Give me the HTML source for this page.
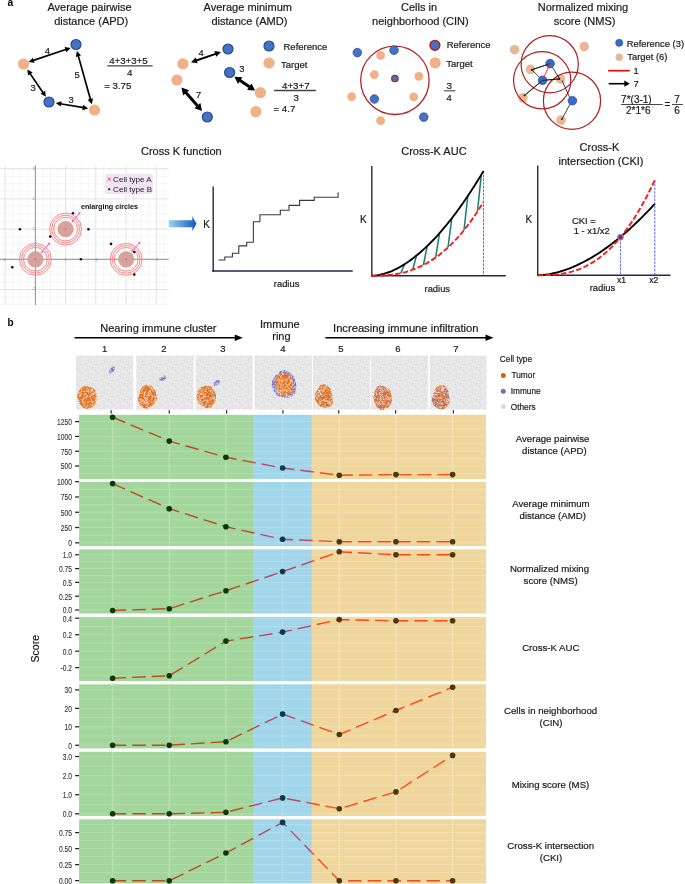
<!DOCTYPE html>
<html><head><meta charset="utf-8"><title>Spatial metrics figure</title>
<style>html,body{margin:0;padding:0;background:#fff;}body{width:685px;height:884px;overflow:hidden;font-family:"Liberation Sans",sans-serif;}svg{display:block;will-change:transform;}</style>
</head><body><svg width="685" height="884" viewBox="0 0 685 884" font-family="Liberation Sans, sans-serif"><text x="7.60" y="6.30" font-size="10.3" text-anchor="start" fill="#000" font-weight="bold" >a</text><text x="89.50" y="11.00" font-size="11" text-anchor="middle" fill="#1a1a1a" stroke="#1a1a1a" stroke-width="0.2" >Average pairwise</text><text x="91.20" y="24.70" font-size="11" text-anchor="middle" fill="#1a1a1a" stroke="#1a1a1a" stroke-width="0.2" >distance (APD)</text><line x1="32.67" y1="60.61" x2="66.53" y2="49.29" stroke="#000" stroke-width="1.7" /><path d="M70.70,47.90 L66.35,52.25 L64.61,47.03Z" fill="#000"/><path d="M28.50,62.00 L32.85,57.65 L34.59,62.87Z" fill="#000"/><line x1="29.78" y1="73.14" x2="43.42" y2="93.16" stroke="#000" stroke-width="1.7" /><path d="M45.90,96.80 L40.53,93.80 L45.08,90.71Z" fill="#000"/><path d="M27.30,69.50 L32.67,72.50 L28.12,75.59Z" fill="#000"/><line x1="78.08" y1="55.14" x2="90.62" y2="99.96" stroke="#000" stroke-width="1.7" /><path d="M91.80,104.20 L87.67,99.64 L92.97,98.16Z" fill="#000"/><path d="M76.90,50.90 L81.03,55.46 L75.73,56.94Z" fill="#000"/><line x1="60.14" y1="103.73" x2="83.76" y2="107.67" stroke="#000" stroke-width="1.7" /><path d="M88.10,108.40 L82.22,110.21 L83.13,104.78Z" fill="#000"/><path d="M55.80,103.00 L61.68,101.19 L60.77,106.62Z" fill="#000"/><circle cx="76.00" cy="44.50" r="5.00" fill="#4472c4" stroke="#27498a" stroke-width="1.2" /><circle cx="23.50" cy="64.00" r="5.60" fill="#f0b088" stroke="none" stroke-width="0" /><circle cx="49.00" cy="102.00" r="5.00" fill="#4472c4" stroke="#27498a" stroke-width="1.2" /><circle cx="94.50" cy="110.00" r="5.60" fill="#f0b088" stroke="none" stroke-width="0" /><text x="47.40" y="53.60" font-size="9.4" text-anchor="middle" fill="#1a1a1a" stroke="#1a1a1a" stroke-width="0.2" >4</text><text x="33.00" y="90.90" font-size="9.4" text-anchor="middle" fill="#1a1a1a" stroke="#1a1a1a" stroke-width="0.2" >3</text><text x="77.10" y="78.00" font-size="9.4" text-anchor="middle" fill="#1a1a1a" stroke="#1a1a1a" stroke-width="0.2" >5</text><text x="71.20" y="102.90" font-size="9.4" text-anchor="middle" fill="#1a1a1a" stroke="#1a1a1a" stroke-width="0.2" >3</text><text x="128.40" y="63.70" font-size="9.7" text-anchor="middle" fill="#1a1a1a" stroke="#1a1a1a" stroke-width="0.2" >4+3+3+5</text><line x1="107.20" y1="65.90" x2="152.60" y2="65.90" stroke="#444" stroke-width="1.3" /><text x="129.70" y="76.20" font-size="9.7" text-anchor="middle" fill="#1a1a1a" stroke="#1a1a1a" stroke-width="0.2" >4</text><text x="104.20" y="89.00" font-size="9.7" text-anchor="start" fill="#1a1a1a" stroke="#1a1a1a" stroke-width="0.2" >= 3.75</text><text x="247.80" y="11.00" font-size="11" text-anchor="middle" fill="#1a1a1a" stroke="#1a1a1a" stroke-width="0.2" >Average minimum</text><text x="249.40" y="24.70" font-size="11" text-anchor="middle" fill="#1a1a1a" stroke="#1a1a1a" stroke-width="0.2" >distance (AMD)</text><line x1="195.54" y1="60.74" x2="216.46" y2="53.56" stroke="#000" stroke-width="1.9" /><path d="M221.00,52.00 L216.30,56.79 L214.35,51.11Z" fill="#000"/><path d="M191.00,62.30 L195.70,57.51 L197.65,63.19Z" fill="#000"/><line x1="239.05" y1="79.82" x2="250.45" y2="87.48" stroke="#000" stroke-width="2.9" /><path d="M255.10,90.60 L247.06,90.02 L251.52,83.38Z" fill="#000"/><path d="M234.40,76.70 L242.44,77.28 L237.98,83.92Z" fill="#000"/><line x1="185.19" y1="91.71" x2="198.31" y2="106.69" stroke="#000" stroke-width="2.9" /><path d="M202.00,110.90 L194.38,108.27 L200.40,103.00Z" fill="#000"/><path d="M181.50,87.50 L189.12,90.13 L183.10,95.40Z" fill="#000"/><circle cx="228.00" cy="49.00" r="5.00" fill="#4472c4" stroke="#27498a" stroke-width="1.2" /><circle cx="182.90" cy="63.80" r="5.60" fill="#f0b088" stroke="none" stroke-width="0" /><circle cx="177.00" cy="80.00" r="5.60" fill="#f0b088" stroke="none" stroke-width="0" /><circle cx="229.60" cy="72.50" r="5.00" fill="#4472c4" stroke="#27498a" stroke-width="1.2" /><circle cx="260.40" cy="92.70" r="5.60" fill="#f0b088" stroke="none" stroke-width="0" /><circle cx="207.30" cy="117.00" r="5.00" fill="#4472c4" stroke="#27498a" stroke-width="1.2" /><circle cx="255.90" cy="111.70" r="5.60" fill="#f0b088" stroke="none" stroke-width="0" /><circle cx="269.00" cy="46.00" r="5.00" fill="#4472c4" stroke="#27498a" stroke-width="1.2" /><circle cx="269.00" cy="63.00" r="5.60" fill="#f0b088" stroke="none" stroke-width="0" /><text x="283.50" y="49.90" font-size="9.5" text-anchor="start" fill="#1a1a1a" stroke="#1a1a1a" stroke-width="0.2" >Reference</text><text x="281.00" y="67.70" font-size="9.5" text-anchor="start" fill="#1a1a1a" stroke="#1a1a1a" stroke-width="0.2" >Target</text><text x="201.20" y="56.10" font-size="9.4" text-anchor="middle" fill="#1a1a1a" stroke="#1a1a1a" stroke-width="0.2" >4</text><text x="241.80" y="72.40" font-size="9.4" text-anchor="middle" fill="#1a1a1a" stroke="#1a1a1a" stroke-width="0.2" >3</text><text x="198.60" y="98.20" font-size="9.4" text-anchor="middle" fill="#1a1a1a" stroke="#1a1a1a" stroke-width="0.2" >7</text><text x="295.80" y="89.30" font-size="9.7" text-anchor="middle" fill="#1a1a1a" stroke="#1a1a1a" stroke-width="0.2" >4+3+7</text><line x1="274.00" y1="90.50" x2="315.80" y2="90.50" stroke="#444" stroke-width="1.3" /><text x="296.10" y="101.10" font-size="9.7" text-anchor="middle" fill="#1a1a1a" stroke="#1a1a1a" stroke-width="0.2" >3</text><text x="273.50" y="111.70" font-size="9.7" text-anchor="start" fill="#1a1a1a" stroke="#1a1a1a" stroke-width="0.2" >= 4.7</text><text x="419.00" y="11.00" font-size="11" text-anchor="middle" fill="#1a1a1a" stroke="#1a1a1a" stroke-width="0.2" >Cells in</text><text x="420.40" y="24.70" font-size="11" text-anchor="middle" fill="#1a1a1a" stroke="#1a1a1a" stroke-width="0.2" >neighborhood (CIN)</text><circle cx="394.90" cy="80.30" r="34.20" fill="none" stroke="#b22222" stroke-width="1.3" /><circle cx="357.30" cy="52.60" r="4.30" fill="#4472c4" stroke="#27498a" stroke-width="0.7" /><circle cx="394.00" cy="50.20" r="4.30" fill="#4472c4" stroke="#27498a" stroke-width="0.7" /><circle cx="374.40" cy="99.00" r="4.30" fill="#4472c4" stroke="#27498a" stroke-width="0.7" /><circle cx="423.80" cy="117.10" r="4.30" fill="#4472c4" stroke="#27498a" stroke-width="0.7" /><circle cx="380.60" cy="55.40" r="4.40" fill="#f0b088" stroke="none" stroke-width="0" /><circle cx="374.40" cy="74.70" r="4.40" fill="#f0b088" stroke="none" stroke-width="0" /><circle cx="418.90" cy="76.30" r="4.40" fill="#f0b088" stroke="none" stroke-width="0" /><circle cx="351.70" cy="96.60" r="4.40" fill="#f0b088" stroke="none" stroke-width="0" /><circle cx="413.70" cy="96.90" r="4.40" fill="#f0b088" stroke="none" stroke-width="0" /><circle cx="380.60" cy="120.60" r="4.40" fill="#f0b088" stroke="none" stroke-width="0" /><circle cx="394.90" cy="78.50" r="3.20" fill="#4472c4" stroke="#b22222" stroke-width="1.3" /><circle cx="434.90" cy="45.30" r="4.80" fill="#4472c4" stroke="#b22222" stroke-width="1.7" /><circle cx="435.20" cy="62.80" r="5.60" fill="#f0b088" stroke="none" stroke-width="0" /><text x="446.70" y="48.00" font-size="9.5" text-anchor="start" fill="#1a1a1a" stroke="#1a1a1a" stroke-width="0.2" >Reference</text><text x="446.20" y="67.30" font-size="9.5" text-anchor="start" fill="#1a1a1a" stroke="#1a1a1a" stroke-width="0.2" >Target</text><text x="449.20" y="89.30" font-size="9.9" text-anchor="middle" fill="#1a1a1a" stroke="#1a1a1a" stroke-width="0.2" >3</text><line x1="444.00" y1="90.80" x2="455.40" y2="90.80" stroke="#444" stroke-width="1.1" /><text x="448.90" y="100.60" font-size="9.9" text-anchor="middle" fill="#1a1a1a" stroke="#1a1a1a" stroke-width="0.2" >4</text><text x="583.00" y="11.00" font-size="11" text-anchor="middle" fill="#1a1a1a" stroke="#1a1a1a" stroke-width="0.2" >Normalized mixing</text><text x="584.60" y="24.70" font-size="11" text-anchor="middle" fill="#1a1a1a" stroke="#1a1a1a" stroke-width="0.2" >score (NMS)</text><circle cx="514.60" cy="49.70" r="4.80" fill="#e8b896" stroke="none" stroke-width="0" /><circle cx="584.20" cy="46.60" r="4.80" fill="#e8b896" stroke="none" stroke-width="0" /><circle cx="530.40" cy="69.40" r="4.80" fill="#e8b896" stroke="none" stroke-width="0" /><circle cx="560.60" cy="79.00" r="4.80" fill="#e8b896" stroke="none" stroke-width="0" /><circle cx="522.90" cy="97.80" r="4.80" fill="#e8b896" stroke="none" stroke-width="0" /><circle cx="561.00" cy="120.10" r="4.80" fill="#e8b896" stroke="none" stroke-width="0" /><circle cx="549.70" cy="64.20" r="28.60" fill="none" stroke="#b01c1c" stroke-width="1.2" /><circle cx="542.20" cy="80.30" r="28.60" fill="none" stroke="#b01c1c" stroke-width="1.2" /><circle cx="572.00" cy="100.70" r="28.60" fill="none" stroke="#b01c1c" stroke-width="1.2" /><line x1="550.10" y1="63.60" x2="531.70" y2="69.80" stroke="#111" stroke-width="0.8" /><circle cx="531.70" cy="69.80" r="0.90" fill="#111" stroke="none" stroke-width="0" /><line x1="531.70" y1="69.80" x2="542.60" y2="80.30" stroke="#111" stroke-width="0.8" /><circle cx="542.60" cy="80.30" r="0.90" fill="#111" stroke="none" stroke-width="0" /><line x1="542.60" y1="80.30" x2="559.30" y2="79.00" stroke="#111" stroke-width="0.8" /><circle cx="559.30" cy="79.00" r="0.90" fill="#111" stroke="none" stroke-width="0" /><line x1="550.10" y1="63.60" x2="559.30" y2="78.40" stroke="#111" stroke-width="0.8" /><circle cx="559.30" cy="78.40" r="0.90" fill="#111" stroke="none" stroke-width="0" /><line x1="561.90" y1="80.30" x2="571.50" y2="101.40" stroke="#111" stroke-width="0.8" /><circle cx="571.50" cy="101.40" r="0.90" fill="#111" stroke="none" stroke-width="0" /><line x1="542.60" y1="80.30" x2="524.50" y2="95.40" stroke="#111" stroke-width="0.8" /><circle cx="524.50" cy="95.40" r="0.90" fill="#111" stroke="none" stroke-width="0" /><line x1="571.50" y1="101.40" x2="561.90" y2="119.10" stroke="#111" stroke-width="0.8" /><circle cx="561.90" cy="119.10" r="0.90" fill="#111" stroke="none" stroke-width="0" /><circle cx="550.10" cy="63.60" r="4.30" fill="#3a6ac4" stroke="#2a52a0" stroke-width="0.8" /><circle cx="542.60" cy="80.30" r="4.30" fill="#3a6ac4" stroke="#2a52a0" stroke-width="0.8" /><circle cx="572.40" cy="100.70" r="4.30" fill="#3a6ac4" stroke="#2a52a0" stroke-width="0.8" /><line x1="550.10" y1="63.60" x2="531.70" y2="69.80" stroke="#111" stroke-width="0.8" /><line x1="542.60" y1="80.30" x2="559.30" y2="79.00" stroke="#111" stroke-width="0.8" /><line x1="542.60" y1="80.30" x2="524.50" y2="95.40" stroke="#111" stroke-width="0.8" /><line x1="550.10" y1="63.60" x2="542.80" y2="79.70" stroke="#ff2020" stroke-width="0.9" /><circle cx="619.20" cy="42.80" r="3.60" fill="#3a6ac4" stroke="#2a52a0" stroke-width="0.6" /><text x="626.70" y="46.50" font-size="9.4" text-anchor="start" fill="#1a1a1a" stroke="#1a1a1a" stroke-width="0.2" >Reference (3)</text><circle cx="619.20" cy="57.30" r="3.70" fill="#e3b898" stroke="none" stroke-width="0" /><text x="627.30" y="60.40" font-size="9.4" text-anchor="start" fill="#1a1a1a" stroke="#1a1a1a" stroke-width="0.2" >Target (6)</text><line x1="608.10" y1="70.70" x2="629.80" y2="70.70" stroke="#ff0000" stroke-width="1.6" /><text x="633.50" y="74.00" font-size="9.4" text-anchor="start" fill="#1a1a1a" stroke="#1a1a1a" stroke-width="0.2" >1</text><line x1="608.70" y1="83.70" x2="625.00" y2="83.70" stroke="#000" stroke-width="1.6" /><path d="M629.80,83.70 L624.30,86.80 L624.30,80.60Z" fill="#000"/><text x="633.50" y="87.10" font-size="9.4" text-anchor="start" fill="#1a1a1a" stroke="#1a1a1a" stroke-width="0.2" >7</text><text x="621.10" y="102.60" font-size="10" text-anchor="start" fill="#1a1a1a" stroke="#1a1a1a" stroke-width="0.2" >7*(3-1)</text><line x1="621.10" y1="104.50" x2="662.70" y2="104.50" stroke="#333" stroke-width="0.9" /><text x="626.00" y="114.40" font-size="10" text-anchor="start" fill="#1a1a1a" stroke="#1a1a1a" stroke-width="0.2" >2*1*6</text><text x="667.30" y="108.00" font-size="10" text-anchor="middle" fill="#1a1a1a" stroke="#1a1a1a" stroke-width="0.2" >=</text><text x="677.00" y="102.60" font-size="10" text-anchor="middle" fill="#1a1a1a" stroke="#1a1a1a" stroke-width="0.2" >7</text><line x1="672.00" y1="104.50" x2="682.90" y2="104.50" stroke="#333" stroke-width="0.9" /><text x="677.00" y="114.40" font-size="10" text-anchor="middle" fill="#1a1a1a" stroke="#1a1a1a" stroke-width="0.2" >6</text><g><line x1="5.20" y1="165.50" x2="5.20" y2="305.00" stroke="#e0e0e0" stroke-width="0.9" /><line x1="12.75" y1="165.50" x2="12.75" y2="305.00" stroke="#f0f0f0" stroke-width="0.7" /><line x1="20.30" y1="165.50" x2="20.30" y2="305.00" stroke="#f0f0f0" stroke-width="0.7" /><line x1="27.85" y1="165.50" x2="27.85" y2="305.00" stroke="#f0f0f0" stroke-width="0.7" /><line x1="35.40" y1="165.50" x2="35.40" y2="305.00" stroke="#e0e0e0" stroke-width="0.9" /><line x1="42.95" y1="165.50" x2="42.95" y2="305.00" stroke="#f0f0f0" stroke-width="0.7" /><line x1="50.50" y1="165.50" x2="50.50" y2="305.00" stroke="#f0f0f0" stroke-width="0.7" /><line x1="58.05" y1="165.50" x2="58.05" y2="305.00" stroke="#f0f0f0" stroke-width="0.7" /><line x1="65.60" y1="165.50" x2="65.60" y2="305.00" stroke="#e0e0e0" stroke-width="0.9" /><line x1="73.15" y1="165.50" x2="73.15" y2="305.00" stroke="#f0f0f0" stroke-width="0.7" /><line x1="80.70" y1="165.50" x2="80.70" y2="305.00" stroke="#f0f0f0" stroke-width="0.7" /><line x1="88.25" y1="165.50" x2="88.25" y2="305.00" stroke="#f0f0f0" stroke-width="0.7" /><line x1="95.80" y1="165.50" x2="95.80" y2="305.00" stroke="#e0e0e0" stroke-width="0.9" /><line x1="103.35" y1="165.50" x2="103.35" y2="305.00" stroke="#f0f0f0" stroke-width="0.7" /><line x1="110.90" y1="165.50" x2="110.90" y2="305.00" stroke="#f0f0f0" stroke-width="0.7" /><line x1="118.45" y1="165.50" x2="118.45" y2="305.00" stroke="#f0f0f0" stroke-width="0.7" /><line x1="126.00" y1="165.50" x2="126.00" y2="305.00" stroke="#e0e0e0" stroke-width="0.9" /><line x1="133.55" y1="165.50" x2="133.55" y2="305.00" stroke="#f0f0f0" stroke-width="0.7" /><line x1="141.10" y1="165.50" x2="141.10" y2="305.00" stroke="#f0f0f0" stroke-width="0.7" /><line x1="148.65" y1="165.50" x2="148.65" y2="305.00" stroke="#f0f0f0" stroke-width="0.7" /><line x1="156.20" y1="165.50" x2="156.20" y2="305.00" stroke="#e0e0e0" stroke-width="0.9" /><line x1="163.75" y1="165.50" x2="163.75" y2="305.00" stroke="#f0f0f0" stroke-width="0.7" /><line x1="0.00" y1="168.70" x2="168.70" y2="168.70" stroke="#e0e0e0" stroke-width="0.9" /><line x1="0.00" y1="176.25" x2="168.70" y2="176.25" stroke="#f0f0f0" stroke-width="0.7" /><line x1="0.00" y1="183.80" x2="168.70" y2="183.80" stroke="#f0f0f0" stroke-width="0.7" /><line x1="0.00" y1="191.35" x2="168.70" y2="191.35" stroke="#f0f0f0" stroke-width="0.7" /><line x1="0.00" y1="198.90" x2="168.70" y2="198.90" stroke="#e0e0e0" stroke-width="0.9" /><line x1="0.00" y1="206.45" x2="168.70" y2="206.45" stroke="#f0f0f0" stroke-width="0.7" /><line x1="0.00" y1="214.00" x2="168.70" y2="214.00" stroke="#f0f0f0" stroke-width="0.7" /><line x1="0.00" y1="221.55" x2="168.70" y2="221.55" stroke="#f0f0f0" stroke-width="0.7" /><line x1="0.00" y1="229.10" x2="168.70" y2="229.10" stroke="#e0e0e0" stroke-width="0.9" /><line x1="0.00" y1="236.65" x2="168.70" y2="236.65" stroke="#f0f0f0" stroke-width="0.7" /><line x1="0.00" y1="244.20" x2="168.70" y2="244.20" stroke="#f0f0f0" stroke-width="0.7" /><line x1="0.00" y1="251.75" x2="168.70" y2="251.75" stroke="#f0f0f0" stroke-width="0.7" /><line x1="0.00" y1="259.30" x2="168.70" y2="259.30" stroke="#e0e0e0" stroke-width="0.9" /><line x1="0.00" y1="266.85" x2="168.70" y2="266.85" stroke="#f0f0f0" stroke-width="0.7" /><line x1="0.00" y1="274.40" x2="168.70" y2="274.40" stroke="#f0f0f0" stroke-width="0.7" /><line x1="0.00" y1="281.95" x2="168.70" y2="281.95" stroke="#f0f0f0" stroke-width="0.7" /><line x1="0.00" y1="289.50" x2="168.70" y2="289.50" stroke="#e0e0e0" stroke-width="0.9" /><line x1="0.00" y1="297.05" x2="168.70" y2="297.05" stroke="#f0f0f0" stroke-width="0.7" /><line x1="0.00" y1="304.60" x2="168.70" y2="304.60" stroke="#f0f0f0" stroke-width="0.7" /><line x1="35.40" y1="165.50" x2="35.40" y2="305.00" stroke="#8a8a8a" stroke-width="0.9" /><line x1="0.00" y1="259.30" x2="168.70" y2="259.30" stroke="#8a8a8a" stroke-width="0.9" /><text x="4.70" y="261.00" font-size="3" text-anchor="middle" fill="#777" >-2</text><text x="65.60" y="261.00" font-size="3" text-anchor="middle" fill="#777" >2</text><text x="96.00" y="261.00" font-size="3" text-anchor="middle" fill="#777" >4</text><text x="126.00" y="261.00" font-size="3" text-anchor="middle" fill="#777" >6</text><text x="157.00" y="261.00" font-size="3" text-anchor="middle" fill="#777" >8</text><text x="33.50" y="170.00" font-size="3" text-anchor="middle" fill="#777" >6</text><text x="33.50" y="200.00" font-size="3" text-anchor="middle" fill="#777" >4</text><text x="33.50" y="230.00" font-size="3" text-anchor="middle" fill="#777" >2</text><text x="33.50" y="290.00" font-size="3" text-anchor="middle" fill="#777" >-2</text></g><rect x="105.3" y="173.7" width="47.7" height="20.6" rx="2.5" fill="#f1e2f6"/><line x1="107.70" y1="177.70" x2="110.70" y2="180.70" stroke="#d85050" stroke-width="0.95" /><line x1="107.70" y1="180.70" x2="110.70" y2="177.70" stroke="#d85050" stroke-width="0.95" /><text x="113.10" y="181.80" font-size="8.05" text-anchor="start" fill="#222" >Cell type A</text><circle cx="109.20" cy="189.30" r="1.05" fill="#111" stroke="none" stroke-width="0" /><text x="113.10" y="191.80" font-size="8.05" text-anchor="start" fill="#222" >Cell type B</text><text x="80.90" y="208.70" font-size="7.2" text-anchor="start" fill="#111" font-weight="bold" >enlarging circles</text><circle cx="35.40" cy="259.30" r="11.90" fill="none" stroke="#ff8080" stroke-width="0.95" /><circle cx="35.40" cy="259.30" r="13.90" fill="none" stroke="#ff8080" stroke-width="0.95" /><circle cx="35.40" cy="259.30" r="15.95" fill="none" stroke="#ff8080" stroke-width="0.95" /><circle cx="35.40" cy="259.30" r="7.90" fill="#d7a19c" stroke="#c07c7a" stroke-width="0.5" stroke-dasharray="1,1"/><text x="35.40" y="260.90" font-size="4.5" text-anchor="middle" fill="#c06060" >×</text><circle cx="65.60" cy="229.10" r="11.90" fill="none" stroke="#ff8080" stroke-width="0.95" /><circle cx="65.60" cy="229.10" r="13.90" fill="none" stroke="#ff8080" stroke-width="0.95" /><circle cx="65.60" cy="229.10" r="15.95" fill="none" stroke="#ff8080" stroke-width="0.95" /><circle cx="65.60" cy="229.10" r="7.90" fill="#d7a19c" stroke="#c07c7a" stroke-width="0.5" stroke-dasharray="1,1"/><text x="65.60" y="230.70" font-size="4.5" text-anchor="middle" fill="#c06060" >×</text><circle cx="126.20" cy="259.30" r="11.90" fill="none" stroke="#ff8080" stroke-width="0.95" /><circle cx="126.20" cy="259.30" r="13.90" fill="none" stroke="#ff8080" stroke-width="0.95" /><circle cx="126.20" cy="259.30" r="15.95" fill="none" stroke="#ff8080" stroke-width="0.95" /><circle cx="126.20" cy="259.30" r="7.90" fill="#d7a19c" stroke="#c07c7a" stroke-width="0.5" stroke-dasharray="1,1"/><text x="126.20" y="260.90" font-size="4.5" text-anchor="middle" fill="#c06060" >×</text><circle cx="19.90" cy="229.20" r="1.30" fill="#111" stroke="none" stroke-width="0" /><circle cx="73.00" cy="213.30" r="1.30" fill="#111" stroke="none" stroke-width="0" /><circle cx="88.50" cy="229.20" r="1.30" fill="#111" stroke="none" stroke-width="0" /><circle cx="50.20" cy="236.60" r="1.30" fill="#111" stroke="none" stroke-width="0" /><circle cx="111.00" cy="243.90" r="1.30" fill="#111" stroke="none" stroke-width="0" /><circle cx="134.30" cy="252.00" r="1.30" fill="#111" stroke="none" stroke-width="0" /><circle cx="80.90" cy="259.30" r="1.30" fill="#111" stroke="none" stroke-width="0" /><circle cx="12.30" cy="267.30" r="1.30" fill="#111" stroke="none" stroke-width="0" /><circle cx="134.30" cy="274.60" r="1.30" fill="#111" stroke="none" stroke-width="0" /><line x1="42.26" y1="251.62" x2="48.84" y2="243.98" stroke="#ff4fc8" stroke-width="0.9" /><path d="M50.20,242.40 L49.49,245.22 L47.52,243.52Z" fill="#ff4fc8"/><path d="M40.90,253.20 L41.61,250.38 L43.58,252.08Z" fill="#ff4fc8"/><line x1="72.84" y1="221.01" x2="79.26" y2="213.39" stroke="#ff4fc8" stroke-width="0.9" /><path d="M80.60,211.80 L79.92,214.63 L77.93,212.95Z" fill="#ff4fc8"/><path d="M71.50,222.60 L72.18,219.77 L74.17,221.45Z" fill="#ff4fc8"/><line x1="132.39" y1="250.65" x2="139.11" y2="243.15" stroke="#ff4fc8" stroke-width="0.9" /><path d="M140.50,241.60 L139.73,244.40 L137.80,242.67Z" fill="#ff4fc8"/><path d="M131.00,252.20 L131.77,249.40 L133.70,251.13Z" fill="#ff4fc8"/><defs><linearGradient id="bg1" x1="0" x2="1" y1="0" y2="0"><stop offset="0" stop-color="#9fd3f5"/><stop offset="1" stop-color="#0b5bbd"/></linearGradient></defs><path d="M168.7,220.3 L192.3,220.3 L192.3,216.2 L196.5,223.7 L192.3,231.2 L192.3,227.2 L168.7,227.2Z" fill="url(#bg1)"/><text x="181.30" y="155.00" font-size="11" text-anchor="middle" fill="#1a1a1a" stroke="#1a1a1a" stroke-width="0.2" >Cross K function</text><line x1="213.20" y1="186.40" x2="213.20" y2="271.70" stroke="#1f2a4f" stroke-width="1.4" /><line x1="212.00" y1="271.00" x2="352.70" y2="271.00" stroke="#1f2a4f" stroke-width="1.4" /><text x="203.30" y="228.20" font-size="10" text-anchor="start" fill="#1a1a1a" stroke="#1a1a1a" stroke-width="0.2" >K</text><text x="286.60" y="286.60" font-size="9.4" text-anchor="middle" fill="#1a1a1a" stroke="#1a1a1a" stroke-width="0.2" >radius</text><polyline points="218.4,260 224.8,260 224.8,257 232.4,257 232.4,253.2 238.8,253.2 238.8,245.9 246.7,245.9 246.7,242.2 253.4,242.2 253.4,221.7 259.9,221.7 259.9,214.7 280.3,214.7 280.3,210.3 289,210.3 289,205.4 299.6,205.4 299.6,200.4 314.2,200.4 314.2,197.2 338.1,197.2 338.1,192.3" fill="none" stroke="#3a3a3a" stroke-width="1.1"/><text x="433.90" y="155.00" font-size="11" text-anchor="middle" fill="#1a1a1a" stroke="#1a1a1a" stroke-width="0.2" >Cross-K AUC</text><line x1="371.80" y1="166.00" x2="371.80" y2="276.40" stroke="#1f2a4f" stroke-width="1.4" /><line x1="371.00" y1="275.70" x2="505.80" y2="275.70" stroke="#1f2a4f" stroke-width="1.4" /><text x="360.00" y="223.10" font-size="10" text-anchor="start" fill="#1a1a1a" stroke="#1a1a1a" stroke-width="0.2" >K</text><text x="437.30" y="292.00" font-size="9.4" text-anchor="middle" fill="#1a1a1a" stroke="#1a1a1a" stroke-width="0.2" >radius</text><line x1="483.50" y1="171.00" x2="483.50" y2="275.00" stroke="#4455ff" stroke-width="0.9" stroke-dasharray="2.6,1.1"/><line x1="404.60" y1="264.16" x2="400.80" y2="273.17" stroke="#187a70" stroke-width="1.5" /><line x1="416.50" y1="255.56" x2="412.70" y2="269.72" stroke="#187a70" stroke-width="1.5" /><line x1="427.20" y1="246.07" x2="423.40" y2="265.01" stroke="#187a70" stroke-width="1.5" /><line x1="439.50" y1="233.19" x2="435.70" y2="257.46" stroke="#187a70" stroke-width="1.5" /><line x1="451.80" y1="218.29" x2="448.00" y2="247.37" stroke="#187a70" stroke-width="1.5" /><line x1="467.80" y1="195.99" x2="464.00" y2="230.08" stroke="#187a70" stroke-width="1.5" /><line x1="481.30" y1="174.68" x2="477.50" y2="211.50" stroke="#187a70" stroke-width="1.5" /><polyline points="371.80,275.70 373.66,275.63 375.52,275.47 377.38,275.22 379.25,274.90 381.11,274.50 382.97,274.04 384.83,273.51 386.69,272.91 388.56,272.26 390.42,271.54 392.28,270.76 394.14,269.92 396.00,269.03 397.86,268.07 399.73,267.07 401.59,266.00 403.45,264.88 405.31,263.71 407.17,262.49 409.03,261.21 410.89,259.88 412.76,258.50 414.62,257.06 416.48,255.58 418.34,254.04 420.20,252.46 422.06,250.83 423.93,249.14 425.79,247.41 427.65,245.63 429.51,243.80 431.37,241.93 433.24,240.01 435.10,238.04 436.96,236.02 438.82,233.95 440.68,231.84 442.54,229.69 444.40,227.48 446.27,225.24 448.13,222.94 449.99,220.60 451.85,218.22 453.71,215.79 455.57,213.32 457.44,210.80 459.30,208.24 461.16,205.63 463.02,202.98 464.88,200.29 466.75,197.56 468.61,194.78 470.47,191.95 472.33,189.09 474.19,186.18 476.05,183.23 477.91,180.23 479.78,177.20 481.64,174.12 483.50,171.00" fill="none" stroke="#000" stroke-width="1.9"/><polyline points="371.80,275.70 373.66,275.70 375.52,275.69 377.38,275.66 379.25,275.62 381.11,275.55 382.97,275.47 384.83,275.36 386.69,275.22 388.56,275.06 390.42,274.86 392.28,274.64 394.14,274.38 396.00,274.09 397.86,273.76 399.73,273.40 401.59,272.99 403.45,272.55 405.31,272.07 407.17,271.54 409.03,270.97 410.89,270.36 412.76,269.70 414.62,268.99 416.48,268.24 418.34,267.44 420.20,266.59 422.06,265.69 423.93,264.74 425.79,263.73 427.65,262.67 429.51,261.56 431.37,260.39 433.24,259.17 435.10,257.88 436.96,256.55 438.82,255.15 440.68,253.69 442.54,252.17 444.40,250.60 446.27,248.96 448.13,247.25 449.99,245.49 451.85,243.65 453.71,241.76 455.57,239.80 457.44,237.77 459.30,235.67 461.16,233.51 463.02,231.28 464.88,228.98 466.75,226.61 468.61,224.17 470.47,221.65 472.33,219.07 474.19,216.41 476.05,213.68 477.91,210.87 479.78,207.99 481.64,205.03 483.50,202.00" fill="none" stroke="#ff1a1a" stroke-width="1.9" stroke-dasharray="5.5,2.3"/><text x="599.40" y="150.50" font-size="11" text-anchor="middle" fill="#1a1a1a" stroke="#1a1a1a" stroke-width="0.2" >Cross-K</text><text x="601.00" y="164.60" font-size="11" text-anchor="middle" fill="#1a1a1a" stroke="#1a1a1a" stroke-width="0.2" >intersection (CKI)</text><line x1="537.70" y1="165.50" x2="537.70" y2="275.70" stroke="#1f2a4f" stroke-width="1.4" /><line x1="537.00" y1="275.20" x2="670.50" y2="275.20" stroke="#1f2a4f" stroke-width="1.4" /><text x="525.40" y="223.10" font-size="10" text-anchor="start" fill="#1a1a1a" stroke="#1a1a1a" stroke-width="0.2" >K</text><text x="602.50" y="291.00" font-size="9.4" text-anchor="middle" fill="#1a1a1a" stroke="#1a1a1a" stroke-width="0.2" >radius</text><text x="621.60" y="282.60" font-size="8.6" text-anchor="middle" fill="#1a1a1a" stroke="#1a1a1a" stroke-width="0.2" >x1</text><text x="653.70" y="282.60" font-size="8.6" text-anchor="middle" fill="#1a1a1a" stroke="#1a1a1a" stroke-width="0.2" >x2</text><line x1="620.40" y1="238.00" x2="620.40" y2="275.00" stroke="#4455ff" stroke-width="0.9" stroke-dasharray="2.6,1.1"/><line x1="654.80" y1="180.10" x2="654.80" y2="275.00" stroke="#4455ff" stroke-width="0.9" stroke-dasharray="2.6,1.1"/><polyline points="537.70,275.20 539.65,275.16 541.60,275.04 543.56,274.88 545.51,274.65 547.46,274.38 549.41,274.07 551.36,273.71 553.31,273.30 555.26,272.85 557.22,272.36 559.17,271.83 561.12,271.26 563.07,270.65 565.02,270.00 566.98,269.31 568.93,268.59 570.88,267.82 572.83,267.02 574.78,266.19 576.73,265.32 578.69,264.41 580.64,263.47 582.59,262.49 584.54,261.48 586.49,260.43 588.44,259.35 590.39,258.24 592.35,257.09 594.30,255.91 596.25,254.70 598.20,253.45 600.15,252.17 602.11,250.86 604.06,249.51 606.01,248.14 607.96,246.73 609.91,245.29 611.86,243.82 613.81,242.32 615.77,240.79 617.72,239.22 619.67,237.63 621.62,236.00 623.57,234.35 625.52,232.66 627.48,230.94 629.43,229.20 631.38,227.42 633.33,225.61 635.28,223.78 637.24,221.91 639.19,220.01 641.14,218.09 643.09,216.13 645.04,214.15 646.99,212.14 648.94,210.10 650.90,208.03 652.85,205.93 654.80,203.80" fill="none" stroke="#000" stroke-width="1.9"/><polyline points="537.70,275.20 539.65,275.20 541.60,275.19 543.56,275.17 545.51,275.13 547.46,275.07 549.41,274.99 551.36,274.88 553.31,274.74 555.26,274.58 557.22,274.38 559.17,274.14 561.12,273.86 563.07,273.55 565.02,273.19 566.98,272.79 568.93,272.34 570.88,271.84 572.83,271.29 574.78,270.68 576.73,270.03 578.69,269.31 580.64,268.54 582.59,267.71 584.54,266.81 586.49,265.85 588.44,264.83 590.39,263.74 592.35,262.58 594.30,261.35 596.25,260.05 598.20,258.67 600.15,257.22 602.11,255.70 604.06,254.09 606.01,252.40 607.96,250.64 609.91,248.79 611.86,246.85 613.81,244.83 615.77,242.73 617.72,240.53 619.67,238.24 621.62,235.87 623.57,233.39 625.52,230.83 627.48,228.17 629.43,225.41 631.38,222.55 633.33,219.60 635.28,216.54 637.24,213.38 639.19,210.11 641.14,206.74 643.09,203.27 645.04,199.68 646.99,195.99 648.94,192.19 650.90,188.27 652.85,184.24 654.80,180.10" fill="none" stroke="#ff1a1a" stroke-width="1.9" stroke-dasharray="5.5,2.3"/><circle cx="620.50" cy="237.20" r="2.70" fill="#a82424" stroke="#6a8ad0" stroke-width="1.1" /><text x="572.00" y="223.50" font-size="9.4" text-anchor="start" fill="#1a1a1a" stroke="#1a1a1a" stroke-width="0.2" >CKI =</text><text x="573.80" y="234.40" font-size="9.4" text-anchor="start" fill="#1a1a1a" stroke="#1a1a1a" stroke-width="0.2" >1 - x1/x2</text><text x="7.40" y="326.00" font-size="10" text-anchor="start" fill="#000" font-weight="bold" >b</text><text x="158.40" y="331.50" font-size="11" text-anchor="middle" fill="#1a1a1a" stroke="#1a1a1a" stroke-width="0.2" >Nearing immune cluster</text><line x1="74.60" y1="337.70" x2="236.00" y2="337.70" stroke="#000" stroke-width="1.5" /><path d="M242.80,337.70 L234.80,340.95 L234.80,334.45Z" fill="#000"/><text x="279.80" y="327.60" font-size="11" text-anchor="middle" fill="#1a1a1a" stroke="#1a1a1a" stroke-width="0.2" >Immune</text><text x="281.40" y="339.60" font-size="11" text-anchor="middle" fill="#1a1a1a" stroke="#1a1a1a" stroke-width="0.2" >ring</text><text x="405.80" y="331.50" font-size="11.2" text-anchor="middle" fill="#1a1a1a" stroke="#1a1a1a" stroke-width="0.2" >Increasing immune infiltration</text><line x1="325.40" y1="337.70" x2="487.00" y2="337.70" stroke="#000" stroke-width="1.5" /><path d="M493.50,337.70 L485.50,340.95 L485.50,334.45Z" fill="#000"/><text x="104.60" y="352.20" font-size="9.5" text-anchor="middle" fill="#1a1a1a" stroke="#1a1a1a" stroke-width="0.2" >1</text><text x="163.80" y="352.20" font-size="9.5" text-anchor="middle" fill="#1a1a1a" stroke="#1a1a1a" stroke-width="0.2" >2</text><text x="222.90" y="352.20" font-size="9.5" text-anchor="middle" fill="#1a1a1a" stroke="#1a1a1a" stroke-width="0.2" >3</text><text x="282.90" y="352.20" font-size="9.5" text-anchor="middle" fill="#1a1a1a" stroke="#1a1a1a" stroke-width="0.2" >4</text><text x="340.80" y="352.20" font-size="9.5" text-anchor="middle" fill="#1a1a1a" stroke="#1a1a1a" stroke-width="0.2" >5</text><text x="397.80" y="352.20" font-size="9.5" text-anchor="middle" fill="#1a1a1a" stroke="#1a1a1a" stroke-width="0.2" >6</text><text x="455.80" y="352.20" font-size="9.5" text-anchor="middle" fill="#1a1a1a" stroke="#1a1a1a" stroke-width="0.2" >7</text><defs><pattern id="noise" patternUnits="userSpaceOnUse" width="16" height="16"><rect width="16" height="16" fill="#f2f2f2"/><rect x="0.0" y="0.0" width="0.5" height="0.5" fill="#dadada"/><rect x="0.5" y="0.0" width="0.5" height="0.5" fill="#d2d2d2"/><rect x="1.5" y="0.0" width="0.5" height="0.5" fill="#d6d6d6"/><rect x="2.5" y="0.0" width="0.5" height="0.5" fill="#dadada"/><rect x="3.0" y="0.0" width="0.5" height="0.5" fill="#d2d2d2"/><rect x="4.5" y="0.0" width="0.5" height="0.5" fill="#dadada"/><rect x="5.0" y="0.0" width="0.5" height="0.5" fill="#dadada"/><rect x="7.5" y="0.0" width="0.5" height="0.5" fill="#d6d6d6"/><rect x="8.0" y="0.0" width="0.5" height="0.5" fill="#d6d6d6"/><rect x="9.0" y="0.0" width="0.5" height="0.5" fill="#d2d2d2"/><rect x="10.5" y="0.0" width="0.5" height="0.5" fill="#d2d2d2"/><rect x="11.5" y="0.0" width="0.5" height="0.5" fill="#dedede"/><rect x="12.0" y="0.0" width="0.5" height="0.5" fill="#dadada"/><rect x="12.5" y="0.0" width="0.5" height="0.5" fill="#dedede"/><rect x="13.5" y="0.0" width="0.5" height="0.5" fill="#dedede"/><rect x="14.0" y="0.0" width="0.5" height="0.5" fill="#d2d2d2"/><rect x="15.5" y="0.0" width="0.5" height="0.5" fill="#dadada"/><rect x="3.0" y="0.5" width="0.5" height="0.5" fill="#dedede"/><rect x="5.5" y="0.5" width="0.5" height="0.5" fill="#dedede"/><rect x="6.0" y="0.5" width="0.5" height="0.5" fill="#d6d6d6"/><rect x="6.5" y="0.5" width="0.5" height="0.5" fill="#d2d2d2"/><rect x="7.0" y="0.5" width="0.5" height="0.5" fill="#d6d6d6"/><rect x="7.5" y="0.5" width="0.5" height="0.5" fill="#dadada"/><rect x="8.0" y="0.5" width="0.5" height="0.5" fill="#d2d2d2"/><rect x="9.5" y="0.5" width="0.5" height="0.5" fill="#d6d6d6"/><rect x="10.0" y="0.5" width="0.5" height="0.5" fill="#dedede"/><rect x="11.5" y="0.5" width="0.5" height="0.5" fill="#dadada"/><rect x="12.5" y="0.5" width="0.5" height="0.5" fill="#d6d6d6"/><rect x="13.0" y="0.5" width="0.5" height="0.5" fill="#d6d6d6"/><rect x="14.5" y="0.5" width="0.5" height="0.5" fill="#dedede"/><rect x="15.0" y="0.5" width="0.5" height="0.5" fill="#d6d6d6"/><rect x="0.0" y="1.0" width="0.5" height="0.5" fill="#dedede"/><rect x="1.5" y="1.0" width="0.5" height="0.5" fill="#d2d2d2"/><rect x="2.5" y="1.0" width="0.5" height="0.5" fill="#d6d6d6"/><rect x="4.5" y="1.0" width="0.5" height="0.5" fill="#dadada"/><rect x="5.5" y="1.0" width="0.5" height="0.5" fill="#dedede"/><rect x="7.0" y="1.0" width="0.5" height="0.5" fill="#d2d2d2"/><rect x="8.0" y="1.0" width="0.5" height="0.5" fill="#d2d2d2"/><rect x="9.5" y="1.0" width="0.5" height="0.5" fill="#dedede"/><rect x="10.0" y="1.0" width="0.5" height="0.5" fill="#dedede"/><rect x="11.0" y="1.0" width="0.5" height="0.5" fill="#d2d2d2"/><rect x="11.5" y="1.0" width="0.5" height="0.5" fill="#d6d6d6"/><rect x="12.5" y="1.0" width="0.5" height="0.5" fill="#dedede"/><rect x="13.0" y="1.0" width="0.5" height="0.5" fill="#d2d2d2"/><rect x="13.5" y="1.0" width="0.5" height="0.5" fill="#dedede"/><rect x="14.0" y="1.0" width="0.5" height="0.5" fill="#dadada"/><rect x="14.5" y="1.0" width="0.5" height="0.5" fill="#dedede"/><rect x="15.5" y="1.0" width="0.5" height="0.5" fill="#d2d2d2"/><rect x="0.0" y="1.5" width="0.5" height="0.5" fill="#d6d6d6"/><rect x="1.5" y="1.5" width="0.5" height="0.5" fill="#dadada"/><rect x="2.5" y="1.5" width="0.5" height="0.5" fill="#dedede"/><rect x="3.0" y="1.5" width="0.5" height="0.5" fill="#d2d2d2"/><rect x="4.0" y="1.5" width="0.5" height="0.5" fill="#dedede"/><rect x="5.5" y="1.5" width="0.5" height="0.5" fill="#dadada"/><rect x="6.0" y="1.5" width="0.5" height="0.5" fill="#dadada"/><rect x="7.0" y="1.5" width="0.5" height="0.5" fill="#dadada"/><rect x="8.0" y="1.5" width="0.5" height="0.5" fill="#dadada"/><rect x="8.5" y="1.5" width="0.5" height="0.5" fill="#dadada"/><rect x="9.5" y="1.5" width="0.5" height="0.5" fill="#d6d6d6"/><rect x="10.5" y="1.5" width="0.5" height="0.5" fill="#dadada"/><rect x="11.0" y="1.5" width="0.5" height="0.5" fill="#dedede"/><rect x="11.5" y="1.5" width="0.5" height="0.5" fill="#d2d2d2"/><rect x="12.0" y="1.5" width="0.5" height="0.5" fill="#d2d2d2"/><rect x="12.5" y="1.5" width="0.5" height="0.5" fill="#d2d2d2"/><rect x="13.0" y="1.5" width="0.5" height="0.5" fill="#d6d6d6"/><rect x="13.5" y="1.5" width="0.5" height="0.5" fill="#d2d2d2"/><rect x="15.5" y="1.5" width="0.5" height="0.5" fill="#d2d2d2"/><rect x="1.5" y="2.0" width="0.5" height="0.5" fill="#dedede"/><rect x="4.0" y="2.0" width="0.5" height="0.5" fill="#dadada"/><rect x="4.5" y="2.0" width="0.5" height="0.5" fill="#dadada"/><rect x="6.5" y="2.0" width="0.5" height="0.5" fill="#d6d6d6"/><rect x="7.0" y="2.0" width="0.5" height="0.5" fill="#dedede"/><rect x="7.5" y="2.0" width="0.5" height="0.5" fill="#d6d6d6"/><rect x="8.5" y="2.0" width="0.5" height="0.5" fill="#d6d6d6"/><rect x="9.0" y="2.0" width="0.5" height="0.5" fill="#dedede"/><rect x="11.0" y="2.0" width="0.5" height="0.5" fill="#dadada"/><rect x="11.5" y="2.0" width="0.5" height="0.5" fill="#d6d6d6"/><rect x="12.0" y="2.0" width="0.5" height="0.5" fill="#dedede"/><rect x="14.0" y="2.0" width="0.5" height="0.5" fill="#d2d2d2"/><rect x="14.5" y="2.0" width="0.5" height="0.5" fill="#dedede"/><rect x="15.0" y="2.0" width="0.5" height="0.5" fill="#d2d2d2"/><rect x="15.5" y="2.0" width="0.5" height="0.5" fill="#dedede"/><rect x="0.5" y="2.5" width="0.5" height="0.5" fill="#d6d6d6"/><rect x="1.5" y="2.5" width="0.5" height="0.5" fill="#d6d6d6"/><rect x="2.0" y="2.5" width="0.5" height="0.5" fill="#d6d6d6"/><rect x="3.0" y="2.5" width="0.5" height="0.5" fill="#d2d2d2"/><rect x="3.5" y="2.5" width="0.5" height="0.5" fill="#dedede"/><rect x="4.0" y="2.5" width="0.5" height="0.5" fill="#d2d2d2"/><rect x="5.5" y="2.5" width="0.5" height="0.5" fill="#dadada"/><rect x="6.5" y="2.5" width="0.5" height="0.5" fill="#dadada"/><rect x="8.0" y="2.5" width="0.5" height="0.5" fill="#d6d6d6"/><rect x="9.0" y="2.5" width="0.5" height="0.5" fill="#d2d2d2"/><rect x="10.5" y="2.5" width="0.5" height="0.5" fill="#d6d6d6"/><rect x="11.5" y="2.5" width="0.5" height="0.5" fill="#dedede"/><rect x="13.0" y="2.5" width="0.5" height="0.5" fill="#d2d2d2"/><rect x="13.5" y="2.5" width="0.5" height="0.5" fill="#dadada"/><rect x="14.0" y="2.5" width="0.5" height="0.5" fill="#dedede"/><rect x="15.0" y="2.5" width="0.5" height="0.5" fill="#d2d2d2"/><rect x="15.5" y="2.5" width="0.5" height="0.5" fill="#dadada"/><rect x="1.0" y="3.0" width="0.5" height="0.5" fill="#dedede"/><rect x="1.5" y="3.0" width="0.5" height="0.5" fill="#d6d6d6"/><rect x="4.0" y="3.0" width="0.5" height="0.5" fill="#d6d6d6"/><rect x="5.5" y="3.0" width="0.5" height="0.5" fill="#d6d6d6"/><rect x="6.0" y="3.0" width="0.5" height="0.5" fill="#dadada"/><rect x="7.0" y="3.0" width="0.5" height="0.5" fill="#d6d6d6"/><rect x="8.5" y="3.0" width="0.5" height="0.5" fill="#d6d6d6"/><rect x="9.0" y="3.0" width="0.5" height="0.5" fill="#d6d6d6"/><rect x="9.5" y="3.0" width="0.5" height="0.5" fill="#d6d6d6"/><rect x="12.5" y="3.0" width="0.5" height="0.5" fill="#dadada"/><rect x="13.0" y="3.0" width="0.5" height="0.5" fill="#d6d6d6"/><rect x="14.0" y="3.0" width="0.5" height="0.5" fill="#dedede"/><rect x="15.0" y="3.0" width="0.5" height="0.5" fill="#d6d6d6"/><rect x="15.5" y="3.0" width="0.5" height="0.5" fill="#dadada"/><rect x="0.5" y="3.5" width="0.5" height="0.5" fill="#d2d2d2"/><rect x="1.0" y="3.5" width="0.5" height="0.5" fill="#d2d2d2"/><rect x="3.0" y="3.5" width="0.5" height="0.5" fill="#dadada"/><rect x="4.0" y="3.5" width="0.5" height="0.5" fill="#dadada"/><rect x="4.5" y="3.5" width="0.5" height="0.5" fill="#d2d2d2"/><rect x="5.0" y="3.5" width="0.5" height="0.5" fill="#d2d2d2"/><rect x="6.0" y="3.5" width="0.5" height="0.5" fill="#d6d6d6"/><rect x="6.5" y="3.5" width="0.5" height="0.5" fill="#d2d2d2"/><rect x="8.0" y="3.5" width="0.5" height="0.5" fill="#dadada"/><rect x="8.5" y="3.5" width="0.5" height="0.5" fill="#dadada"/><rect x="9.0" y="3.5" width="0.5" height="0.5" fill="#dedede"/><rect x="14.5" y="3.5" width="0.5" height="0.5" fill="#dedede"/><rect x="15.0" y="3.5" width="0.5" height="0.5" fill="#d2d2d2"/><rect x="15.5" y="3.5" width="0.5" height="0.5" fill="#dedede"/><rect x="0.0" y="4.0" width="0.5" height="0.5" fill="#d2d2d2"/><rect x="1.0" y="4.0" width="0.5" height="0.5" fill="#d2d2d2"/><rect x="2.0" y="4.0" width="0.5" height="0.5" fill="#d6d6d6"/><rect x="2.5" y="4.0" width="0.5" height="0.5" fill="#d6d6d6"/><rect x="3.5" y="4.0" width="0.5" height="0.5" fill="#d6d6d6"/><rect x="4.0" y="4.0" width="0.5" height="0.5" fill="#dadada"/><rect x="6.0" y="4.0" width="0.5" height="0.5" fill="#dadada"/><rect x="7.0" y="4.0" width="0.5" height="0.5" fill="#dadada"/><rect x="8.0" y="4.0" width="0.5" height="0.5" fill="#d6d6d6"/><rect x="9.0" y="4.0" width="0.5" height="0.5" fill="#d6d6d6"/><rect x="9.5" y="4.0" width="0.5" height="0.5" fill="#d2d2d2"/><rect x="10.0" y="4.0" width="0.5" height="0.5" fill="#d6d6d6"/><rect x="10.5" y="4.0" width="0.5" height="0.5" fill="#dedede"/><rect x="11.5" y="4.0" width="0.5" height="0.5" fill="#dedede"/><rect x="12.0" y="4.0" width="0.5" height="0.5" fill="#dedede"/><rect x="12.5" y="4.0" width="0.5" height="0.5" fill="#dedede"/><rect x="13.0" y="4.0" width="0.5" height="0.5" fill="#d2d2d2"/><rect x="13.5" y="4.0" width="0.5" height="0.5" fill="#dadada"/><rect x="15.0" y="4.0" width="0.5" height="0.5" fill="#dadada"/><rect x="0.0" y="4.5" width="0.5" height="0.5" fill="#dedede"/><rect x="0.5" y="4.5" width="0.5" height="0.5" fill="#d2d2d2"/><rect x="1.0" y="4.5" width="0.5" height="0.5" fill="#dedede"/><rect x="1.5" y="4.5" width="0.5" height="0.5" fill="#dedede"/><rect x="2.5" y="4.5" width="0.5" height="0.5" fill="#d2d2d2"/><rect x="3.0" y="4.5" width="0.5" height="0.5" fill="#dedede"/><rect x="3.5" y="4.5" width="0.5" height="0.5" fill="#dedede"/><rect x="5.0" y="4.5" width="0.5" height="0.5" fill="#d2d2d2"/><rect x="6.0" y="4.5" width="0.5" height="0.5" fill="#dedede"/><rect x="7.5" y="4.5" width="0.5" height="0.5" fill="#dadada"/><rect x="8.0" y="4.5" width="0.5" height="0.5" fill="#d2d2d2"/><rect x="8.5" y="4.5" width="0.5" height="0.5" fill="#dadada"/><rect x="10.5" y="4.5" width="0.5" height="0.5" fill="#dedede"/><rect x="11.5" y="4.5" width="0.5" height="0.5" fill="#dedede"/><rect x="13.0" y="4.5" width="0.5" height="0.5" fill="#dadada"/><rect x="15.0" y="4.5" width="0.5" height="0.5" fill="#dedede"/><rect x="15.5" y="4.5" width="0.5" height="0.5" fill="#d6d6d6"/><rect x="0.5" y="5.0" width="0.5" height="0.5" fill="#dedede"/><rect x="1.0" y="5.0" width="0.5" height="0.5" fill="#dedede"/><rect x="2.5" y="5.0" width="0.5" height="0.5" fill="#d6d6d6"/><rect x="3.0" y="5.0" width="0.5" height="0.5" fill="#d6d6d6"/><rect x="3.5" y="5.0" width="0.5" height="0.5" fill="#d6d6d6"/><rect x="5.5" y="5.0" width="0.5" height="0.5" fill="#dadada"/><rect x="7.0" y="5.0" width="0.5" height="0.5" fill="#dadada"/><rect x="8.0" y="5.0" width="0.5" height="0.5" fill="#d2d2d2"/><rect x="9.5" y="5.0" width="0.5" height="0.5" fill="#dadada"/><rect x="10.0" y="5.0" width="0.5" height="0.5" fill="#dedede"/><rect x="10.5" y="5.0" width="0.5" height="0.5" fill="#dedede"/><rect x="11.0" y="5.0" width="0.5" height="0.5" fill="#d2d2d2"/><rect x="12.5" y="5.0" width="0.5" height="0.5" fill="#dedede"/><rect x="14.5" y="5.0" width="0.5" height="0.5" fill="#d2d2d2"/><rect x="15.0" y="5.0" width="0.5" height="0.5" fill="#dadada"/><rect x="0.0" y="5.5" width="0.5" height="0.5" fill="#dadada"/><rect x="0.5" y="5.5" width="0.5" height="0.5" fill="#d2d2d2"/><rect x="1.0" y="5.5" width="0.5" height="0.5" fill="#dadada"/><rect x="1.5" y="5.5" width="0.5" height="0.5" fill="#d2d2d2"/><rect x="2.0" y="5.5" width="0.5" height="0.5" fill="#dedede"/><rect x="3.5" y="5.5" width="0.5" height="0.5" fill="#d6d6d6"/><rect x="4.5" y="5.5" width="0.5" height="0.5" fill="#dedede"/><rect x="6.0" y="5.5" width="0.5" height="0.5" fill="#d6d6d6"/><rect x="7.0" y="5.5" width="0.5" height="0.5" fill="#dedede"/><rect x="8.0" y="5.5" width="0.5" height="0.5" fill="#d6d6d6"/><rect x="9.5" y="5.5" width="0.5" height="0.5" fill="#dadada"/><rect x="11.0" y="5.5" width="0.5" height="0.5" fill="#dadada"/><rect x="11.5" y="5.5" width="0.5" height="0.5" fill="#d6d6d6"/><rect x="12.5" y="5.5" width="0.5" height="0.5" fill="#dadada"/><rect x="13.5" y="5.5" width="0.5" height="0.5" fill="#d2d2d2"/><rect x="15.0" y="5.5" width="0.5" height="0.5" fill="#d2d2d2"/><rect x="15.5" y="5.5" width="0.5" height="0.5" fill="#d2d2d2"/><rect x="0.0" y="6.0" width="0.5" height="0.5" fill="#d2d2d2"/><rect x="0.5" y="6.0" width="0.5" height="0.5" fill="#d2d2d2"/><rect x="2.0" y="6.0" width="0.5" height="0.5" fill="#dedede"/><rect x="2.5" y="6.0" width="0.5" height="0.5" fill="#dedede"/><rect x="3.5" y="6.0" width="0.5" height="0.5" fill="#d6d6d6"/><rect x="4.5" y="6.0" width="0.5" height="0.5" fill="#dedede"/><rect x="5.0" y="6.0" width="0.5" height="0.5" fill="#d2d2d2"/><rect x="6.0" y="6.0" width="0.5" height="0.5" fill="#d6d6d6"/><rect x="6.5" y="6.0" width="0.5" height="0.5" fill="#d2d2d2"/><rect x="8.0" y="6.0" width="0.5" height="0.5" fill="#dadada"/><rect x="8.5" y="6.0" width="0.5" height="0.5" fill="#dadada"/><rect x="9.0" y="6.0" width="0.5" height="0.5" fill="#d6d6d6"/><rect x="9.5" y="6.0" width="0.5" height="0.5" fill="#dedede"/><rect x="10.0" y="6.0" width="0.5" height="0.5" fill="#d6d6d6"/><rect x="10.5" y="6.0" width="0.5" height="0.5" fill="#d6d6d6"/><rect x="11.0" y="6.0" width="0.5" height="0.5" fill="#d6d6d6"/><rect x="12.5" y="6.0" width="0.5" height="0.5" fill="#d2d2d2"/><rect x="13.0" y="6.0" width="0.5" height="0.5" fill="#dadada"/><rect x="13.5" y="6.0" width="0.5" height="0.5" fill="#d6d6d6"/><rect x="14.0" y="6.0" width="0.5" height="0.5" fill="#d6d6d6"/><rect x="15.5" y="6.0" width="0.5" height="0.5" fill="#d2d2d2"/><rect x="1.0" y="6.5" width="0.5" height="0.5" fill="#dedede"/><rect x="1.5" y="6.5" width="0.5" height="0.5" fill="#dedede"/><rect x="2.5" y="6.5" width="0.5" height="0.5" fill="#d6d6d6"/><rect x="3.0" y="6.5" width="0.5" height="0.5" fill="#d2d2d2"/><rect x="4.5" y="6.5" width="0.5" height="0.5" fill="#d6d6d6"/><rect x="5.5" y="6.5" width="0.5" height="0.5" fill="#d6d6d6"/><rect x="6.0" y="6.5" width="0.5" height="0.5" fill="#dadada"/><rect x="7.5" y="6.5" width="0.5" height="0.5" fill="#d2d2d2"/><rect x="8.0" y="6.5" width="0.5" height="0.5" fill="#d2d2d2"/><rect x="9.5" y="6.5" width="0.5" height="0.5" fill="#dedede"/><rect x="11.0" y="6.5" width="0.5" height="0.5" fill="#dedede"/><rect x="11.5" y="6.5" width="0.5" height="0.5" fill="#d2d2d2"/><rect x="12.0" y="6.5" width="0.5" height="0.5" fill="#d2d2d2"/><rect x="14.0" y="6.5" width="0.5" height="0.5" fill="#d2d2d2"/><rect x="0.0" y="7.0" width="0.5" height="0.5" fill="#d2d2d2"/><rect x="0.5" y="7.0" width="0.5" height="0.5" fill="#d2d2d2"/><rect x="1.5" y="7.0" width="0.5" height="0.5" fill="#dedede"/><rect x="5.0" y="7.0" width="0.5" height="0.5" fill="#dadada"/><rect x="6.0" y="7.0" width="0.5" height="0.5" fill="#d2d2d2"/><rect x="6.5" y="7.0" width="0.5" height="0.5" fill="#d6d6d6"/><rect x="7.0" y="7.0" width="0.5" height="0.5" fill="#d6d6d6"/><rect x="8.5" y="7.0" width="0.5" height="0.5" fill="#dedede"/><rect x="9.5" y="7.0" width="0.5" height="0.5" fill="#dadada"/><rect x="10.0" y="7.0" width="0.5" height="0.5" fill="#d6d6d6"/><rect x="10.5" y="7.0" width="0.5" height="0.5" fill="#dedede"/><rect x="11.0" y="7.0" width="0.5" height="0.5" fill="#d6d6d6"/><rect x="12.0" y="7.0" width="0.5" height="0.5" fill="#d6d6d6"/><rect x="13.5" y="7.0" width="0.5" height="0.5" fill="#d6d6d6"/><rect x="14.0" y="7.0" width="0.5" height="0.5" fill="#dedede"/><rect x="15.0" y="7.0" width="0.5" height="0.5" fill="#d2d2d2"/><rect x="0.5" y="7.5" width="0.5" height="0.5" fill="#dadada"/><rect x="1.0" y="7.5" width="0.5" height="0.5" fill="#d6d6d6"/><rect x="1.5" y="7.5" width="0.5" height="0.5" fill="#d6d6d6"/><rect x="3.0" y="7.5" width="0.5" height="0.5" fill="#dedede"/><rect x="3.5" y="7.5" width="0.5" height="0.5" fill="#d2d2d2"/><rect x="4.0" y="7.5" width="0.5" height="0.5" fill="#d6d6d6"/><rect x="6.0" y="7.5" width="0.5" height="0.5" fill="#d2d2d2"/><rect x="7.0" y="7.5" width="0.5" height="0.5" fill="#d2d2d2"/><rect x="8.0" y="7.5" width="0.5" height="0.5" fill="#d6d6d6"/><rect x="8.5" y="7.5" width="0.5" height="0.5" fill="#d6d6d6"/><rect x="9.0" y="7.5" width="0.5" height="0.5" fill="#dadada"/><rect x="9.5" y="7.5" width="0.5" height="0.5" fill="#d6d6d6"/><rect x="11.0" y="7.5" width="0.5" height="0.5" fill="#d6d6d6"/><rect x="12.0" y="7.5" width="0.5" height="0.5" fill="#dedede"/><rect x="13.0" y="7.5" width="0.5" height="0.5" fill="#dadada"/><rect x="13.5" y="7.5" width="0.5" height="0.5" fill="#d6d6d6"/><rect x="14.0" y="7.5" width="0.5" height="0.5" fill="#dedede"/><rect x="14.5" y="7.5" width="0.5" height="0.5" fill="#dadada"/><rect x="2.0" y="8.0" width="0.5" height="0.5" fill="#dadada"/><rect x="3.5" y="8.0" width="0.5" height="0.5" fill="#d2d2d2"/><rect x="4.0" y="8.0" width="0.5" height="0.5" fill="#d6d6d6"/><rect x="4.5" y="8.0" width="0.5" height="0.5" fill="#d6d6d6"/><rect x="5.0" y="8.0" width="0.5" height="0.5" fill="#d6d6d6"/><rect x="5.5" y="8.0" width="0.5" height="0.5" fill="#dadada"/><rect x="6.0" y="8.0" width="0.5" height="0.5" fill="#d6d6d6"/><rect x="7.0" y="8.0" width="0.5" height="0.5" fill="#dadada"/><rect x="7.5" y="8.0" width="0.5" height="0.5" fill="#d2d2d2"/><rect x="8.0" y="8.0" width="0.5" height="0.5" fill="#d2d2d2"/><rect x="9.5" y="8.0" width="0.5" height="0.5" fill="#d6d6d6"/><rect x="10.0" y="8.0" width="0.5" height="0.5" fill="#d2d2d2"/><rect x="10.5" y="8.0" width="0.5" height="0.5" fill="#dadada"/><rect x="11.0" y="8.0" width="0.5" height="0.5" fill="#dedede"/><rect x="13.0" y="8.0" width="0.5" height="0.5" fill="#dadada"/><rect x="13.5" y="8.0" width="0.5" height="0.5" fill="#d2d2d2"/><rect x="14.0" y="8.0" width="0.5" height="0.5" fill="#dadada"/><rect x="14.5" y="8.0" width="0.5" height="0.5" fill="#dedede"/><rect x="15.0" y="8.0" width="0.5" height="0.5" fill="#d2d2d2"/><rect x="15.5" y="8.0" width="0.5" height="0.5" fill="#dedede"/><rect x="0.5" y="8.5" width="0.5" height="0.5" fill="#dadada"/><rect x="2.0" y="8.5" width="0.5" height="0.5" fill="#dadada"/><rect x="3.0" y="8.5" width="0.5" height="0.5" fill="#d6d6d6"/><rect x="3.5" y="8.5" width="0.5" height="0.5" fill="#d2d2d2"/><rect x="4.0" y="8.5" width="0.5" height="0.5" fill="#dedede"/><rect x="5.0" y="8.5" width="0.5" height="0.5" fill="#dadada"/><rect x="5.5" y="8.5" width="0.5" height="0.5" fill="#dedede"/><rect x="6.0" y="8.5" width="0.5" height="0.5" fill="#dedede"/><rect x="8.0" y="8.5" width="0.5" height="0.5" fill="#dedede"/><rect x="8.5" y="8.5" width="0.5" height="0.5" fill="#d2d2d2"/><rect x="9.0" y="8.5" width="0.5" height="0.5" fill="#dedede"/><rect x="9.5" y="8.5" width="0.5" height="0.5" fill="#d6d6d6"/><rect x="10.0" y="8.5" width="0.5" height="0.5" fill="#dadada"/><rect x="11.5" y="8.5" width="0.5" height="0.5" fill="#dadada"/><rect x="13.0" y="8.5" width="0.5" height="0.5" fill="#dedede"/><rect x="14.0" y="8.5" width="0.5" height="0.5" fill="#dadada"/><rect x="14.5" y="8.5" width="0.5" height="0.5" fill="#d2d2d2"/><rect x="0.5" y="9.0" width="0.5" height="0.5" fill="#d2d2d2"/><rect x="1.0" y="9.0" width="0.5" height="0.5" fill="#dadada"/><rect x="1.5" y="9.0" width="0.5" height="0.5" fill="#d6d6d6"/><rect x="3.5" y="9.0" width="0.5" height="0.5" fill="#dedede"/><rect x="4.0" y="9.0" width="0.5" height="0.5" fill="#dedede"/><rect x="5.0" y="9.0" width="0.5" height="0.5" fill="#dadada"/><rect x="6.0" y="9.0" width="0.5" height="0.5" fill="#d6d6d6"/><rect x="6.5" y="9.0" width="0.5" height="0.5" fill="#dadada"/><rect x="8.5" y="9.0" width="0.5" height="0.5" fill="#d6d6d6"/><rect x="9.0" y="9.0" width="0.5" height="0.5" fill="#dedede"/><rect x="10.5" y="9.0" width="0.5" height="0.5" fill="#d2d2d2"/><rect x="11.5" y="9.0" width="0.5" height="0.5" fill="#d2d2d2"/><rect x="13.5" y="9.0" width="0.5" height="0.5" fill="#dedede"/><rect x="14.0" y="9.0" width="0.5" height="0.5" fill="#d2d2d2"/><rect x="15.0" y="9.0" width="0.5" height="0.5" fill="#d6d6d6"/><rect x="15.5" y="9.0" width="0.5" height="0.5" fill="#d6d6d6"/><rect x="0.5" y="9.5" width="0.5" height="0.5" fill="#d2d2d2"/><rect x="1.5" y="9.5" width="0.5" height="0.5" fill="#d2d2d2"/><rect x="2.0" y="9.5" width="0.5" height="0.5" fill="#d6d6d6"/><rect x="2.5" y="9.5" width="0.5" height="0.5" fill="#dadada"/><rect x="4.0" y="9.5" width="0.5" height="0.5" fill="#d6d6d6"/><rect x="5.5" y="9.5" width="0.5" height="0.5" fill="#dedede"/><rect x="7.0" y="9.5" width="0.5" height="0.5" fill="#d2d2d2"/><rect x="7.5" y="9.5" width="0.5" height="0.5" fill="#dedede"/><rect x="8.5" y="9.5" width="0.5" height="0.5" fill="#dadada"/><rect x="9.0" y="9.5" width="0.5" height="0.5" fill="#dadada"/><rect x="9.5" y="9.5" width="0.5" height="0.5" fill="#dadada"/><rect x="10.5" y="9.5" width="0.5" height="0.5" fill="#d2d2d2"/><rect x="11.5" y="9.5" width="0.5" height="0.5" fill="#d6d6d6"/><rect x="12.0" y="9.5" width="0.5" height="0.5" fill="#dadada"/><rect x="12.5" y="9.5" width="0.5" height="0.5" fill="#dadada"/><rect x="13.5" y="9.5" width="0.5" height="0.5" fill="#dadada"/><rect x="14.5" y="9.5" width="0.5" height="0.5" fill="#d6d6d6"/><rect x="15.0" y="9.5" width="0.5" height="0.5" fill="#dadada"/><rect x="0.0" y="10.0" width="0.5" height="0.5" fill="#dadada"/><rect x="0.5" y="10.0" width="0.5" height="0.5" fill="#dedede"/><rect x="1.0" y="10.0" width="0.5" height="0.5" fill="#dedede"/><rect x="3.0" y="10.0" width="0.5" height="0.5" fill="#dedede"/><rect x="4.5" y="10.0" width="0.5" height="0.5" fill="#dedede"/><rect x="6.0" y="10.0" width="0.5" height="0.5" fill="#dedede"/><rect x="6.5" y="10.0" width="0.5" height="0.5" fill="#dedede"/><rect x="8.0" y="10.0" width="0.5" height="0.5" fill="#d2d2d2"/><rect x="8.5" y="10.0" width="0.5" height="0.5" fill="#dedede"/><rect x="9.0" y="10.0" width="0.5" height="0.5" fill="#d2d2d2"/><rect x="10.0" y="10.0" width="0.5" height="0.5" fill="#dedede"/><rect x="11.5" y="10.0" width="0.5" height="0.5" fill="#dadada"/><rect x="12.0" y="10.0" width="0.5" height="0.5" fill="#dadada"/><rect x="12.5" y="10.0" width="0.5" height="0.5" fill="#d6d6d6"/><rect x="13.0" y="10.0" width="0.5" height="0.5" fill="#dadada"/><rect x="13.5" y="10.0" width="0.5" height="0.5" fill="#d6d6d6"/><rect x="14.0" y="10.0" width="0.5" height="0.5" fill="#d6d6d6"/><rect x="1.0" y="10.5" width="0.5" height="0.5" fill="#d2d2d2"/><rect x="1.5" y="10.5" width="0.5" height="0.5" fill="#dadada"/><rect x="2.0" y="10.5" width="0.5" height="0.5" fill="#dedede"/><rect x="5.0" y="10.5" width="0.5" height="0.5" fill="#dedede"/><rect x="5.5" y="10.5" width="0.5" height="0.5" fill="#dedede"/><rect x="6.0" y="10.5" width="0.5" height="0.5" fill="#d6d6d6"/><rect x="7.0" y="10.5" width="0.5" height="0.5" fill="#dedede"/><rect x="8.0" y="10.5" width="0.5" height="0.5" fill="#d2d2d2"/><rect x="9.0" y="10.5" width="0.5" height="0.5" fill="#d2d2d2"/><rect x="9.5" y="10.5" width="0.5" height="0.5" fill="#dadada"/><rect x="11.0" y="10.5" width="0.5" height="0.5" fill="#d6d6d6"/><rect x="11.5" y="10.5" width="0.5" height="0.5" fill="#d2d2d2"/><rect x="13.0" y="10.5" width="0.5" height="0.5" fill="#dadada"/><rect x="14.0" y="10.5" width="0.5" height="0.5" fill="#d6d6d6"/><rect x="14.5" y="10.5" width="0.5" height="0.5" fill="#dadada"/><rect x="15.0" y="10.5" width="0.5" height="0.5" fill="#d2d2d2"/><rect x="0.0" y="11.0" width="0.5" height="0.5" fill="#d2d2d2"/><rect x="1.0" y="11.0" width="0.5" height="0.5" fill="#dedede"/><rect x="1.5" y="11.0" width="0.5" height="0.5" fill="#dedede"/><rect x="2.0" y="11.0" width="0.5" height="0.5" fill="#dedede"/><rect x="3.5" y="11.0" width="0.5" height="0.5" fill="#d2d2d2"/><rect x="4.0" y="11.0" width="0.5" height="0.5" fill="#dadada"/><rect x="4.5" y="11.0" width="0.5" height="0.5" fill="#d6d6d6"/><rect x="5.5" y="11.0" width="0.5" height="0.5" fill="#d6d6d6"/><rect x="6.0" y="11.0" width="0.5" height="0.5" fill="#d2d2d2"/><rect x="6.5" y="11.0" width="0.5" height="0.5" fill="#d6d6d6"/><rect x="7.0" y="11.0" width="0.5" height="0.5" fill="#dedede"/><rect x="10.0" y="11.0" width="0.5" height="0.5" fill="#d6d6d6"/><rect x="11.5" y="11.0" width="0.5" height="0.5" fill="#dadada"/><rect x="12.5" y="11.0" width="0.5" height="0.5" fill="#dadada"/><rect x="13.0" y="11.0" width="0.5" height="0.5" fill="#dadada"/><rect x="14.0" y="11.0" width="0.5" height="0.5" fill="#d6d6d6"/><rect x="15.0" y="11.0" width="0.5" height="0.5" fill="#d2d2d2"/><rect x="0.0" y="11.5" width="0.5" height="0.5" fill="#dedede"/><rect x="0.5" y="11.5" width="0.5" height="0.5" fill="#dadada"/><rect x="1.5" y="11.5" width="0.5" height="0.5" fill="#dedede"/><rect x="2.0" y="11.5" width="0.5" height="0.5" fill="#d6d6d6"/><rect x="4.0" y="11.5" width="0.5" height="0.5" fill="#dedede"/><rect x="4.5" y="11.5" width="0.5" height="0.5" fill="#d6d6d6"/><rect x="5.0" y="11.5" width="0.5" height="0.5" fill="#d2d2d2"/><rect x="6.0" y="11.5" width="0.5" height="0.5" fill="#dedede"/><rect x="7.5" y="11.5" width="0.5" height="0.5" fill="#dedede"/><rect x="8.0" y="11.5" width="0.5" height="0.5" fill="#d2d2d2"/><rect x="9.0" y="11.5" width="0.5" height="0.5" fill="#d6d6d6"/><rect x="10.5" y="11.5" width="0.5" height="0.5" fill="#d6d6d6"/><rect x="11.0" y="11.5" width="0.5" height="0.5" fill="#d2d2d2"/><rect x="12.5" y="11.5" width="0.5" height="0.5" fill="#dedede"/><rect x="14.5" y="11.5" width="0.5" height="0.5" fill="#dedede"/><rect x="15.0" y="11.5" width="0.5" height="0.5" fill="#dadada"/><rect x="0.0" y="12.0" width="0.5" height="0.5" fill="#dedede"/><rect x="0.5" y="12.0" width="0.5" height="0.5" fill="#dadada"/><rect x="1.0" y="12.0" width="0.5" height="0.5" fill="#d2d2d2"/><rect x="2.5" y="12.0" width="0.5" height="0.5" fill="#dadada"/><rect x="3.0" y="12.0" width="0.5" height="0.5" fill="#d6d6d6"/><rect x="4.0" y="12.0" width="0.5" height="0.5" fill="#d2d2d2"/><rect x="5.0" y="12.0" width="0.5" height="0.5" fill="#d6d6d6"/><rect x="5.5" y="12.0" width="0.5" height="0.5" fill="#dadada"/><rect x="6.0" y="12.0" width="0.5" height="0.5" fill="#d6d6d6"/><rect x="6.5" y="12.0" width="0.5" height="0.5" fill="#dedede"/><rect x="7.0" y="12.0" width="0.5" height="0.5" fill="#dadada"/><rect x="7.5" y="12.0" width="0.5" height="0.5" fill="#dedede"/><rect x="8.0" y="12.0" width="0.5" height="0.5" fill="#dedede"/><rect x="9.0" y="12.0" width="0.5" height="0.5" fill="#dedede"/><rect x="9.5" y="12.0" width="0.5" height="0.5" fill="#dadada"/><rect x="10.0" y="12.0" width="0.5" height="0.5" fill="#dadada"/><rect x="10.5" y="12.0" width="0.5" height="0.5" fill="#dedede"/><rect x="11.5" y="12.0" width="0.5" height="0.5" fill="#d2d2d2"/><rect x="12.5" y="12.0" width="0.5" height="0.5" fill="#dadada"/><rect x="13.5" y="12.0" width="0.5" height="0.5" fill="#d6d6d6"/><rect x="14.0" y="12.0" width="0.5" height="0.5" fill="#d2d2d2"/><rect x="14.5" y="12.0" width="0.5" height="0.5" fill="#dadada"/><rect x="15.0" y="12.0" width="0.5" height="0.5" fill="#d2d2d2"/><rect x="0.0" y="12.5" width="0.5" height="0.5" fill="#d2d2d2"/><rect x="0.5" y="12.5" width="0.5" height="0.5" fill="#d2d2d2"/><rect x="1.5" y="12.5" width="0.5" height="0.5" fill="#d2d2d2"/><rect x="2.0" y="12.5" width="0.5" height="0.5" fill="#dadada"/><rect x="3.0" y="12.5" width="0.5" height="0.5" fill="#dadada"/><rect x="4.0" y="12.5" width="0.5" height="0.5" fill="#dadada"/><rect x="5.0" y="12.5" width="0.5" height="0.5" fill="#d2d2d2"/><rect x="5.5" y="12.5" width="0.5" height="0.5" fill="#dedede"/><rect x="6.5" y="12.5" width="0.5" height="0.5" fill="#d6d6d6"/><rect x="9.5" y="12.5" width="0.5" height="0.5" fill="#dedede"/><rect x="11.5" y="12.5" width="0.5" height="0.5" fill="#d6d6d6"/><rect x="12.0" y="12.5" width="0.5" height="0.5" fill="#dedede"/><rect x="12.5" y="12.5" width="0.5" height="0.5" fill="#dedede"/><rect x="13.5" y="12.5" width="0.5" height="0.5" fill="#dadada"/><rect x="14.5" y="12.5" width="0.5" height="0.5" fill="#d6d6d6"/><rect x="15.0" y="12.5" width="0.5" height="0.5" fill="#dadada"/><rect x="15.5" y="12.5" width="0.5" height="0.5" fill="#d2d2d2"/><rect x="0.0" y="13.0" width="0.5" height="0.5" fill="#d2d2d2"/><rect x="0.5" y="13.0" width="0.5" height="0.5" fill="#d2d2d2"/><rect x="1.5" y="13.0" width="0.5" height="0.5" fill="#d6d6d6"/><rect x="3.0" y="13.0" width="0.5" height="0.5" fill="#dadada"/><rect x="3.5" y="13.0" width="0.5" height="0.5" fill="#d6d6d6"/><rect x="5.5" y="13.0" width="0.5" height="0.5" fill="#d6d6d6"/><rect x="6.0" y="13.0" width="0.5" height="0.5" fill="#dedede"/><rect x="6.5" y="13.0" width="0.5" height="0.5" fill="#dedede"/><rect x="7.0" y="13.0" width="0.5" height="0.5" fill="#d6d6d6"/><rect x="7.5" y="13.0" width="0.5" height="0.5" fill="#d2d2d2"/><rect x="8.0" y="13.0" width="0.5" height="0.5" fill="#dedede"/><rect x="9.0" y="13.0" width="0.5" height="0.5" fill="#dadada"/><rect x="10.0" y="13.0" width="0.5" height="0.5" fill="#dedede"/><rect x="12.0" y="13.0" width="0.5" height="0.5" fill="#dadada"/><rect x="13.0" y="13.0" width="0.5" height="0.5" fill="#d2d2d2"/><rect x="13.5" y="13.0" width="0.5" height="0.5" fill="#d6d6d6"/><rect x="14.0" y="13.0" width="0.5" height="0.5" fill="#dadada"/><rect x="14.5" y="13.0" width="0.5" height="0.5" fill="#d2d2d2"/><rect x="15.0" y="13.0" width="0.5" height="0.5" fill="#dadada"/><rect x="15.5" y="13.0" width="0.5" height="0.5" fill="#d2d2d2"/><rect x="1.5" y="13.5" width="0.5" height="0.5" fill="#d2d2d2"/><rect x="2.0" y="13.5" width="0.5" height="0.5" fill="#dedede"/><rect x="3.0" y="13.5" width="0.5" height="0.5" fill="#d6d6d6"/><rect x="3.5" y="13.5" width="0.5" height="0.5" fill="#d2d2d2"/><rect x="4.5" y="13.5" width="0.5" height="0.5" fill="#dadada"/><rect x="7.0" y="13.5" width="0.5" height="0.5" fill="#d6d6d6"/><rect x="9.0" y="13.5" width="0.5" height="0.5" fill="#d6d6d6"/><rect x="9.5" y="13.5" width="0.5" height="0.5" fill="#d6d6d6"/><rect x="10.0" y="13.5" width="0.5" height="0.5" fill="#dedede"/><rect x="10.5" y="13.5" width="0.5" height="0.5" fill="#dedede"/><rect x="12.0" y="13.5" width="0.5" height="0.5" fill="#dadada"/><rect x="12.5" y="13.5" width="0.5" height="0.5" fill="#d6d6d6"/><rect x="13.5" y="13.5" width="0.5" height="0.5" fill="#d6d6d6"/><rect x="1.0" y="14.0" width="0.5" height="0.5" fill="#dadada"/><rect x="2.0" y="14.0" width="0.5" height="0.5" fill="#dedede"/><rect x="3.0" y="14.0" width="0.5" height="0.5" fill="#d6d6d6"/><rect x="3.5" y="14.0" width="0.5" height="0.5" fill="#dedede"/><rect x="4.5" y="14.0" width="0.5" height="0.5" fill="#d6d6d6"/><rect x="5.5" y="14.0" width="0.5" height="0.5" fill="#d2d2d2"/><rect x="7.5" y="14.0" width="0.5" height="0.5" fill="#dadada"/><rect x="8.5" y="14.0" width="0.5" height="0.5" fill="#dadada"/><rect x="9.0" y="14.0" width="0.5" height="0.5" fill="#d2d2d2"/><rect x="9.5" y="14.0" width="0.5" height="0.5" fill="#dedede"/><rect x="10.5" y="14.0" width="0.5" height="0.5" fill="#dadada"/><rect x="11.0" y="14.0" width="0.5" height="0.5" fill="#d6d6d6"/><rect x="11.5" y="14.0" width="0.5" height="0.5" fill="#dedede"/><rect x="12.0" y="14.0" width="0.5" height="0.5" fill="#d2d2d2"/><rect x="13.0" y="14.0" width="0.5" height="0.5" fill="#d2d2d2"/><rect x="15.0" y="14.0" width="0.5" height="0.5" fill="#dedede"/><rect x="0.0" y="14.5" width="0.5" height="0.5" fill="#d2d2d2"/><rect x="1.0" y="14.5" width="0.5" height="0.5" fill="#dadada"/><rect x="1.5" y="14.5" width="0.5" height="0.5" fill="#dadada"/><rect x="2.0" y="14.5" width="0.5" height="0.5" fill="#dadada"/><rect x="2.5" y="14.5" width="0.5" height="0.5" fill="#dedede"/><rect x="3.0" y="14.5" width="0.5" height="0.5" fill="#d2d2d2"/><rect x="3.5" y="14.5" width="0.5" height="0.5" fill="#dadada"/><rect x="5.0" y="14.5" width="0.5" height="0.5" fill="#d6d6d6"/><rect x="5.5" y="14.5" width="0.5" height="0.5" fill="#d6d6d6"/><rect x="6.0" y="14.5" width="0.5" height="0.5" fill="#d2d2d2"/><rect x="7.0" y="14.5" width="0.5" height="0.5" fill="#dedede"/><rect x="7.5" y="14.5" width="0.5" height="0.5" fill="#d2d2d2"/><rect x="8.0" y="14.5" width="0.5" height="0.5" fill="#dedede"/><rect x="9.0" y="14.5" width="0.5" height="0.5" fill="#d6d6d6"/><rect x="9.5" y="14.5" width="0.5" height="0.5" fill="#d6d6d6"/><rect x="10.0" y="14.5" width="0.5" height="0.5" fill="#dadada"/><rect x="10.5" y="14.5" width="0.5" height="0.5" fill="#dadada"/><rect x="13.5" y="14.5" width="0.5" height="0.5" fill="#dedede"/><rect x="15.0" y="14.5" width="0.5" height="0.5" fill="#d6d6d6"/><rect x="15.5" y="14.5" width="0.5" height="0.5" fill="#d2d2d2"/><rect x="0.5" y="15.0" width="0.5" height="0.5" fill="#dedede"/><rect x="1.5" y="15.0" width="0.5" height="0.5" fill="#d2d2d2"/><rect x="2.0" y="15.0" width="0.5" height="0.5" fill="#d6d6d6"/><rect x="2.5" y="15.0" width="0.5" height="0.5" fill="#d2d2d2"/><rect x="3.5" y="15.0" width="0.5" height="0.5" fill="#d2d2d2"/><rect x="4.5" y="15.0" width="0.5" height="0.5" fill="#d6d6d6"/><rect x="6.5" y="15.0" width="0.5" height="0.5" fill="#dadada"/><rect x="9.0" y="15.0" width="0.5" height="0.5" fill="#d2d2d2"/><rect x="9.5" y="15.0" width="0.5" height="0.5" fill="#dadada"/><rect x="10.0" y="15.0" width="0.5" height="0.5" fill="#dadada"/><rect x="11.0" y="15.0" width="0.5" height="0.5" fill="#d2d2d2"/><rect x="12.5" y="15.0" width="0.5" height="0.5" fill="#d2d2d2"/><rect x="13.5" y="15.0" width="0.5" height="0.5" fill="#d2d2d2"/><rect x="14.0" y="15.0" width="0.5" height="0.5" fill="#d2d2d2"/><rect x="14.5" y="15.0" width="0.5" height="0.5" fill="#dadada"/><rect x="15.0" y="15.0" width="0.5" height="0.5" fill="#dadada"/><rect x="0.0" y="15.5" width="0.5" height="0.5" fill="#d2d2d2"/><rect x="1.0" y="15.5" width="0.5" height="0.5" fill="#d2d2d2"/><rect x="1.5" y="15.5" width="0.5" height="0.5" fill="#d2d2d2"/><rect x="3.5" y="15.5" width="0.5" height="0.5" fill="#d6d6d6"/><rect x="5.5" y="15.5" width="0.5" height="0.5" fill="#d6d6d6"/><rect x="6.5" y="15.5" width="0.5" height="0.5" fill="#d6d6d6"/><rect x="7.0" y="15.5" width="0.5" height="0.5" fill="#dadada"/><rect x="8.0" y="15.5" width="0.5" height="0.5" fill="#dadada"/><rect x="9.0" y="15.5" width="0.5" height="0.5" fill="#dadada"/><rect x="9.5" y="15.5" width="0.5" height="0.5" fill="#d2d2d2"/><rect x="10.0" y="15.5" width="0.5" height="0.5" fill="#d2d2d2"/><rect x="11.0" y="15.5" width="0.5" height="0.5" fill="#d6d6d6"/><rect x="12.0" y="15.5" width="0.5" height="0.5" fill="#d2d2d2"/><rect x="12.5" y="15.5" width="0.5" height="0.5" fill="#d6d6d6"/><rect x="13.0" y="15.5" width="0.5" height="0.5" fill="#d6d6d6"/><rect x="13.5" y="15.5" width="0.5" height="0.5" fill="#d2d2d2"/><rect x="14.0" y="15.5" width="0.5" height="0.5" fill="#dadada"/><rect x="15.0" y="15.5" width="0.5" height="0.5" fill="#d6d6d6"/><rect x="15.5" y="15.5" width="0.5" height="0.5" fill="#dedede"/></pattern></defs><rect x="76" y="355.5" width="57.2" height="54.1" fill="url(#noise)"/><rect x="136.4" y="355.5" width="57.2" height="54.1" fill="url(#noise)"/><rect x="195.5" y="355.5" width="57.2" height="54.1" fill="url(#noise)"/><rect x="254.7" y="355.5" width="57.2" height="54.1" fill="url(#noise)"/><rect x="312.9" y="355.5" width="57.2" height="54.1" fill="url(#noise)"/><rect x="371" y="355.5" width="57.2" height="54.1" fill="url(#noise)"/><rect x="429.8" y="355.5" width="56.9" height="54.1" fill="url(#noise)"/><path d="M96.55,397.00 L96.59,398.54 L96.62,400.11 L96.41,401.66 L95.83,403.04 L95.01,404.20 L94.11,405.25 L93.17,406.24 L92.12,407.07 L90.94,407.63 L89.70,407.98 L88.47,408.32 L87.20,408.69 L85.86,408.88 L84.55,408.59 L83.39,407.81 L82.42,406.80 L81.53,405.80 L80.67,404.82 L79.92,403.74 L79.32,402.53 L78.78,401.27 L78.21,399.97 L77.64,398.57 L77.33,397.00 L77.45,395.37 L77.92,393.81 L78.51,392.33 L79.11,390.88 L79.79,389.48 L80.66,388.28 L81.70,387.38 L82.79,386.70 L83.87,386.13 L84.97,385.74 L86.10,385.71 L87.20,386.07 L88.22,386.58 L89.21,386.93 L90.25,387.09 L91.37,387.32 L92.45,387.85 L93.45,388.70 L94.39,389.72 L95.28,390.89 L96.01,392.26 L96.44,393.82 L96.55,395.44Z" fill="#e4782a"/><rect x="79.73" y="402.99" width="0.9" height="0.9" fill="#cc5a0c"/><rect x="88.80" y="404.73" width="0.9" height="0.9" fill="#cc5a0c"/><rect x="83.00" y="390.67" width="0.9" height="0.9" fill="#cc5a0c"/><rect x="83.02" y="388.58" width="0.9" height="0.9" fill="#cc5a0c"/><rect x="79.55" y="400.07" width="0.9" height="0.9" fill="#cc5a0c"/><rect x="93.50" y="395.27" width="0.9" height="0.9" fill="#cc5a0c"/><rect x="80.78" y="397.49" width="0.9" height="0.9" fill="#cc5a0c"/><rect x="84.23" y="398.75" width="0.9" height="0.9" fill="#cc5a0c"/><rect x="94.63" y="397.28" width="0.9" height="0.9" fill="#cc5a0c"/><rect x="85.58" y="388.24" width="0.9" height="0.9" fill="#cc5a0c"/><rect x="84.87" y="404.22" width="0.9" height="0.9" fill="#cc5a0c"/><rect x="91.92" y="404.83" width="0.9" height="0.9" fill="#cc5a0c"/><rect x="93.44" y="389.19" width="0.9" height="0.9" fill="#cc5a0c"/><rect x="92.68" y="399.58" width="0.9" height="0.9" fill="#cc5a0c"/><rect x="82.43" y="399.37" width="0.9" height="0.9" fill="#cc5a0c"/><rect x="93.45" y="399.57" width="0.9" height="0.9" fill="#cc5a0c"/><rect x="85.37" y="402.37" width="0.9" height="0.9" fill="#cc5a0c"/><rect x="83.62" y="406.49" width="0.9" height="0.9" fill="#cc5a0c"/><rect x="79.50" y="395.45" width="0.9" height="0.9" fill="#cc5a0c"/><rect x="86.11" y="402.08" width="0.9" height="0.9" fill="#cc5a0c"/><rect x="82.67" y="398.36" width="0.9" height="0.9" fill="#cc5a0c"/><rect x="80.36" y="397.43" width="0.9" height="0.9" fill="#cc5a0c"/><rect x="90.58" y="387.38" width="0.9" height="0.9" fill="#cc5a0c"/><rect x="82.28" y="392.69" width="0.9" height="0.9" fill="#cc5a0c"/><rect x="78.71" y="400.50" width="0.9" height="0.9" fill="#cc5a0c"/><rect x="86.80" y="392.30" width="0.9" height="0.9" fill="#cc5a0c"/><rect x="85.79" y="394.70" width="0.9" height="0.9" fill="#cc5a0c"/><rect x="90.40" y="403.32" width="0.9" height="0.9" fill="#cc5a0c"/><rect x="90.73" y="388.17" width="0.9" height="0.9" fill="#cc5a0c"/><rect x="82.74" y="404.96" width="0.9" height="0.9" fill="#cc5a0c"/><rect x="92.11" y="391.67" width="0.9" height="0.9" fill="#cc5a0c"/><rect x="82.04" y="391.54" width="0.9" height="0.9" fill="#cc5a0c"/><rect x="91.60" y="400.65" width="0.9" height="0.9" fill="#cc5a0c"/><rect x="85.19" y="402.20" width="0.9" height="0.9" fill="#cc5a0c"/><rect x="83.12" y="397.10" width="0.9" height="0.9" fill="#cc5a0c"/><rect x="84.60" y="395.76" width="0.9" height="0.9" fill="#cc5a0c"/><rect x="82.02" y="400.18" width="0.9" height="0.9" fill="#cc5a0c"/><rect x="87.83" y="391.88" width="0.9" height="0.9" fill="#cc5a0c"/><rect x="81.75" y="392.19" width="0.9" height="0.9" fill="#cc5a0c"/><rect x="83.70" y="387.68" width="0.9" height="0.9" fill="#cc5a0c"/><rect x="84.05" y="391.05" width="0.85" height="0.85" fill="#ffffff" fill-opacity="0.8"/><rect x="87.02" y="405.58" width="0.85" height="0.85" fill="#ffffff" fill-opacity="0.8"/><rect x="90.15" y="397.41" width="0.85" height="0.85" fill="#ffffff" fill-opacity="0.8"/><rect x="96.12" y="397.56" width="0.85" height="0.85" fill="#ffffff" fill-opacity="0.8"/><rect x="92.64" y="404.36" width="0.85" height="0.85" fill="#ffffff" fill-opacity="0.8"/><rect x="91.36" y="405.36" width="0.85" height="0.85" fill="#ffffff" fill-opacity="0.8"/><rect x="93.56" y="393.65" width="0.85" height="0.85" fill="#ffffff" fill-opacity="0.8"/><rect x="89.78" y="389.21" width="0.85" height="0.85" fill="#ffffff" fill-opacity="0.8"/><rect x="83.60" y="387.93" width="0.85" height="0.85" fill="#ffffff" fill-opacity="0.8"/><rect x="82.58" y="391.00" width="0.85" height="0.85" fill="#ffffff" fill-opacity="0.8"/><rect x="90.05" y="404.52" width="0.85" height="0.85" fill="#ffffff" fill-opacity="0.8"/><rect x="79.06" y="395.44" width="0.85" height="0.85" fill="#ffffff" fill-opacity="0.8"/><rect x="88.33" y="391.26" width="0.85" height="0.85" fill="#ffffff" fill-opacity="0.8"/><rect x="80.55" y="388.20" width="0.85" height="0.85" fill="#ffffff" fill-opacity="0.8"/><rect x="79.07" y="395.84" width="0.85" height="0.85" fill="#ffffff" fill-opacity="0.8"/><rect x="82.62" y="387.33" width="0.85" height="0.85" fill="#ffffff" fill-opacity="0.8"/><rect x="83.53" y="405.68" width="0.85" height="0.85" fill="#ffffff" fill-opacity="0.8"/><rect x="86.21" y="396.82" width="0.85" height="0.85" fill="#ffffff" fill-opacity="0.8"/><rect x="87.86" y="401.60" width="0.85" height="0.85" fill="#ffffff" fill-opacity="0.8"/><rect x="82.43" y="398.56" width="0.85" height="0.85" fill="#ffffff" fill-opacity="0.8"/><rect x="88.21" y="392.35" width="0.85" height="0.85" fill="#ffffff" fill-opacity="0.8"/><rect x="93.61" y="392.34" width="0.85" height="0.85" fill="#ffffff" fill-opacity="0.8"/><rect x="83.81" y="395.29" width="0.85" height="0.85" fill="#ffffff" fill-opacity="0.8"/><rect x="90.86" y="393.91" width="0.85" height="0.85" fill="#ffffff" fill-opacity="0.8"/><rect x="85.90" y="393.85" width="0.85" height="0.85" fill="#ffffff" fill-opacity="0.8"/><rect x="91.32" y="394.42" width="0.85" height="0.85" fill="#ffffff" fill-opacity="0.8"/><rect x="80.39" y="399.34" width="0.85" height="0.85" fill="#ffffff" fill-opacity="0.8"/><rect x="91.43" y="390.62" width="0.85" height="0.85" fill="#ffffff" fill-opacity="0.8"/><rect x="78.59" y="392.74" width="0.85" height="0.85" fill="#ffffff" fill-opacity="0.8"/><rect x="92.45" y="389.41" width="0.85" height="0.85" fill="#ffffff" fill-opacity="0.8"/><rect x="87.47" y="405.64" width="0.85" height="0.85" fill="#ffffff" fill-opacity="0.8"/><rect x="85.40" y="407.43" width="0.85" height="0.85" fill="#ffffff" fill-opacity="0.8"/><rect x="92.80" y="393.90" width="0.85" height="0.85" fill="#ffffff" fill-opacity="0.8"/><rect x="80.91" y="393.25" width="0.85" height="0.85" fill="#ffffff" fill-opacity="0.8"/><rect x="95.72" y="401.12" width="0.85" height="0.85" fill="#ffffff" fill-opacity="0.8"/><rect x="83.46" y="404.78" width="0.85" height="0.85" fill="#ffffff" fill-opacity="0.8"/><rect x="91.55" y="400.70" width="0.85" height="0.85" fill="#ffffff" fill-opacity="0.8"/><rect x="90.26" y="404.26" width="0.85" height="0.85" fill="#ffffff" fill-opacity="0.8"/><rect x="78.47" y="392.20" width="0.85" height="0.85" fill="#ffffff" fill-opacity="0.8"/><rect x="82.51" y="399.43" width="0.85" height="0.85" fill="#ffffff" fill-opacity="0.8"/><rect x="93.92" y="402.96" width="0.85" height="0.85" fill="#ffffff" fill-opacity="0.8"/><rect x="79.41" y="402.03" width="0.85" height="0.85" fill="#ffffff" fill-opacity="0.8"/><rect x="84.33" y="405.56" width="0.85" height="0.85" fill="#ffffff" fill-opacity="0.8"/><rect x="90.42" y="388.60" width="0.85" height="0.85" fill="#ffffff" fill-opacity="0.8"/><rect x="81.10" y="389.46" width="0.85" height="0.85" fill="#ffffff" fill-opacity="0.8"/><rect x="92.66" y="396.95" width="0.85" height="0.85" fill="#ffffff" fill-opacity="0.8"/><rect x="95.83" y="394.13" width="0.85" height="0.85" fill="#ffffff" fill-opacity="0.8"/><rect x="94.64" y="397.89" width="0.85" height="0.85" fill="#ffffff" fill-opacity="0.8"/><rect x="83.34" y="403.40" width="0.85" height="0.85" fill="#ffffff" fill-opacity="0.8"/><rect x="93.23" y="401.42" width="0.85" height="0.85" fill="#ffffff" fill-opacity="0.8"/><rect x="81.04" y="389.28" width="0.85" height="0.85" fill="#ffffff" fill-opacity="0.8"/><rect x="91.01" y="399.02" width="0.85" height="0.85" fill="#ffffff" fill-opacity="0.8"/><rect x="93.58" y="396.02" width="0.85" height="0.85" fill="#ffffff" fill-opacity="0.8"/><rect x="79.43" y="392.50" width="0.85" height="0.85" fill="#ffffff" fill-opacity="0.8"/><rect x="95.68" y="398.22" width="0.85" height="0.85" fill="#ffffff" fill-opacity="0.8"/><rect x="85.16" y="385.79" width="0.85" height="0.85" fill="#ffffff" fill-opacity="0.8"/><rect x="84.17" y="394.07" width="0.85" height="0.85" fill="#ffffff" fill-opacity="0.8"/><rect x="82.00" y="400.40" width="0.85" height="0.85" fill="#ffffff" fill-opacity="0.8"/><rect x="88.83" y="406.56" width="0.85" height="0.85" fill="#ffffff" fill-opacity="0.8"/><rect x="85.92" y="388.00" width="0.85" height="0.85" fill="#ffffff" fill-opacity="0.8"/><rect x="91.14" y="394.83" width="0.85" height="0.85" fill="#ffffff" fill-opacity="0.8"/><rect x="92.32" y="389.98" width="0.85" height="0.85" fill="#ffffff" fill-opacity="0.8"/><rect x="87.74" y="390.34" width="0.85" height="0.85" fill="#ffffff" fill-opacity="0.8"/><rect x="90.12" y="389.49" width="0.85" height="0.85" fill="#ffffff" fill-opacity="0.8"/><rect x="78.32" y="400.08" width="0.85" height="0.85" fill="#ffffff" fill-opacity="0.8"/><rect x="83.29" y="397.51" width="0.85" height="0.85" fill="#ffffff" fill-opacity="0.8"/><rect x="83.94" y="407.84" width="0.85" height="0.85" fill="#ffffff" fill-opacity="0.8"/><rect x="92.09" y="401.44" width="0.85" height="0.85" fill="#ffffff" fill-opacity="0.8"/><rect x="79.19" y="401.89" width="0.85" height="0.85" fill="#ffffff" fill-opacity="0.8"/><rect x="80.19" y="396.15" width="0.85" height="0.85" fill="#ffffff" fill-opacity="0.8"/><rect x="84.48" y="401.41" width="0.85" height="0.85" fill="#ffffff" fill-opacity="0.8"/><rect x="81.99" y="401.46" width="0.85" height="0.85" fill="#ffffff" fill-opacity="0.8"/><rect x="95.89" y="400.52" width="0.85" height="0.85" fill="#ffffff" fill-opacity="0.8"/><rect x="78.60" y="399.96" width="0.85" height="0.85" fill="#ffffff" fill-opacity="0.8"/><rect x="85.54" y="404.15" width="0.85" height="0.85" fill="#ffffff" fill-opacity="0.8"/><rect x="85.28" y="396.64" width="0.85" height="0.85" fill="#ffffff" fill-opacity="0.8"/><rect x="80.45" y="393.93" width="0.85" height="0.85" fill="#ffffff" fill-opacity="0.8"/><rect x="95.25" y="400.10" width="0.85" height="0.85" fill="#ffffff" fill-opacity="0.8"/><rect x="89.30" y="387.04" width="0.85" height="0.85" fill="#ffffff" fill-opacity="0.8"/><rect x="86.02" y="406.81" width="0.85" height="0.85" fill="#ffffff" fill-opacity="0.8"/><rect x="94.75" y="397.81" width="0.85" height="0.85" fill="#ffffff" fill-opacity="0.8"/><rect x="82.54" y="399.58" width="0.85" height="0.85" fill="#ffffff" fill-opacity="0.8"/><rect x="93.99" y="392.62" width="0.85" height="0.85" fill="#ffffff" fill-opacity="0.8"/><rect x="95.46" y="401.82" width="0.85" height="0.85" fill="#ffffff" fill-opacity="0.8"/><rect x="89.68" y="395.73" width="0.85" height="0.85" fill="#ffffff" fill-opacity="0.8"/><rect x="84.89" y="407.71" width="0.85" height="0.85" fill="#ffffff" fill-opacity="0.8"/><rect x="95.03" y="392.42" width="0.85" height="0.85" fill="#ffffff" fill-opacity="0.8"/><rect x="93.55" y="390.94" width="0.85" height="0.85" fill="#ffffff" fill-opacity="0.8"/><rect x="92.70" y="393.18" width="0.85" height="0.85" fill="#ffffff" fill-opacity="0.8"/><rect x="88.81" y="396.28" width="0.85" height="0.85" fill="#ffffff" fill-opacity="0.8"/><rect x="87.91" y="391.38" width="0.85" height="0.85" fill="#ffffff" fill-opacity="0.8"/><rect x="80.70" y="388.74" width="0.85" height="0.85" fill="#ffffff" fill-opacity="0.8"/><rect x="92.14" y="393.58" width="0.85" height="0.85" fill="#ffffff" fill-opacity="0.8"/><rect x="81.75" y="402.03" width="0.85" height="0.85" fill="#ffffff" fill-opacity="0.8"/><rect x="91.21" y="401.11" width="0.85" height="0.85" fill="#ffffff" fill-opacity="0.8"/><rect x="88.31" y="389.31" width="0.85" height="0.85" fill="#ffffff" fill-opacity="0.8"/><rect x="86.92" y="395.26" width="0.85" height="0.85" fill="#ffffff" fill-opacity="0.8"/><rect x="92.48" y="394.17" width="0.85" height="0.85" fill="#ffffff" fill-opacity="0.8"/><rect x="94.14" y="403.39" width="0.85" height="0.85" fill="#ffffff" fill-opacity="0.8"/><rect x="87.09" y="391.01" width="0.85" height="0.85" fill="#ffffff" fill-opacity="0.8"/><rect x="84.50" y="393.22" width="0.85" height="0.85" fill="#ffffff" fill-opacity="0.8"/><rect x="94.53" y="399.86" width="0.85" height="0.85" fill="#ffffff" fill-opacity="0.8"/><rect x="84.92" y="402.40" width="0.85" height="0.85" fill="#ffffff" fill-opacity="0.8"/><rect x="85.67" y="398.54" width="0.85" height="0.85" fill="#ffffff" fill-opacity="0.8"/><rect x="89.42" y="396.11" width="0.85" height="0.85" fill="#ffffff" fill-opacity="0.8"/><rect x="95.59" y="398.94" width="0.85" height="0.85" fill="#ffffff" fill-opacity="0.8"/><rect x="91.95" y="388.47" width="0.85" height="0.85" fill="#ffffff" fill-opacity="0.8"/><rect x="91.06" y="390.73" width="0.85" height="0.85" fill="#ffffff" fill-opacity="0.8"/><rect x="84.64" y="393.45" width="0.85" height="0.85" fill="#ffffff" fill-opacity="0.8"/><rect x="92.89" y="393.12" width="0.85" height="0.85" fill="#ffffff" fill-opacity="0.8"/><rect x="95.62" y="395.18" width="0.85" height="0.85" fill="#ffffff" fill-opacity="0.8"/><rect x="91.17" y="400.63" width="0.85" height="0.85" fill="#ffffff" fill-opacity="0.8"/><rect x="77.48" y="398.54" width="0.85" height="0.85" fill="#ffffff" fill-opacity="0.8"/><rect x="83.86" y="402.62" width="0.85" height="0.85" fill="#ffffff" fill-opacity="0.8"/><rect x="80.75" y="391.57" width="0.85" height="0.85" fill="#ffffff" fill-opacity="0.8"/><rect x="86.18" y="395.97" width="0.85" height="0.85" fill="#ffffff" fill-opacity="0.8"/><rect x="84.33" y="393.11" width="0.85" height="0.85" fill="#ffffff" fill-opacity="0.8"/><rect x="90.77" y="389.49" width="0.85" height="0.85" fill="#ffffff" fill-opacity="0.8"/><rect x="85.22" y="396.58" width="0.85" height="0.85" fill="#ffffff" fill-opacity="0.8"/><rect x="91.36" y="391.32" width="0.85" height="0.85" fill="#ffffff" fill-opacity="0.8"/><rect x="91.64" y="393.25" width="0.85" height="0.85" fill="#ffffff" fill-opacity="0.8"/><rect x="83.38" y="398.18" width="0.85" height="0.85" fill="#ffffff" fill-opacity="0.8"/><rect x="94.87" y="392.39" width="0.85" height="0.85" fill="#ffffff" fill-opacity="0.8"/><rect x="86.05" y="391.09" width="0.85" height="0.85" fill="#ffffff" fill-opacity="0.8"/><rect x="85.91" y="390.69" width="0.85" height="0.85" fill="#ffffff" fill-opacity="0.8"/><rect x="82.37" y="400.58" width="0.85" height="0.85" fill="#ffffff" fill-opacity="0.8"/><rect x="92.37" y="404.64" width="0.85" height="0.85" fill="#ffffff" fill-opacity="0.8"/><rect x="87.38" y="402.28" width="0.85" height="0.85" fill="#ffffff" fill-opacity="0.8"/><rect x="90.02" y="391.59" width="0.85" height="0.85" fill="#ffffff" fill-opacity="0.8"/><rect x="90.79" y="387.40" width="0.85" height="0.85" fill="#ffffff" fill-opacity="0.8"/><rect x="92.02" y="389.44" width="0.85" height="0.85" fill="#ffffff" fill-opacity="0.8"/><rect x="81.52" y="391.21" width="0.85" height="0.85" fill="#ffffff" fill-opacity="0.8"/><rect x="83.67" y="397.62" width="0.85" height="0.85" fill="#ffffff" fill-opacity="0.8"/><rect x="82.85" y="398.68" width="0.85" height="0.85" fill="#ffffff" fill-opacity="0.8"/><rect x="91.99" y="402.14" width="0.85" height="0.85" fill="#ffffff" fill-opacity="0.8"/><rect x="80.20" y="395.08" width="0.85" height="0.85" fill="#ffffff" fill-opacity="0.8"/><rect x="91.84" y="401.98" width="0.85" height="0.85" fill="#ffffff" fill-opacity="0.8"/><rect x="86.21" y="385.81" width="0.85" height="0.85" fill="#ffffff" fill-opacity="0.8"/><rect x="86.72" y="387.66" width="0.85" height="0.85" fill="#ffffff" fill-opacity="0.8"/><rect x="83.65" y="389.85" width="0.85" height="0.85" fill="#ffffff" fill-opacity="0.8"/><rect x="89.23" y="401.55" width="0.85" height="0.85" fill="#ffffff" fill-opacity="0.8"/><rect x="87.15" y="402.17" width="0.85" height="0.85" fill="#ffffff" fill-opacity="0.8"/><rect x="95.80" y="394.46" width="0.85" height="0.85" fill="#ffffff" fill-opacity="0.8"/><rect x="91.82" y="404.74" width="0.85" height="0.85" fill="#ffffff" fill-opacity="0.8"/><rect x="77.76" y="398.51" width="0.85" height="0.85" fill="#ffffff" fill-opacity="0.8"/><rect x="87.14" y="396.24" width="0.85" height="0.85" fill="#ffffff" fill-opacity="0.8"/><rect x="80.99" y="391.55" width="0.85" height="0.85" fill="#ffffff" fill-opacity="0.8"/><rect x="79.79" y="393.75" width="0.85" height="0.85" fill="#ffffff" fill-opacity="0.8"/><rect x="77.62" y="394.51" width="0.85" height="0.85" fill="#ffffff" fill-opacity="0.8"/><rect x="86.92" y="389.29" width="0.85" height="0.85" fill="#ffffff" fill-opacity="0.8"/><path d="M156.61,396.50 L156.85,398.04 L156.75,399.57 L156.23,400.94 L155.45,402.10 L154.63,403.14 L153.82,404.14 L152.93,405.03 L151.93,405.75 L150.89,406.39 L149.83,407.11 L148.69,407.91 L147.40,408.52 L146.02,408.63 L144.68,408.25 L143.44,407.64 L142.23,406.96 L141.08,406.17 L140.10,405.13 L139.39,403.83 L138.88,402.41 L138.48,400.99 L138.20,399.52 L138.21,398.00 L138.57,396.50 L139.11,395.12 L139.56,393.83 L139.86,392.49 L140.16,391.08 L140.63,389.71 L141.31,388.47 L142.11,387.33 L142.98,386.26 L143.98,385.38 L145.10,384.91 L146.27,384.88 L147.40,385.05 L148.51,385.16 L149.64,385.24 L150.78,385.53 L151.84,386.21 L152.77,387.18 L153.64,388.27 L154.46,389.40 L155.18,390.67 L155.69,392.08 L156.01,393.56 L156.28,395.02Z" fill="#e4782a"/><rect x="142.89" y="394.07" width="0.9" height="0.9" fill="#cc5a0c"/><rect x="148.26" y="390.06" width="0.9" height="0.9" fill="#cc5a0c"/><rect x="153.80" y="399.02" width="0.9" height="0.9" fill="#cc5a0c"/><rect x="144.79" y="401.26" width="0.9" height="0.9" fill="#cc5a0c"/><rect x="147.46" y="395.30" width="0.9" height="0.9" fill="#cc5a0c"/><rect x="150.23" y="396.46" width="0.9" height="0.9" fill="#cc5a0c"/><rect x="148.38" y="404.69" width="0.9" height="0.9" fill="#cc5a0c"/><rect x="149.17" y="398.85" width="0.9" height="0.9" fill="#cc5a0c"/><rect x="150.43" y="399.87" width="0.9" height="0.9" fill="#cc5a0c"/><rect x="153.11" y="402.82" width="0.9" height="0.9" fill="#cc5a0c"/><rect x="146.90" y="401.13" width="0.9" height="0.9" fill="#cc5a0c"/><rect x="141.04" y="396.94" width="0.9" height="0.9" fill="#cc5a0c"/><rect x="142.50" y="398.64" width="0.9" height="0.9" fill="#cc5a0c"/><rect x="142.05" y="395.74" width="0.9" height="0.9" fill="#cc5a0c"/><rect x="147.28" y="390.43" width="0.9" height="0.9" fill="#cc5a0c"/><rect x="143.57" y="389.90" width="0.9" height="0.9" fill="#cc5a0c"/><rect x="143.21" y="406.46" width="0.9" height="0.9" fill="#cc5a0c"/><rect x="146.39" y="397.63" width="0.9" height="0.9" fill="#cc5a0c"/><rect x="148.26" y="398.75" width="0.9" height="0.9" fill="#cc5a0c"/><rect x="141.77" y="398.32" width="0.9" height="0.9" fill="#cc5a0c"/><rect x="152.17" y="401.53" width="0.9" height="0.9" fill="#cc5a0c"/><rect x="144.02" y="392.41" width="0.9" height="0.9" fill="#cc5a0c"/><rect x="151.96" y="398.52" width="0.9" height="0.9" fill="#cc5a0c"/><rect x="154.94" y="393.95" width="0.9" height="0.9" fill="#cc5a0c"/><rect x="147.00" y="403.38" width="0.9" height="0.9" fill="#cc5a0c"/><rect x="142.59" y="400.17" width="0.9" height="0.9" fill="#cc5a0c"/><rect x="154.79" y="394.19" width="0.9" height="0.9" fill="#cc5a0c"/><rect x="149.67" y="402.32" width="0.9" height="0.9" fill="#cc5a0c"/><rect x="148.94" y="387.53" width="0.9" height="0.9" fill="#cc5a0c"/><rect x="139.55" y="394.94" width="0.9" height="0.9" fill="#cc5a0c"/><rect x="146.66" y="407.23" width="0.9" height="0.9" fill="#cc5a0c"/><rect x="150.96" y="391.01" width="0.9" height="0.9" fill="#cc5a0c"/><rect x="142.35" y="399.81" width="0.9" height="0.9" fill="#cc5a0c"/><rect x="153.70" y="392.02" width="0.9" height="0.9" fill="#cc5a0c"/><rect x="148.75" y="399.94" width="0.9" height="0.9" fill="#cc5a0c"/><rect x="152.89" y="392.58" width="0.9" height="0.9" fill="#cc5a0c"/><rect x="143.68" y="390.17" width="0.9" height="0.9" fill="#cc5a0c"/><rect x="152.49" y="393.81" width="0.9" height="0.9" fill="#cc5a0c"/><rect x="143.64" y="406.55" width="0.9" height="0.9" fill="#cc5a0c"/><rect x="145.97" y="384.50" width="0.9" height="0.9" fill="#cc5a0c"/><rect x="145.84" y="405.75" width="0.85" height="0.85" fill="#ffffff" fill-opacity="0.8"/><rect x="147.57" y="392.12" width="0.85" height="0.85" fill="#ffffff" fill-opacity="0.8"/><rect x="145.81" y="395.04" width="0.85" height="0.85" fill="#ffffff" fill-opacity="0.8"/><rect x="148.88" y="394.80" width="0.85" height="0.85" fill="#ffffff" fill-opacity="0.8"/><rect x="140.61" y="404.43" width="0.85" height="0.85" fill="#ffffff" fill-opacity="0.8"/><rect x="144.56" y="392.17" width="0.85" height="0.85" fill="#ffffff" fill-opacity="0.8"/><rect x="154.30" y="399.90" width="0.85" height="0.85" fill="#ffffff" fill-opacity="0.8"/><rect x="146.87" y="401.05" width="0.85" height="0.85" fill="#ffffff" fill-opacity="0.8"/><rect x="155.35" y="396.16" width="0.85" height="0.85" fill="#ffffff" fill-opacity="0.8"/><rect x="152.12" y="402.51" width="0.85" height="0.85" fill="#ffffff" fill-opacity="0.8"/><rect x="145.95" y="400.42" width="0.85" height="0.85" fill="#ffffff" fill-opacity="0.8"/><rect x="144.08" y="395.18" width="0.85" height="0.85" fill="#ffffff" fill-opacity="0.8"/><rect x="140.72" y="395.69" width="0.85" height="0.85" fill="#ffffff" fill-opacity="0.8"/><rect x="140.78" y="392.63" width="0.85" height="0.85" fill="#ffffff" fill-opacity="0.8"/><rect x="151.04" y="401.82" width="0.85" height="0.85" fill="#ffffff" fill-opacity="0.8"/><rect x="146.93" y="395.32" width="0.85" height="0.85" fill="#ffffff" fill-opacity="0.8"/><rect x="150.06" y="391.45" width="0.85" height="0.85" fill="#ffffff" fill-opacity="0.8"/><rect x="149.30" y="385.61" width="0.85" height="0.85" fill="#ffffff" fill-opacity="0.8"/><rect x="149.51" y="399.62" width="0.85" height="0.85" fill="#ffffff" fill-opacity="0.8"/><rect x="151.26" y="397.73" width="0.85" height="0.85" fill="#ffffff" fill-opacity="0.8"/><rect x="146.39" y="397.56" width="0.85" height="0.85" fill="#ffffff" fill-opacity="0.8"/><rect x="144.03" y="397.08" width="0.85" height="0.85" fill="#ffffff" fill-opacity="0.8"/><rect x="145.63" y="384.75" width="0.85" height="0.85" fill="#ffffff" fill-opacity="0.8"/><rect x="142.75" y="406.19" width="0.85" height="0.85" fill="#ffffff" fill-opacity="0.8"/><rect x="142.56" y="398.77" width="0.85" height="0.85" fill="#ffffff" fill-opacity="0.8"/><rect x="149.58" y="405.49" width="0.85" height="0.85" fill="#ffffff" fill-opacity="0.8"/><rect x="147.65" y="385.37" width="0.85" height="0.85" fill="#ffffff" fill-opacity="0.8"/><rect x="147.22" y="404.74" width="0.85" height="0.85" fill="#ffffff" fill-opacity="0.8"/><rect x="140.96" y="405.02" width="0.85" height="0.85" fill="#ffffff" fill-opacity="0.8"/><rect x="143.63" y="387.98" width="0.85" height="0.85" fill="#ffffff" fill-opacity="0.8"/><rect x="152.59" y="403.58" width="0.85" height="0.85" fill="#ffffff" fill-opacity="0.8"/><rect x="147.61" y="402.49" width="0.85" height="0.85" fill="#ffffff" fill-opacity="0.8"/><rect x="148.45" y="393.09" width="0.85" height="0.85" fill="#ffffff" fill-opacity="0.8"/><rect x="148.30" y="395.87" width="0.85" height="0.85" fill="#ffffff" fill-opacity="0.8"/><rect x="144.98" y="398.83" width="0.85" height="0.85" fill="#ffffff" fill-opacity="0.8"/><rect x="143.75" y="402.51" width="0.85" height="0.85" fill="#ffffff" fill-opacity="0.8"/><rect x="146.36" y="403.21" width="0.85" height="0.85" fill="#ffffff" fill-opacity="0.8"/><rect x="143.93" y="392.50" width="0.85" height="0.85" fill="#ffffff" fill-opacity="0.8"/><rect x="143.22" y="385.27" width="0.85" height="0.85" fill="#ffffff" fill-opacity="0.8"/><rect x="147.55" y="395.11" width="0.85" height="0.85" fill="#ffffff" fill-opacity="0.8"/><rect x="141.47" y="391.17" width="0.85" height="0.85" fill="#ffffff" fill-opacity="0.8"/><rect x="143.68" y="393.98" width="0.85" height="0.85" fill="#ffffff" fill-opacity="0.8"/><rect x="141.22" y="402.84" width="0.85" height="0.85" fill="#ffffff" fill-opacity="0.8"/><rect x="144.48" y="401.57" width="0.85" height="0.85" fill="#ffffff" fill-opacity="0.8"/><rect x="145.57" y="397.35" width="0.85" height="0.85" fill="#ffffff" fill-opacity="0.8"/><rect x="155.10" y="395.80" width="0.85" height="0.85" fill="#ffffff" fill-opacity="0.8"/><rect x="141.20" y="398.62" width="0.85" height="0.85" fill="#ffffff" fill-opacity="0.8"/><rect x="154.36" y="397.84" width="0.85" height="0.85" fill="#ffffff" fill-opacity="0.8"/><rect x="154.09" y="395.58" width="0.85" height="0.85" fill="#ffffff" fill-opacity="0.8"/><rect x="147.04" y="399.17" width="0.85" height="0.85" fill="#ffffff" fill-opacity="0.8"/><rect x="152.11" y="395.87" width="0.85" height="0.85" fill="#ffffff" fill-opacity="0.8"/><rect x="149.97" y="394.58" width="0.85" height="0.85" fill="#ffffff" fill-opacity="0.8"/><rect x="148.83" y="390.96" width="0.85" height="0.85" fill="#ffffff" fill-opacity="0.8"/><rect x="141.94" y="392.58" width="0.85" height="0.85" fill="#ffffff" fill-opacity="0.8"/><rect x="149.52" y="393.01" width="0.85" height="0.85" fill="#ffffff" fill-opacity="0.8"/><rect x="154.08" y="393.18" width="0.85" height="0.85" fill="#ffffff" fill-opacity="0.8"/><rect x="151.63" y="388.97" width="0.85" height="0.85" fill="#ffffff" fill-opacity="0.8"/><rect x="151.54" y="399.15" width="0.85" height="0.85" fill="#ffffff" fill-opacity="0.8"/><rect x="148.77" y="407.11" width="0.85" height="0.85" fill="#ffffff" fill-opacity="0.8"/><rect x="152.77" y="388.15" width="0.85" height="0.85" fill="#ffffff" fill-opacity="0.8"/><rect x="141.50" y="403.11" width="0.85" height="0.85" fill="#ffffff" fill-opacity="0.8"/><rect x="140.23" y="398.88" width="0.85" height="0.85" fill="#ffffff" fill-opacity="0.8"/><rect x="145.50" y="389.83" width="0.85" height="0.85" fill="#ffffff" fill-opacity="0.8"/><rect x="140.43" y="399.88" width="0.85" height="0.85" fill="#ffffff" fill-opacity="0.8"/><rect x="155.03" y="400.85" width="0.85" height="0.85" fill="#ffffff" fill-opacity="0.8"/><rect x="145.93" y="402.47" width="0.85" height="0.85" fill="#ffffff" fill-opacity="0.8"/><rect x="143.82" y="393.49" width="0.85" height="0.85" fill="#ffffff" fill-opacity="0.8"/><rect x="144.41" y="393.32" width="0.85" height="0.85" fill="#ffffff" fill-opacity="0.8"/><rect x="148.63" y="384.95" width="0.85" height="0.85" fill="#ffffff" fill-opacity="0.8"/><rect x="138.41" y="395.61" width="0.85" height="0.85" fill="#ffffff" fill-opacity="0.8"/><rect x="149.72" y="385.71" width="0.85" height="0.85" fill="#ffffff" fill-opacity="0.8"/><rect x="150.51" y="386.91" width="0.85" height="0.85" fill="#ffffff" fill-opacity="0.8"/><rect x="154.48" y="399.25" width="0.85" height="0.85" fill="#ffffff" fill-opacity="0.8"/><rect x="142.10" y="406.62" width="0.85" height="0.85" fill="#ffffff" fill-opacity="0.8"/><rect x="148.08" y="393.13" width="0.85" height="0.85" fill="#ffffff" fill-opacity="0.8"/><rect x="143.20" y="395.85" width="0.85" height="0.85" fill="#ffffff" fill-opacity="0.8"/><rect x="147.65" y="402.35" width="0.85" height="0.85" fill="#ffffff" fill-opacity="0.8"/><rect x="152.42" y="396.43" width="0.85" height="0.85" fill="#ffffff" fill-opacity="0.8"/><rect x="149.84" y="387.23" width="0.85" height="0.85" fill="#ffffff" fill-opacity="0.8"/><rect x="139.58" y="402.19" width="0.85" height="0.85" fill="#ffffff" fill-opacity="0.8"/><rect x="148.58" y="391.55" width="0.85" height="0.85" fill="#ffffff" fill-opacity="0.8"/><rect x="155.34" y="399.40" width="0.85" height="0.85" fill="#ffffff" fill-opacity="0.8"/><rect x="150.98" y="393.28" width="0.85" height="0.85" fill="#ffffff" fill-opacity="0.8"/><rect x="151.96" y="390.53" width="0.85" height="0.85" fill="#ffffff" fill-opacity="0.8"/><rect x="140.91" y="400.69" width="0.85" height="0.85" fill="#ffffff" fill-opacity="0.8"/><rect x="152.05" y="394.93" width="0.85" height="0.85" fill="#ffffff" fill-opacity="0.8"/><rect x="139.65" y="393.33" width="0.85" height="0.85" fill="#ffffff" fill-opacity="0.8"/><rect x="145.25" y="402.05" width="0.85" height="0.85" fill="#ffffff" fill-opacity="0.8"/><rect x="147.08" y="396.82" width="0.85" height="0.85" fill="#ffffff" fill-opacity="0.8"/><rect x="142.37" y="386.66" width="0.85" height="0.85" fill="#ffffff" fill-opacity="0.8"/><rect x="152.97" y="388.35" width="0.85" height="0.85" fill="#ffffff" fill-opacity="0.8"/><rect x="149.00" y="387.38" width="0.85" height="0.85" fill="#ffffff" fill-opacity="0.8"/><rect x="144.70" y="391.37" width="0.85" height="0.85" fill="#ffffff" fill-opacity="0.8"/><rect x="139.80" y="401.45" width="0.85" height="0.85" fill="#ffffff" fill-opacity="0.8"/><rect x="154.46" y="396.47" width="0.85" height="0.85" fill="#ffffff" fill-opacity="0.8"/><rect x="147.74" y="406.94" width="0.85" height="0.85" fill="#ffffff" fill-opacity="0.8"/><rect x="145.13" y="397.35" width="0.85" height="0.85" fill="#ffffff" fill-opacity="0.8"/><rect x="142.64" y="388.59" width="0.85" height="0.85" fill="#ffffff" fill-opacity="0.8"/><rect x="145.78" y="400.07" width="0.85" height="0.85" fill="#ffffff" fill-opacity="0.8"/><rect x="143.63" y="401.65" width="0.85" height="0.85" fill="#ffffff" fill-opacity="0.8"/><rect x="142.16" y="389.36" width="0.85" height="0.85" fill="#ffffff" fill-opacity="0.8"/><rect x="150.00" y="391.60" width="0.85" height="0.85" fill="#ffffff" fill-opacity="0.8"/><rect x="150.30" y="390.76" width="0.85" height="0.85" fill="#ffffff" fill-opacity="0.8"/><rect x="143.23" y="402.90" width="0.85" height="0.85" fill="#ffffff" fill-opacity="0.8"/><rect x="151.34" y="388.37" width="0.85" height="0.85" fill="#ffffff" fill-opacity="0.8"/><rect x="148.52" y="400.58" width="0.85" height="0.85" fill="#ffffff" fill-opacity="0.8"/><rect x="143.87" y="400.72" width="0.85" height="0.85" fill="#ffffff" fill-opacity="0.8"/><rect x="145.48" y="400.17" width="0.85" height="0.85" fill="#ffffff" fill-opacity="0.8"/><rect x="144.13" y="392.37" width="0.85" height="0.85" fill="#ffffff" fill-opacity="0.8"/><rect x="146.29" y="406.06" width="0.85" height="0.85" fill="#ffffff" fill-opacity="0.8"/><rect x="151.29" y="386.95" width="0.85" height="0.85" fill="#ffffff" fill-opacity="0.8"/><rect x="151.82" y="397.43" width="0.85" height="0.85" fill="#ffffff" fill-opacity="0.8"/><rect x="153.16" y="390.74" width="0.85" height="0.85" fill="#ffffff" fill-opacity="0.8"/><rect x="139.52" y="398.83" width="0.85" height="0.85" fill="#ffffff" fill-opacity="0.8"/><rect x="141.82" y="399.64" width="0.85" height="0.85" fill="#ffffff" fill-opacity="0.8"/><rect x="149.11" y="390.45" width="0.85" height="0.85" fill="#ffffff" fill-opacity="0.8"/><rect x="146.67" y="406.10" width="0.85" height="0.85" fill="#ffffff" fill-opacity="0.8"/><rect x="144.73" y="403.09" width="0.85" height="0.85" fill="#ffffff" fill-opacity="0.8"/><rect x="143.13" y="400.06" width="0.85" height="0.85" fill="#ffffff" fill-opacity="0.8"/><rect x="149.33" y="390.31" width="0.85" height="0.85" fill="#ffffff" fill-opacity="0.8"/><rect x="146.93" y="385.27" width="0.85" height="0.85" fill="#ffffff" fill-opacity="0.8"/><rect x="148.13" y="404.12" width="0.85" height="0.85" fill="#ffffff" fill-opacity="0.8"/><rect x="155.43" y="397.15" width="0.85" height="0.85" fill="#ffffff" fill-opacity="0.8"/><rect x="154.86" y="401.46" width="0.85" height="0.85" fill="#ffffff" fill-opacity="0.8"/><rect x="141.99" y="400.28" width="0.85" height="0.85" fill="#ffffff" fill-opacity="0.8"/><rect x="146.86" y="394.32" width="0.85" height="0.85" fill="#ffffff" fill-opacity="0.8"/><rect x="148.05" y="407.14" width="0.85" height="0.85" fill="#ffffff" fill-opacity="0.8"/><rect x="151.46" y="394.99" width="0.85" height="0.85" fill="#ffffff" fill-opacity="0.8"/><rect x="152.81" y="401.32" width="0.85" height="0.85" fill="#ffffff" fill-opacity="0.8"/><rect x="141.02" y="389.76" width="0.85" height="0.85" fill="#ffffff" fill-opacity="0.8"/><rect x="151.51" y="388.14" width="0.85" height="0.85" fill="#ffffff" fill-opacity="0.8"/><rect x="144.01" y="397.87" width="0.85" height="0.85" fill="#ffffff" fill-opacity="0.8"/><rect x="139.91" y="398.44" width="0.85" height="0.85" fill="#ffffff" fill-opacity="0.8"/><rect x="139.74" y="401.61" width="0.85" height="0.85" fill="#ffffff" fill-opacity="0.8"/><rect x="144.90" y="402.05" width="0.85" height="0.85" fill="#ffffff" fill-opacity="0.8"/><rect x="145.80" y="403.35" width="0.85" height="0.85" fill="#ffffff" fill-opacity="0.8"/><rect x="150.98" y="388.98" width="0.85" height="0.85" fill="#ffffff" fill-opacity="0.8"/><rect x="146.84" y="403.80" width="0.85" height="0.85" fill="#ffffff" fill-opacity="0.8"/><rect x="151.30" y="400.78" width="0.85" height="0.85" fill="#ffffff" fill-opacity="0.8"/><rect x="153.81" y="401.33" width="0.85" height="0.85" fill="#ffffff" fill-opacity="0.8"/><rect x="152.65" y="389.63" width="0.85" height="0.85" fill="#ffffff" fill-opacity="0.8"/><rect x="146.33" y="398.54" width="0.85" height="0.85" fill="#ffffff" fill-opacity="0.8"/><rect x="154.11" y="401.21" width="0.85" height="0.85" fill="#ffffff" fill-opacity="0.8"/><rect x="148.54" y="402.98" width="0.85" height="0.85" fill="#ffffff" fill-opacity="0.8"/><rect x="146.32" y="398.45" width="0.85" height="0.85" fill="#ffffff" fill-opacity="0.8"/><rect x="147.14" y="399.33" width="0.85" height="0.85" fill="#ffffff" fill-opacity="0.8"/><rect x="142.28" y="400.92" width="0.85" height="0.85" fill="#ffffff" fill-opacity="0.8"/><rect x="143.86" y="385.92" width="0.85" height="0.85" fill="#ffffff" fill-opacity="0.8"/><rect x="148.50" y="394.38" width="0.85" height="0.85" fill="#ffffff" fill-opacity="0.8"/><rect x="143.77" y="394.11" width="0.85" height="0.85" fill="#ffffff" fill-opacity="0.8"/><path d="M215.97,396.50 L216.03,398.04 L215.95,399.57 L215.57,401.01 L214.88,402.27 L214.08,403.39 L213.34,404.53 L212.59,405.76 L211.68,406.88 L210.51,407.64 L209.18,407.99 L207.83,408.08 L206.50,408.01 L205.22,407.72 L204.04,407.10 L203.01,406.28 L202.05,405.50 L201.02,404.88 L199.91,404.26 L198.90,403.40 L198.17,402.23 L197.67,400.89 L197.26,399.50 L196.91,398.05 L196.74,396.50 L196.88,394.92 L197.24,393.37 L197.69,391.84 L198.20,390.32 L198.91,388.92 L199.91,387.86 L201.09,387.23 L202.28,386.86 L203.38,386.52 L204.41,386.15 L205.45,385.87 L206.50,385.79 L207.56,385.80 L208.65,385.81 L209.80,385.91 L210.92,386.35 L211.90,387.23 L212.70,388.40 L213.43,389.61 L214.20,390.79 L214.95,392.04 L215.52,393.45 L215.83,394.97Z" fill="#e4782a"/><rect x="207.32" y="398.95" width="0.9" height="0.9" fill="#cc5a0c"/><rect x="197.65" y="397.07" width="0.9" height="0.9" fill="#cc5a0c"/><rect x="197.93" y="399.91" width="0.9" height="0.9" fill="#cc5a0c"/><rect x="214.31" y="398.44" width="0.9" height="0.9" fill="#cc5a0c"/><rect x="210.30" y="406.55" width="0.9" height="0.9" fill="#cc5a0c"/><rect x="206.15" y="398.69" width="0.9" height="0.9" fill="#cc5a0c"/><rect x="197.95" y="400.01" width="0.9" height="0.9" fill="#cc5a0c"/><rect x="206.28" y="404.65" width="0.9" height="0.9" fill="#cc5a0c"/><rect x="204.12" y="396.21" width="0.9" height="0.9" fill="#cc5a0c"/><rect x="201.17" y="389.38" width="0.9" height="0.9" fill="#cc5a0c"/><rect x="206.36" y="395.13" width="0.9" height="0.9" fill="#cc5a0c"/><rect x="199.31" y="393.90" width="0.9" height="0.9" fill="#cc5a0c"/><rect x="205.60" y="400.99" width="0.9" height="0.9" fill="#cc5a0c"/><rect x="203.97" y="392.13" width="0.9" height="0.9" fill="#cc5a0c"/><rect x="208.58" y="391.94" width="0.9" height="0.9" fill="#cc5a0c"/><rect x="206.83" y="391.32" width="0.9" height="0.9" fill="#cc5a0c"/><rect x="206.05" y="394.05" width="0.9" height="0.9" fill="#cc5a0c"/><rect x="213.81" y="402.04" width="0.9" height="0.9" fill="#cc5a0c"/><rect x="204.73" y="400.33" width="0.9" height="0.9" fill="#cc5a0c"/><rect x="197.52" y="392.10" width="0.9" height="0.9" fill="#cc5a0c"/><rect x="207.43" y="405.63" width="0.9" height="0.9" fill="#cc5a0c"/><rect x="214.83" y="394.94" width="0.9" height="0.9" fill="#cc5a0c"/><rect x="201.25" y="397.06" width="0.9" height="0.9" fill="#cc5a0c"/><rect x="200.96" y="394.17" width="0.9" height="0.9" fill="#cc5a0c"/><rect x="202.32" y="396.05" width="0.9" height="0.9" fill="#cc5a0c"/><rect x="201.69" y="394.81" width="0.9" height="0.9" fill="#cc5a0c"/><rect x="213.38" y="399.92" width="0.9" height="0.9" fill="#cc5a0c"/><rect x="207.68" y="388.35" width="0.9" height="0.9" fill="#cc5a0c"/><rect x="210.39" y="392.45" width="0.9" height="0.9" fill="#cc5a0c"/><rect x="200.86" y="401.08" width="0.9" height="0.9" fill="#cc5a0c"/><rect x="208.29" y="401.27" width="0.9" height="0.9" fill="#cc5a0c"/><rect x="201.99" y="399.87" width="0.9" height="0.9" fill="#cc5a0c"/><rect x="201.75" y="401.79" width="0.9" height="0.9" fill="#cc5a0c"/><rect x="209.85" y="395.53" width="0.9" height="0.9" fill="#cc5a0c"/><rect x="209.73" y="395.22" width="0.9" height="0.9" fill="#cc5a0c"/><rect x="198.52" y="390.65" width="0.9" height="0.9" fill="#cc5a0c"/><rect x="198.96" y="393.19" width="0.9" height="0.9" fill="#cc5a0c"/><rect x="205.13" y="385.99" width="0.9" height="0.9" fill="#cc5a0c"/><rect x="207.41" y="394.94" width="0.9" height="0.9" fill="#cc5a0c"/><rect x="202.71" y="398.75" width="0.9" height="0.9" fill="#cc5a0c"/><rect x="199.66" y="387.85" width="0.85" height="0.85" fill="#ffffff" fill-opacity="0.8"/><rect x="199.11" y="395.41" width="0.85" height="0.85" fill="#ffffff" fill-opacity="0.8"/><rect x="206.28" y="387.37" width="0.85" height="0.85" fill="#ffffff" fill-opacity="0.8"/><rect x="202.49" y="403.95" width="0.85" height="0.85" fill="#ffffff" fill-opacity="0.8"/><rect x="210.89" y="398.83" width="0.85" height="0.85" fill="#ffffff" fill-opacity="0.8"/><rect x="201.27" y="394.26" width="0.85" height="0.85" fill="#ffffff" fill-opacity="0.8"/><rect x="211.92" y="405.40" width="0.85" height="0.85" fill="#ffffff" fill-opacity="0.8"/><rect x="208.34" y="405.27" width="0.85" height="0.85" fill="#ffffff" fill-opacity="0.8"/><rect x="204.41" y="399.46" width="0.85" height="0.85" fill="#ffffff" fill-opacity="0.8"/><rect x="205.33" y="390.85" width="0.85" height="0.85" fill="#ffffff" fill-opacity="0.8"/><rect x="207.43" y="401.66" width="0.85" height="0.85" fill="#ffffff" fill-opacity="0.8"/><rect x="198.17" y="394.87" width="0.85" height="0.85" fill="#ffffff" fill-opacity="0.8"/><rect x="205.60" y="395.78" width="0.85" height="0.85" fill="#ffffff" fill-opacity="0.8"/><rect x="209.99" y="387.52" width="0.85" height="0.85" fill="#ffffff" fill-opacity="0.8"/><rect x="207.36" y="385.57" width="0.85" height="0.85" fill="#ffffff" fill-opacity="0.8"/><rect x="212.55" y="403.95" width="0.85" height="0.85" fill="#ffffff" fill-opacity="0.8"/><rect x="208.33" y="387.72" width="0.85" height="0.85" fill="#ffffff" fill-opacity="0.8"/><rect x="199.79" y="393.56" width="0.85" height="0.85" fill="#ffffff" fill-opacity="0.8"/><rect x="211.54" y="393.27" width="0.85" height="0.85" fill="#ffffff" fill-opacity="0.8"/><rect x="212.22" y="396.40" width="0.85" height="0.85" fill="#ffffff" fill-opacity="0.8"/><rect x="214.00" y="397.56" width="0.85" height="0.85" fill="#ffffff" fill-opacity="0.8"/><rect x="199.51" y="402.19" width="0.85" height="0.85" fill="#ffffff" fill-opacity="0.8"/><rect x="206.53" y="387.73" width="0.85" height="0.85" fill="#ffffff" fill-opacity="0.8"/><rect x="206.06" y="400.02" width="0.85" height="0.85" fill="#ffffff" fill-opacity="0.8"/><rect x="204.03" y="395.95" width="0.85" height="0.85" fill="#ffffff" fill-opacity="0.8"/><rect x="202.65" y="397.66" width="0.85" height="0.85" fill="#ffffff" fill-opacity="0.8"/><rect x="214.00" y="400.86" width="0.85" height="0.85" fill="#ffffff" fill-opacity="0.8"/><rect x="201.31" y="401.39" width="0.85" height="0.85" fill="#ffffff" fill-opacity="0.8"/><rect x="201.97" y="391.55" width="0.85" height="0.85" fill="#ffffff" fill-opacity="0.8"/><rect x="206.22" y="404.08" width="0.85" height="0.85" fill="#ffffff" fill-opacity="0.8"/><rect x="197.81" y="401.50" width="0.85" height="0.85" fill="#ffffff" fill-opacity="0.8"/><rect x="202.95" y="400.13" width="0.85" height="0.85" fill="#ffffff" fill-opacity="0.8"/><rect x="199.10" y="388.95" width="0.85" height="0.85" fill="#ffffff" fill-opacity="0.8"/><rect x="209.87" y="405.08" width="0.85" height="0.85" fill="#ffffff" fill-opacity="0.8"/><rect x="210.31" y="400.97" width="0.85" height="0.85" fill="#ffffff" fill-opacity="0.8"/><rect x="206.29" y="401.71" width="0.85" height="0.85" fill="#ffffff" fill-opacity="0.8"/><rect x="207.71" y="396.05" width="0.85" height="0.85" fill="#ffffff" fill-opacity="0.8"/><rect x="204.82" y="390.62" width="0.85" height="0.85" fill="#ffffff" fill-opacity="0.8"/><rect x="200.89" y="393.82" width="0.85" height="0.85" fill="#ffffff" fill-opacity="0.8"/><rect x="212.44" y="390.38" width="0.85" height="0.85" fill="#ffffff" fill-opacity="0.8"/><rect x="207.21" y="392.04" width="0.85" height="0.85" fill="#ffffff" fill-opacity="0.8"/><rect x="197.01" y="395.75" width="0.85" height="0.85" fill="#ffffff" fill-opacity="0.8"/><rect x="197.48" y="400.66" width="0.85" height="0.85" fill="#ffffff" fill-opacity="0.8"/><rect x="204.20" y="394.79" width="0.85" height="0.85" fill="#ffffff" fill-opacity="0.8"/><rect x="206.13" y="385.74" width="0.85" height="0.85" fill="#ffffff" fill-opacity="0.8"/><rect x="203.10" y="393.89" width="0.85" height="0.85" fill="#ffffff" fill-opacity="0.8"/><rect x="211.39" y="390.16" width="0.85" height="0.85" fill="#ffffff" fill-opacity="0.8"/><rect x="210.21" y="390.35" width="0.85" height="0.85" fill="#ffffff" fill-opacity="0.8"/><rect x="200.25" y="393.15" width="0.85" height="0.85" fill="#ffffff" fill-opacity="0.8"/><rect x="201.87" y="404.73" width="0.85" height="0.85" fill="#ffffff" fill-opacity="0.8"/><rect x="214.44" y="392.70" width="0.85" height="0.85" fill="#ffffff" fill-opacity="0.8"/><rect x="201.53" y="391.17" width="0.85" height="0.85" fill="#ffffff" fill-opacity="0.8"/><rect x="201.45" y="397.59" width="0.85" height="0.85" fill="#ffffff" fill-opacity="0.8"/><rect x="200.69" y="393.91" width="0.85" height="0.85" fill="#ffffff" fill-opacity="0.8"/><rect x="205.67" y="400.15" width="0.85" height="0.85" fill="#ffffff" fill-opacity="0.8"/><rect x="212.81" y="403.21" width="0.85" height="0.85" fill="#ffffff" fill-opacity="0.8"/><rect x="213.18" y="397.88" width="0.85" height="0.85" fill="#ffffff" fill-opacity="0.8"/><rect x="210.28" y="397.23" width="0.85" height="0.85" fill="#ffffff" fill-opacity="0.8"/><rect x="209.53" y="392.64" width="0.85" height="0.85" fill="#ffffff" fill-opacity="0.8"/><rect x="206.67" y="398.91" width="0.85" height="0.85" fill="#ffffff" fill-opacity="0.8"/><rect x="212.59" y="392.64" width="0.85" height="0.85" fill="#ffffff" fill-opacity="0.8"/><rect x="210.71" y="393.49" width="0.85" height="0.85" fill="#ffffff" fill-opacity="0.8"/><rect x="208.70" y="405.39" width="0.85" height="0.85" fill="#ffffff" fill-opacity="0.8"/><rect x="204.91" y="393.54" width="0.85" height="0.85" fill="#ffffff" fill-opacity="0.8"/><rect x="203.34" y="396.91" width="0.85" height="0.85" fill="#ffffff" fill-opacity="0.8"/><rect x="204.58" y="396.56" width="0.85" height="0.85" fill="#ffffff" fill-opacity="0.8"/><rect x="213.47" y="396.97" width="0.85" height="0.85" fill="#ffffff" fill-opacity="0.8"/><rect x="199.26" y="395.93" width="0.85" height="0.85" fill="#ffffff" fill-opacity="0.8"/><rect x="214.04" y="395.86" width="0.85" height="0.85" fill="#ffffff" fill-opacity="0.8"/><rect x="212.12" y="398.14" width="0.85" height="0.85" fill="#ffffff" fill-opacity="0.8"/><rect x="206.17" y="400.33" width="0.85" height="0.85" fill="#ffffff" fill-opacity="0.8"/><rect x="199.55" y="400.75" width="0.85" height="0.85" fill="#ffffff" fill-opacity="0.8"/><rect x="199.74" y="387.47" width="0.85" height="0.85" fill="#ffffff" fill-opacity="0.8"/><rect x="197.42" y="398.30" width="0.85" height="0.85" fill="#ffffff" fill-opacity="0.8"/><rect x="205.56" y="405.25" width="0.85" height="0.85" fill="#ffffff" fill-opacity="0.8"/><rect x="203.45" y="395.42" width="0.85" height="0.85" fill="#ffffff" fill-opacity="0.8"/><rect x="209.00" y="386.33" width="0.85" height="0.85" fill="#ffffff" fill-opacity="0.8"/><rect x="198.88" y="397.35" width="0.85" height="0.85" fill="#ffffff" fill-opacity="0.8"/><rect x="199.38" y="392.55" width="0.85" height="0.85" fill="#ffffff" fill-opacity="0.8"/><rect x="214.73" y="400.64" width="0.85" height="0.85" fill="#ffffff" fill-opacity="0.8"/><rect x="201.54" y="402.95" width="0.85" height="0.85" fill="#ffffff" fill-opacity="0.8"/><rect x="202.28" y="404.02" width="0.85" height="0.85" fill="#ffffff" fill-opacity="0.8"/><rect x="209.27" y="391.05" width="0.85" height="0.85" fill="#ffffff" fill-opacity="0.8"/><rect x="204.30" y="406.26" width="0.85" height="0.85" fill="#ffffff" fill-opacity="0.8"/><rect x="197.17" y="392.33" width="0.85" height="0.85" fill="#ffffff" fill-opacity="0.8"/><rect x="204.64" y="390.47" width="0.85" height="0.85" fill="#ffffff" fill-opacity="0.8"/><rect x="202.87" y="397.41" width="0.85" height="0.85" fill="#ffffff" fill-opacity="0.8"/><rect x="199.37" y="402.26" width="0.85" height="0.85" fill="#ffffff" fill-opacity="0.8"/><rect x="203.84" y="400.41" width="0.85" height="0.85" fill="#ffffff" fill-opacity="0.8"/><rect x="199.83" y="403.29" width="0.85" height="0.85" fill="#ffffff" fill-opacity="0.8"/><rect x="199.63" y="399.56" width="0.85" height="0.85" fill="#ffffff" fill-opacity="0.8"/><rect x="207.81" y="401.88" width="0.85" height="0.85" fill="#ffffff" fill-opacity="0.8"/><rect x="209.07" y="390.76" width="0.85" height="0.85" fill="#ffffff" fill-opacity="0.8"/><rect x="211.91" y="388.24" width="0.85" height="0.85" fill="#ffffff" fill-opacity="0.8"/><rect x="214.51" y="399.35" width="0.85" height="0.85" fill="#ffffff" fill-opacity="0.8"/><rect x="202.41" y="389.12" width="0.85" height="0.85" fill="#ffffff" fill-opacity="0.8"/><rect x="199.64" y="390.20" width="0.85" height="0.85" fill="#ffffff" fill-opacity="0.8"/><rect x="207.80" y="394.97" width="0.85" height="0.85" fill="#ffffff" fill-opacity="0.8"/><rect x="201.41" y="392.95" width="0.85" height="0.85" fill="#ffffff" fill-opacity="0.8"/><rect x="210.39" y="397.32" width="0.85" height="0.85" fill="#ffffff" fill-opacity="0.8"/><rect x="202.21" y="388.90" width="0.85" height="0.85" fill="#ffffff" fill-opacity="0.8"/><rect x="213.41" y="398.69" width="0.85" height="0.85" fill="#ffffff" fill-opacity="0.8"/><rect x="200.32" y="388.20" width="0.85" height="0.85" fill="#ffffff" fill-opacity="0.8"/><rect x="211.52" y="405.47" width="0.85" height="0.85" fill="#ffffff" fill-opacity="0.8"/><rect x="212.69" y="390.87" width="0.85" height="0.85" fill="#ffffff" fill-opacity="0.8"/><rect x="203.25" y="392.06" width="0.85" height="0.85" fill="#ffffff" fill-opacity="0.8"/><rect x="201.59" y="402.47" width="0.85" height="0.85" fill="#ffffff" fill-opacity="0.8"/><rect x="211.93" y="387.95" width="0.85" height="0.85" fill="#ffffff" fill-opacity="0.8"/><rect x="198.62" y="397.47" width="0.85" height="0.85" fill="#ffffff" fill-opacity="0.8"/><rect x="213.53" y="402.18" width="0.85" height="0.85" fill="#ffffff" fill-opacity="0.8"/><rect x="203.70" y="406.65" width="0.85" height="0.85" fill="#ffffff" fill-opacity="0.8"/><rect x="197.70" y="392.08" width="0.85" height="0.85" fill="#ffffff" fill-opacity="0.8"/><rect x="202.09" y="400.85" width="0.85" height="0.85" fill="#ffffff" fill-opacity="0.8"/><rect x="199.52" y="402.37" width="0.85" height="0.85" fill="#ffffff" fill-opacity="0.8"/><rect x="200.28" y="398.19" width="0.85" height="0.85" fill="#ffffff" fill-opacity="0.8"/><rect x="215.19" y="399.25" width="0.85" height="0.85" fill="#ffffff" fill-opacity="0.8"/><rect x="205.20" y="396.36" width="0.85" height="0.85" fill="#ffffff" fill-opacity="0.8"/><rect x="207.69" y="399.89" width="0.85" height="0.85" fill="#ffffff" fill-opacity="0.8"/><rect x="205.28" y="389.67" width="0.85" height="0.85" fill="#ffffff" fill-opacity="0.8"/><rect x="201.21" y="389.72" width="0.85" height="0.85" fill="#ffffff" fill-opacity="0.8"/><rect x="198.62" y="389.78" width="0.85" height="0.85" fill="#ffffff" fill-opacity="0.8"/><rect x="205.63" y="390.93" width="0.85" height="0.85" fill="#ffffff" fill-opacity="0.8"/><rect x="207.15" y="400.89" width="0.85" height="0.85" fill="#ffffff" fill-opacity="0.8"/><rect x="197.76" y="393.04" width="0.85" height="0.85" fill="#ffffff" fill-opacity="0.8"/><rect x="197.69" y="392.53" width="0.85" height="0.85" fill="#ffffff" fill-opacity="0.8"/><rect x="200.24" y="400.47" width="0.85" height="0.85" fill="#ffffff" fill-opacity="0.8"/><rect x="208.75" y="407.43" width="0.85" height="0.85" fill="#ffffff" fill-opacity="0.8"/><rect x="201.24" y="397.45" width="0.85" height="0.85" fill="#ffffff" fill-opacity="0.8"/><rect x="203.94" y="395.62" width="0.85" height="0.85" fill="#ffffff" fill-opacity="0.8"/><rect x="209.03" y="399.48" width="0.85" height="0.85" fill="#ffffff" fill-opacity="0.8"/><rect x="200.37" y="388.42" width="0.85" height="0.85" fill="#ffffff" fill-opacity="0.8"/><rect x="208.72" y="407.13" width="0.85" height="0.85" fill="#ffffff" fill-opacity="0.8"/><rect x="211.88" y="391.88" width="0.85" height="0.85" fill="#ffffff" fill-opacity="0.8"/><rect x="205.30" y="405.47" width="0.85" height="0.85" fill="#ffffff" fill-opacity="0.8"/><rect x="209.80" y="406.33" width="0.85" height="0.85" fill="#ffffff" fill-opacity="0.8"/><rect x="201.75" y="393.66" width="0.85" height="0.85" fill="#ffffff" fill-opacity="0.8"/><rect x="204.10" y="389.03" width="0.85" height="0.85" fill="#ffffff" fill-opacity="0.8"/><rect x="205.42" y="403.35" width="0.85" height="0.85" fill="#ffffff" fill-opacity="0.8"/><rect x="197.73" y="399.78" width="0.85" height="0.85" fill="#ffffff" fill-opacity="0.8"/><rect x="204.70" y="393.45" width="0.85" height="0.85" fill="#ffffff" fill-opacity="0.8"/><rect x="208.02" y="389.15" width="0.85" height="0.85" fill="#ffffff" fill-opacity="0.8"/><rect x="213.07" y="394.87" width="0.85" height="0.85" fill="#ffffff" fill-opacity="0.8"/><rect x="198.74" y="391.51" width="0.85" height="0.85" fill="#ffffff" fill-opacity="0.8"/><rect x="199.55" y="400.09" width="0.85" height="0.85" fill="#ffffff" fill-opacity="0.8"/><rect x="214.54" y="398.15" width="0.85" height="0.85" fill="#ffffff" fill-opacity="0.8"/><rect x="210.40" y="390.40" width="0.85" height="0.85" fill="#ffffff" fill-opacity="0.8"/><rect x="199.36" y="399.08" width="0.85" height="0.85" fill="#ffffff" fill-opacity="0.8"/><rect x="202.66" y="395.99" width="0.85" height="0.85" fill="#ffffff" fill-opacity="0.8"/><rect x="202.94" y="386.43" width="0.85" height="0.85" fill="#ffffff" fill-opacity="0.8"/><rect x="210.50" y="398.27" width="0.85" height="0.85" fill="#ffffff" fill-opacity="0.8"/><path d="M295.94,384.30 L295.99,386.12 L295.84,387.92 L295.64,389.75 L295.40,391.66 L294.87,393.53 L293.86,395.10 L292.42,396.19 L290.80,396.89 L289.16,397.40 L287.53,397.75 L285.90,397.83 L284.30,397.60 L282.77,397.25 L281.27,396.96 L279.73,396.65 L278.25,396.08 L276.97,395.08 L275.94,393.81 L274.99,392.48 L274.01,391.14 L273.09,389.69 L272.43,388.03 L272.12,386.20 L272.05,384.30 L272.15,382.37 L272.51,380.44 L273.25,378.66 L274.34,377.16 L275.55,375.90 L276.68,374.70 L277.73,373.44 L278.85,372.24 L280.12,371.33 L281.48,370.75 L282.88,370.37 L284.30,370.14 L285.73,370.23 L287.11,370.78 L288.37,371.70 L289.56,372.70 L290.76,373.63 L291.99,374.61 L293.10,375.84 L293.96,377.38 L294.59,379.06 L295.13,380.77 L295.62,382.50Z" fill="#b3aee4"/><rect x="290.40" y="393.62" width="0.9" height="0.9" fill="#6a62c0"/><rect x="277.83" y="393.14" width="0.9" height="0.9" fill="#6a62c0"/><rect x="274.69" y="391.23" width="0.9" height="0.9" fill="#6a62c0"/><rect x="294.19" y="391.32" width="0.9" height="0.9" fill="#6a62c0"/><rect x="293.29" y="378.36" width="0.9" height="0.9" fill="#6a62c0"/><rect x="285.09" y="371.72" width="0.9" height="0.9" fill="#6a62c0"/><rect x="272.83" y="383.24" width="0.9" height="0.9" fill="#6a62c0"/><rect x="280.46" y="372.21" width="0.9" height="0.9" fill="#6a62c0"/><rect x="281.63" y="396.03" width="0.9" height="0.9" fill="#6a62c0"/><rect x="274.15" y="382.51" width="0.9" height="0.9" fill="#6a62c0"/><rect x="287.63" y="396.62" width="0.9" height="0.9" fill="#6a62c0"/><rect x="294.63" y="384.91" width="0.9" height="0.9" fill="#6a62c0"/><rect x="280.30" y="395.79" width="0.9" height="0.9" fill="#6a62c0"/><rect x="292.25" y="377.89" width="0.9" height="0.9" fill="#6a62c0"/><rect x="285.81" y="371.32" width="0.9" height="0.9" fill="#6a62c0"/><rect x="284.40" y="397.16" width="0.9" height="0.9" fill="#6a62c0"/><rect x="287.78" y="373.60" width="0.9" height="0.9" fill="#6a62c0"/><rect x="271.95" y="386.00" width="0.9" height="0.9" fill="#6a62c0"/><rect x="273.59" y="382.50" width="0.9" height="0.9" fill="#6a62c0"/><rect x="275.04" y="375.77" width="0.9" height="0.9" fill="#6a62c0"/><rect x="283.98" y="370.47" width="0.9" height="0.9" fill="#6a62c0"/><rect x="289.23" y="372.82" width="0.9" height="0.9" fill="#6a62c0"/><rect x="294.99" y="385.70" width="0.9" height="0.9" fill="#6a62c0"/><rect x="271.76" y="384.31" width="0.9" height="0.9" fill="#6a62c0"/><rect x="273.56" y="381.56" width="0.9" height="0.9" fill="#6a62c0"/><rect x="275.71" y="389.58" width="0.9" height="0.9" fill="#6a62c0"/><rect x="292.89" y="378.46" width="0.9" height="0.9" fill="#6a62c0"/><rect x="295.00" y="382.77" width="0.9" height="0.9" fill="#6a62c0"/><rect x="272.35" y="380.33" width="0.9" height="0.9" fill="#6a62c0"/><rect x="290.75" y="374.78" width="0.9" height="0.9" fill="#6a62c0"/><rect x="292.27" y="391.03" width="0.9" height="0.9" fill="#6a62c0"/><rect x="272.52" y="385.76" width="0.9" height="0.9" fill="#6a62c0"/><rect x="292.48" y="393.04" width="0.9" height="0.9" fill="#6a62c0"/><rect x="276.28" y="393.60" width="0.9" height="0.9" fill="#6a62c0"/><rect x="292.76" y="380.22" width="0.9" height="0.9" fill="#6a62c0"/><rect x="279.68" y="394.78" width="0.9" height="0.9" fill="#6a62c0"/><rect x="288.73" y="372.41" width="0.9" height="0.9" fill="#6a62c0"/><rect x="292.38" y="378.14" width="0.9" height="0.9" fill="#6a62c0"/><rect x="295.08" y="383.91" width="0.9" height="0.9" fill="#6a62c0"/><rect x="294.05" y="392.94" width="0.9" height="0.9" fill="#6a62c0"/><rect x="292.14" y="375.73" width="0.9" height="0.9" fill="#6a62c0"/><rect x="286.50" y="372.82" width="0.9" height="0.9" fill="#6a62c0"/><rect x="293.23" y="380.88" width="0.9" height="0.9" fill="#6a62c0"/><rect x="293.39" y="385.33" width="0.9" height="0.9" fill="#6a62c0"/><rect x="272.57" y="384.78" width="0.9" height="0.9" fill="#6a62c0"/><rect x="291.58" y="392.19" width="0.9" height="0.9" fill="#6a62c0"/><rect x="285.02" y="372.85" width="0.9" height="0.9" fill="#6a62c0"/><rect x="287.14" y="397.18" width="0.9" height="0.9" fill="#6a62c0"/><rect x="285.01" y="370.60" width="0.9" height="0.9" fill="#6a62c0"/><rect x="272.01" y="381.94" width="0.9" height="0.9" fill="#6a62c0"/><rect x="287.55" y="373.41" width="0.9" height="0.9" fill="#6a62c0"/><rect x="294.12" y="378.84" width="0.9" height="0.9" fill="#6a62c0"/><rect x="272.37" y="384.21" width="0.9" height="0.9" fill="#6a62c0"/><rect x="276.06" y="391.39" width="0.9" height="0.9" fill="#6a62c0"/><rect x="273.64" y="384.74" width="0.9" height="0.9" fill="#6a62c0"/><rect x="291.82" y="376.48" width="0.9" height="0.9" fill="#6a62c0"/><rect x="293.15" y="382.81" width="0.9" height="0.9" fill="#6a62c0"/><rect x="284.15" y="395.98" width="0.9" height="0.9" fill="#6a62c0"/><rect x="295.04" y="383.17" width="0.9" height="0.9" fill="#6a62c0"/><rect x="294.69" y="389.36" width="0.9" height="0.9" fill="#6a62c0"/><rect x="274.00" y="386.85" width="0.9" height="0.9" fill="#6a62c0"/><rect x="291.96" y="391.85" width="0.9" height="0.9" fill="#6a62c0"/><rect x="272.95" y="387.03" width="0.9" height="0.9" fill="#6a62c0"/><rect x="293.61" y="391.12" width="0.9" height="0.9" fill="#6a62c0"/><rect x="280.73" y="371.28" width="0.9" height="0.9" fill="#6a62c0"/><rect x="291.82" y="391.18" width="0.9" height="0.9" fill="#6a62c0"/><rect x="294.60" y="383.64" width="0.9" height="0.9" fill="#6a62c0"/><rect x="293.26" y="376.53" width="0.9" height="0.9" fill="#6a62c0"/><rect x="284.11" y="371.74" width="0.9" height="0.9" fill="#6a62c0"/><rect x="276.03" y="391.22" width="0.9" height="0.9" fill="#6a62c0"/><rect x="284.33" y="370.07" width="0.9" height="0.9" fill="#6a62c0"/><rect x="294.13" y="380.36" width="0.9" height="0.9" fill="#6a62c0"/><rect x="276.34" y="392.98" width="0.9" height="0.9" fill="#6a62c0"/><rect x="293.29" y="376.64" width="0.9" height="0.9" fill="#6a62c0"/><rect x="275.61" y="375.14" width="0.9" height="0.9" fill="#6a62c0"/><rect x="275.78" y="375.41" width="0.9" height="0.9" fill="#6a62c0"/><rect x="294.12" y="388.95" width="0.9" height="0.9" fill="#6a62c0"/><rect x="293.24" y="385.48" width="0.9" height="0.9" fill="#6a62c0"/><rect x="291.24" y="392.72" width="0.9" height="0.9" fill="#6a62c0"/><rect x="285.93" y="373.04" width="0.9" height="0.9" fill="#6a62c0"/><rect x="274.06" y="390.23" width="0.9" height="0.9" fill="#6a62c0"/><rect x="295.32" y="384.65" width="0.9" height="0.9" fill="#6a62c0"/><rect x="290.02" y="394.43" width="0.9" height="0.9" fill="#6a62c0"/><rect x="293.52" y="385.99" width="0.9" height="0.9" fill="#6a62c0"/><rect x="278.39" y="394.35" width="0.9" height="0.9" fill="#6a62c0"/><rect x="283.31" y="371.96" width="0.9" height="0.9" fill="#6a62c0"/><rect x="294.21" y="388.03" width="0.9" height="0.9" fill="#6a62c0"/><rect x="279.41" y="373.25" width="0.9" height="0.9" fill="#6a62c0"/><rect x="292.88" y="391.24" width="0.9" height="0.9" fill="#6a62c0"/><rect x="273.41" y="384.74" width="0.9" height="0.9" fill="#6a62c0"/><rect x="275.49" y="391.08" width="0.9" height="0.9" fill="#6a62c0"/><rect x="274.24" y="386.80" width="0.9" height="0.9" fill="#6a62c0"/><rect x="291.55" y="392.95" width="0.9" height="0.9" fill="#6a62c0"/><rect x="275.46" y="389.61" width="0.9" height="0.9" fill="#6a62c0"/><rect x="274.52" y="391.35" width="0.9" height="0.9" fill="#6a62c0"/><rect x="273.38" y="384.65" width="0.9" height="0.9" fill="#6a62c0"/><rect x="274.23" y="383.09" width="0.9" height="0.9" fill="#6a62c0"/><rect x="291.29" y="393.62" width="0.9" height="0.9" fill="#6a62c0"/><rect x="283.30" y="371.21" width="0.9" height="0.9" fill="#6a62c0"/><rect x="279.46" y="372.10" width="0.9" height="0.9" fill="#6a62c0"/><rect x="292.40" y="391.05" width="0.9" height="0.9" fill="#6a62c0"/><rect x="277.44" y="394.35" width="0.9" height="0.9" fill="#6a62c0"/><rect x="275.50" y="375.86" width="0.9" height="0.9" fill="#6a62c0"/><rect x="274.27" y="388.71" width="0.9" height="0.9" fill="#6a62c0"/><rect x="273.03" y="385.72" width="0.9" height="0.9" fill="#6a62c0"/><rect x="293.21" y="389.18" width="0.9" height="0.9" fill="#6a62c0"/><rect x="285.71" y="371.45" width="0.9" height="0.9" fill="#6a62c0"/><rect x="293.25" y="389.25" width="0.9" height="0.9" fill="#6a62c0"/><rect x="295.31" y="386.15" width="0.9" height="0.9" fill="#6a62c0"/><rect x="288.37" y="394.71" width="0.9" height="0.9" fill="#6a62c0"/><rect x="271.93" y="382.50" width="0.9" height="0.9" fill="#6a62c0"/><rect x="285.37" y="372.24" width="0.9" height="0.9" fill="#6a62c0"/><rect x="288.96" y="374.40" width="0.9" height="0.9" fill="#6a62c0"/><rect x="287.29" y="395.92" width="0.9" height="0.9" fill="#6a62c0"/><rect x="272.31" y="380.90" width="0.9" height="0.9" fill="#6a62c0"/><rect x="293.16" y="389.01" width="0.9" height="0.9" fill="#6a62c0"/><rect x="274.24" y="383.93" width="0.9" height="0.9" fill="#6a62c0"/><rect x="280.48" y="372.24" width="0.9" height="0.9" fill="#6a62c0"/><rect x="291.58" y="394.66" width="0.9" height="0.9" fill="#6a62c0"/><rect x="273.49" y="377.41" width="0.9" height="0.9" fill="#6a62c0"/><rect x="290.52" y="394.29" width="0.9" height="0.9" fill="#6a62c0"/><rect x="292.97" y="380.83" width="0.9" height="0.9" fill="#6a62c0"/><rect x="294.41" y="384.00" width="0.9" height="0.9" fill="#6a62c0"/><rect x="280.22" y="371.30" width="0.9" height="0.9" fill="#6a62c0"/><rect x="276.65" y="391.29" width="0.9" height="0.9" fill="#6a62c0"/><rect x="286.89" y="395.77" width="0.9" height="0.9" fill="#6a62c0"/><rect x="292.13" y="378.71" width="0.9" height="0.9" fill="#6a62c0"/><rect x="276.69" y="391.45" width="0.9" height="0.9" fill="#6a62c0"/><rect x="274.10" y="389.77" width="0.9" height="0.9" fill="#6a62c0"/><rect x="280.75" y="371.87" width="0.9" height="0.9" fill="#6a62c0"/><rect x="293.23" y="391.89" width="0.9" height="0.9" fill="#6a62c0"/><rect x="274.03" y="382.20" width="0.9" height="0.9" fill="#6a62c0"/><rect x="279.34" y="395.45" width="0.9" height="0.9" fill="#6a62c0"/><rect x="274.19" y="390.45" width="0.9" height="0.9" fill="#6a62c0"/><rect x="277.61" y="394.38" width="0.9" height="0.9" fill="#6a62c0"/><rect x="290.30" y="393.84" width="0.9" height="0.9" fill="#6a62c0"/><rect x="294.03" y="390.91" width="0.9" height="0.9" fill="#6a62c0"/><rect x="281.43" y="370.79" width="0.9" height="0.9" fill="#6a62c0"/><rect x="273.77" y="379.48" width="0.9" height="0.9" fill="#6a62c0"/><rect x="277.65" y="395.17" width="0.9" height="0.9" fill="#6a62c0"/><rect x="278.02" y="373.54" width="0.8" height="0.8" fill="#ffffff" fill-opacity="0.8"/><rect x="274.56" y="379.97" width="0.8" height="0.8" fill="#ffffff" fill-opacity="0.8"/><rect x="293.17" y="377.52" width="0.8" height="0.8" fill="#ffffff" fill-opacity="0.8"/><rect x="288.93" y="396.77" width="0.8" height="0.8" fill="#ffffff" fill-opacity="0.8"/><rect x="293.61" y="377.33" width="0.8" height="0.8" fill="#ffffff" fill-opacity="0.8"/><rect x="279.90" y="372.84" width="0.8" height="0.8" fill="#ffffff" fill-opacity="0.8"/><rect x="292.41" y="393.15" width="0.8" height="0.8" fill="#ffffff" fill-opacity="0.8"/><rect x="281.97" y="370.92" width="0.8" height="0.8" fill="#ffffff" fill-opacity="0.8"/><rect x="275.44" y="389.73" width="0.8" height="0.8" fill="#ffffff" fill-opacity="0.8"/><rect x="294.50" y="386.49" width="0.8" height="0.8" fill="#ffffff" fill-opacity="0.8"/><rect x="292.73" y="394.42" width="0.8" height="0.8" fill="#ffffff" fill-opacity="0.8"/><rect x="292.01" y="392.41" width="0.8" height="0.8" fill="#ffffff" fill-opacity="0.8"/><rect x="292.27" y="390.15" width="0.8" height="0.8" fill="#ffffff" fill-opacity="0.8"/><rect x="278.00" y="392.47" width="0.8" height="0.8" fill="#ffffff" fill-opacity="0.8"/><rect x="272.88" y="388.84" width="0.8" height="0.8" fill="#ffffff" fill-opacity="0.8"/><rect x="293.38" y="388.24" width="0.8" height="0.8" fill="#ffffff" fill-opacity="0.8"/><rect x="276.77" y="392.25" width="0.8" height="0.8" fill="#ffffff" fill-opacity="0.8"/><rect x="290.17" y="396.27" width="0.8" height="0.8" fill="#ffffff" fill-opacity="0.8"/><rect x="281.64" y="370.31" width="0.8" height="0.8" fill="#ffffff" fill-opacity="0.8"/><rect x="294.15" y="383.17" width="0.8" height="0.8" fill="#ffffff" fill-opacity="0.8"/><rect x="275.01" y="391.49" width="0.8" height="0.8" fill="#ffffff" fill-opacity="0.8"/><rect x="285.75" y="372.57" width="0.8" height="0.8" fill="#ffffff" fill-opacity="0.8"/><rect x="283.79" y="396.50" width="0.8" height="0.8" fill="#ffffff" fill-opacity="0.8"/><rect x="287.62" y="395.59" width="0.8" height="0.8" fill="#ffffff" fill-opacity="0.8"/><rect x="273.90" y="388.54" width="0.8" height="0.8" fill="#ffffff" fill-opacity="0.8"/><rect x="272.85" y="385.02" width="0.8" height="0.8" fill="#ffffff" fill-opacity="0.8"/><rect x="278.07" y="374.35" width="0.8" height="0.8" fill="#ffffff" fill-opacity="0.8"/><rect x="278.73" y="393.99" width="0.8" height="0.8" fill="#ffffff" fill-opacity="0.8"/><rect x="290.92" y="393.50" width="0.8" height="0.8" fill="#ffffff" fill-opacity="0.8"/><rect x="291.13" y="375.82" width="0.8" height="0.8" fill="#ffffff" fill-opacity="0.8"/><rect x="277.58" y="374.70" width="0.8" height="0.8" fill="#ffffff" fill-opacity="0.8"/><rect x="280.38" y="396.20" width="0.8" height="0.8" fill="#ffffff" fill-opacity="0.8"/><rect x="285.54" y="370.75" width="0.8" height="0.8" fill="#ffffff" fill-opacity="0.8"/><rect x="273.51" y="385.72" width="0.8" height="0.8" fill="#ffffff" fill-opacity="0.8"/><rect x="272.60" y="386.43" width="0.8" height="0.8" fill="#ffffff" fill-opacity="0.8"/><rect x="284.71" y="370.14" width="0.8" height="0.8" fill="#ffffff" fill-opacity="0.8"/><rect x="276.59" y="390.91" width="0.8" height="0.8" fill="#ffffff" fill-opacity="0.8"/><rect x="293.43" y="393.50" width="0.8" height="0.8" fill="#ffffff" fill-opacity="0.8"/><rect x="288.90" y="373.72" width="0.8" height="0.8" fill="#ffffff" fill-opacity="0.8"/><rect x="285.57" y="396.70" width="0.8" height="0.8" fill="#ffffff" fill-opacity="0.8"/><rect x="294.67" y="386.12" width="0.8" height="0.8" fill="#ffffff" fill-opacity="0.8"/><rect x="276.45" y="391.30" width="0.8" height="0.8" fill="#ffffff" fill-opacity="0.8"/><rect x="289.23" y="396.35" width="0.8" height="0.8" fill="#ffffff" fill-opacity="0.8"/><rect x="274.97" y="389.85" width="0.8" height="0.8" fill="#ffffff" fill-opacity="0.8"/><rect x="278.08" y="392.71" width="0.8" height="0.8" fill="#ffffff" fill-opacity="0.8"/><rect x="290.12" y="395.18" width="0.8" height="0.8" fill="#ffffff" fill-opacity="0.8"/><rect x="277.94" y="393.95" width="0.8" height="0.8" fill="#ffffff" fill-opacity="0.8"/><rect x="292.97" y="377.11" width="0.8" height="0.8" fill="#ffffff" fill-opacity="0.8"/><rect x="281.99" y="396.74" width="0.8" height="0.8" fill="#ffffff" fill-opacity="0.8"/><rect x="292.72" y="391.15" width="0.8" height="0.8" fill="#ffffff" fill-opacity="0.8"/><rect x="288.36" y="396.01" width="0.8" height="0.8" fill="#ffffff" fill-opacity="0.8"/><rect x="279.61" y="373.07" width="0.8" height="0.8" fill="#ffffff" fill-opacity="0.8"/><rect x="292.89" y="377.31" width="0.8" height="0.8" fill="#ffffff" fill-opacity="0.8"/><rect x="285.33" y="370.77" width="0.8" height="0.8" fill="#ffffff" fill-opacity="0.8"/><rect x="287.08" y="396.56" width="0.8" height="0.8" fill="#ffffff" fill-opacity="0.8"/><rect x="285.54" y="371.12" width="0.8" height="0.8" fill="#ffffff" fill-opacity="0.8"/><rect x="291.22" y="376.86" width="0.8" height="0.8" fill="#ffffff" fill-opacity="0.8"/><rect x="283.37" y="371.33" width="0.8" height="0.8" fill="#ffffff" fill-opacity="0.8"/><rect x="273.57" y="385.60" width="0.8" height="0.8" fill="#ffffff" fill-opacity="0.8"/><rect x="280.95" y="372.29" width="0.8" height="0.8" fill="#ffffff" fill-opacity="0.8"/><path d="M293.28,384.30 L293.35,385.77 L293.43,387.29 L293.29,388.81 L292.82,390.21 L292.15,391.48 L291.38,392.67 L290.50,393.80 L289.44,394.70 L288.20,395.27 L286.91,395.61 L285.62,395.94 L284.30,396.28 L282.92,396.41 L281.59,396.04 L280.43,395.19 L279.46,394.13 L278.60,393.06 L277.83,391.98 L277.22,390.80 L276.76,389.55 L276.31,388.32 L275.75,387.11 L275.16,385.79 L274.79,384.30 L274.83,382.73 L275.19,381.19 L275.67,379.71 L276.20,378.23 L276.85,376.80 L277.71,375.58 L278.72,374.62 L279.78,373.83 L280.86,373.12 L281.98,372.62 L283.16,372.56 L284.30,372.95 L285.36,373.53 L286.37,373.98 L287.40,374.30 L288.46,374.71 L289.47,375.37 L290.41,376.26 L291.31,377.27 L292.17,378.40 L292.87,379.74 L293.23,381.26 L293.30,382.81Z" fill="#e4782a"/><rect x="278.43" y="375.96" width="0.9" height="0.9" fill="#cc5a0c"/><rect x="286.27" y="393.42" width="0.9" height="0.9" fill="#cc5a0c"/><rect x="274.82" y="383.09" width="0.9" height="0.9" fill="#cc5a0c"/><rect x="289.68" y="389.34" width="0.9" height="0.9" fill="#cc5a0c"/><rect x="287.13" y="382.86" width="0.9" height="0.9" fill="#cc5a0c"/><rect x="282.36" y="382.52" width="0.9" height="0.9" fill="#cc5a0c"/><rect x="280.57" y="384.51" width="0.9" height="0.9" fill="#cc5a0c"/><rect x="289.98" y="376.75" width="0.9" height="0.9" fill="#cc5a0c"/><rect x="284.78" y="375.19" width="0.9" height="0.9" fill="#cc5a0c"/><rect x="285.44" y="395.16" width="0.9" height="0.9" fill="#cc5a0c"/><rect x="288.38" y="390.00" width="0.9" height="0.9" fill="#cc5a0c"/><rect x="281.89" y="384.37" width="0.9" height="0.9" fill="#cc5a0c"/><rect x="286.24" y="374.62" width="0.9" height="0.9" fill="#cc5a0c"/><rect x="285.51" y="393.00" width="0.9" height="0.9" fill="#cc5a0c"/><rect x="287.27" y="374.09" width="0.9" height="0.9" fill="#cc5a0c"/><rect x="290.41" y="384.51" width="0.9" height="0.9" fill="#cc5a0c"/><rect x="282.39" y="387.86" width="0.9" height="0.9" fill="#cc5a0c"/><rect x="288.00" y="379.58" width="0.9" height="0.9" fill="#cc5a0c"/><rect x="279.63" y="382.09" width="0.9" height="0.9" fill="#cc5a0c"/><rect x="285.99" y="380.99" width="0.9" height="0.9" fill="#cc5a0c"/><rect x="281.38" y="380.52" width="0.9" height="0.9" fill="#cc5a0c"/><rect x="282.42" y="378.39" width="0.9" height="0.9" fill="#cc5a0c"/><rect x="280.29" y="378.68" width="0.9" height="0.9" fill="#cc5a0c"/><rect x="282.15" y="388.13" width="0.9" height="0.9" fill="#cc5a0c"/><rect x="289.39" y="388.74" width="0.9" height="0.9" fill="#cc5a0c"/><rect x="280.84" y="390.01" width="0.9" height="0.9" fill="#cc5a0c"/><rect x="279.05" y="386.81" width="0.9" height="0.9" fill="#cc5a0c"/><rect x="278.88" y="385.92" width="0.9" height="0.9" fill="#cc5a0c"/><rect x="290.47" y="381.99" width="0.9" height="0.9" fill="#cc5a0c"/><rect x="277.33" y="388.60" width="0.9" height="0.9" fill="#cc5a0c"/><rect x="287.97" y="379.51" width="0.9" height="0.9" fill="#cc5a0c"/><rect x="278.45" y="384.90" width="0.9" height="0.9" fill="#cc5a0c"/><rect x="290.19" y="392.37" width="0.9" height="0.9" fill="#cc5a0c"/><rect x="279.48" y="393.98" width="0.9" height="0.9" fill="#cc5a0c"/><rect x="275.51" y="381.83" width="0.9" height="0.9" fill="#cc5a0c"/><rect x="281.89" y="395.68" width="0.9" height="0.9" fill="#cc5a0c"/><rect x="279.32" y="393.08" width="0.9" height="0.9" fill="#cc5a0c"/><rect x="282.38" y="395.88" width="0.9" height="0.9" fill="#cc5a0c"/><rect x="284.03" y="375.38" width="0.9" height="0.9" fill="#cc5a0c"/><rect x="286.51" y="375.16" width="0.9" height="0.9" fill="#cc5a0c"/><rect x="283.56" y="390.34" width="0.85" height="0.85" fill="#ffffff" fill-opacity="0.8"/><rect x="285.58" y="383.60" width="0.85" height="0.85" fill="#ffffff" fill-opacity="0.8"/><rect x="278.62" y="382.49" width="0.85" height="0.85" fill="#ffffff" fill-opacity="0.8"/><rect x="290.39" y="386.14" width="0.85" height="0.85" fill="#ffffff" fill-opacity="0.8"/><rect x="282.67" y="384.23" width="0.85" height="0.85" fill="#ffffff" fill-opacity="0.8"/><rect x="279.91" y="393.81" width="0.85" height="0.85" fill="#ffffff" fill-opacity="0.8"/><rect x="277.03" y="385.89" width="0.85" height="0.85" fill="#ffffff" fill-opacity="0.8"/><rect x="286.11" y="395.23" width="0.85" height="0.85" fill="#ffffff" fill-opacity="0.8"/><rect x="281.70" y="373.32" width="0.85" height="0.85" fill="#ffffff" fill-opacity="0.8"/><rect x="288.95" y="375.97" width="0.85" height="0.85" fill="#ffffff" fill-opacity="0.8"/><rect x="286.45" y="385.26" width="0.85" height="0.85" fill="#ffffff" fill-opacity="0.8"/><rect x="280.05" y="393.78" width="0.85" height="0.85" fill="#ffffff" fill-opacity="0.8"/><rect x="284.79" y="394.15" width="0.85" height="0.85" fill="#ffffff" fill-opacity="0.8"/><rect x="274.73" y="382.75" width="0.85" height="0.85" fill="#ffffff" fill-opacity="0.8"/><rect x="291.40" y="388.00" width="0.85" height="0.85" fill="#ffffff" fill-opacity="0.8"/><rect x="284.85" y="393.10" width="0.85" height="0.85" fill="#ffffff" fill-opacity="0.8"/><rect x="281.26" y="389.57" width="0.85" height="0.85" fill="#ffffff" fill-opacity="0.8"/><rect x="286.59" y="394.79" width="0.85" height="0.85" fill="#ffffff" fill-opacity="0.8"/><rect x="280.07" y="376.76" width="0.85" height="0.85" fill="#ffffff" fill-opacity="0.8"/><rect x="277.71" y="386.29" width="0.85" height="0.85" fill="#ffffff" fill-opacity="0.8"/><rect x="276.54" y="385.79" width="0.85" height="0.85" fill="#ffffff" fill-opacity="0.8"/><rect x="279.90" y="389.85" width="0.85" height="0.85" fill="#ffffff" fill-opacity="0.8"/><rect x="288.71" y="376.52" width="0.85" height="0.85" fill="#ffffff" fill-opacity="0.8"/><rect x="288.05" y="387.63" width="0.85" height="0.85" fill="#ffffff" fill-opacity="0.8"/><rect x="288.89" y="384.60" width="0.85" height="0.85" fill="#ffffff" fill-opacity="0.8"/><rect x="288.82" y="383.52" width="0.85" height="0.85" fill="#ffffff" fill-opacity="0.8"/><rect x="284.65" y="379.78" width="0.85" height="0.85" fill="#ffffff" fill-opacity="0.8"/><rect x="287.11" y="388.72" width="0.85" height="0.85" fill="#ffffff" fill-opacity="0.8"/><rect x="286.75" y="385.76" width="0.85" height="0.85" fill="#ffffff" fill-opacity="0.8"/><rect x="278.25" y="391.79" width="0.85" height="0.85" fill="#ffffff" fill-opacity="0.8"/><rect x="280.76" y="383.77" width="0.85" height="0.85" fill="#ffffff" fill-opacity="0.8"/><rect x="281.18" y="385.96" width="0.85" height="0.85" fill="#ffffff" fill-opacity="0.8"/><rect x="282.49" y="392.23" width="0.85" height="0.85" fill="#ffffff" fill-opacity="0.8"/><rect x="286.40" y="374.00" width="0.85" height="0.85" fill="#ffffff" fill-opacity="0.8"/><rect x="292.54" y="384.40" width="0.85" height="0.85" fill="#ffffff" fill-opacity="0.8"/><rect x="282.14" y="391.05" width="0.85" height="0.85" fill="#ffffff" fill-opacity="0.8"/><rect x="280.79" y="375.44" width="0.85" height="0.85" fill="#ffffff" fill-opacity="0.8"/><rect x="290.56" y="391.80" width="0.85" height="0.85" fill="#ffffff" fill-opacity="0.8"/><rect x="279.96" y="387.41" width="0.85" height="0.85" fill="#ffffff" fill-opacity="0.8"/><rect x="282.05" y="389.15" width="0.85" height="0.85" fill="#ffffff" fill-opacity="0.8"/><rect x="284.87" y="383.26" width="0.85" height="0.85" fill="#ffffff" fill-opacity="0.8"/><rect x="285.84" y="390.53" width="0.85" height="0.85" fill="#ffffff" fill-opacity="0.8"/><rect x="282.91" y="390.49" width="0.85" height="0.85" fill="#ffffff" fill-opacity="0.8"/><rect x="284.58" y="388.76" width="0.85" height="0.85" fill="#ffffff" fill-opacity="0.8"/><rect x="282.56" y="374.29" width="0.85" height="0.85" fill="#ffffff" fill-opacity="0.8"/><rect x="282.16" y="380.22" width="0.85" height="0.85" fill="#ffffff" fill-opacity="0.8"/><rect x="292.29" y="384.49" width="0.85" height="0.85" fill="#ffffff" fill-opacity="0.8"/><rect x="279.14" y="385.21" width="0.85" height="0.85" fill="#ffffff" fill-opacity="0.8"/><rect x="280.64" y="394.96" width="0.85" height="0.85" fill="#ffffff" fill-opacity="0.8"/><rect x="278.50" y="383.11" width="0.85" height="0.85" fill="#ffffff" fill-opacity="0.8"/><rect x="283.35" y="378.01" width="0.85" height="0.85" fill="#ffffff" fill-opacity="0.8"/><rect x="281.27" y="377.88" width="0.85" height="0.85" fill="#ffffff" fill-opacity="0.8"/><rect x="279.00" y="380.50" width="0.85" height="0.85" fill="#ffffff" fill-opacity="0.8"/><rect x="279.36" y="381.72" width="0.85" height="0.85" fill="#ffffff" fill-opacity="0.8"/><rect x="277.42" y="390.62" width="0.85" height="0.85" fill="#ffffff" fill-opacity="0.8"/><rect x="277.83" y="383.39" width="0.85" height="0.85" fill="#ffffff" fill-opacity="0.8"/><rect x="279.96" y="384.60" width="0.85" height="0.85" fill="#ffffff" fill-opacity="0.8"/><rect x="289.00" y="389.43" width="0.85" height="0.85" fill="#ffffff" fill-opacity="0.8"/><rect x="289.56" y="379.44" width="0.85" height="0.85" fill="#ffffff" fill-opacity="0.8"/><rect x="290.26" y="380.45" width="0.85" height="0.85" fill="#ffffff" fill-opacity="0.8"/><rect x="291.78" y="380.47" width="0.85" height="0.85" fill="#ffffff" fill-opacity="0.8"/><rect x="277.72" y="389.67" width="0.85" height="0.85" fill="#ffffff" fill-opacity="0.8"/><rect x="291.42" y="381.05" width="0.85" height="0.85" fill="#ffffff" fill-opacity="0.8"/><rect x="280.08" y="390.29" width="0.85" height="0.85" fill="#ffffff" fill-opacity="0.8"/><rect x="279.84" y="390.04" width="0.85" height="0.85" fill="#ffffff" fill-opacity="0.8"/><rect x="291.70" y="380.04" width="0.85" height="0.85" fill="#ffffff" fill-opacity="0.8"/><rect x="281.61" y="382.41" width="0.85" height="0.85" fill="#ffffff" fill-opacity="0.8"/><rect x="277.64" y="388.19" width="0.85" height="0.85" fill="#ffffff" fill-opacity="0.8"/><rect x="289.15" y="378.20" width="0.85" height="0.85" fill="#ffffff" fill-opacity="0.8"/><rect x="286.53" y="379.68" width="0.85" height="0.85" fill="#ffffff" fill-opacity="0.8"/><rect x="289.90" y="390.02" width="0.85" height="0.85" fill="#ffffff" fill-opacity="0.8"/><rect x="280.46" y="382.74" width="0.85" height="0.85" fill="#ffffff" fill-opacity="0.8"/><rect x="290.25" y="382.89" width="0.85" height="0.85" fill="#ffffff" fill-opacity="0.8"/><rect x="282.45" y="384.43" width="0.85" height="0.85" fill="#ffffff" fill-opacity="0.8"/><rect x="288.15" y="387.55" width="0.85" height="0.85" fill="#ffffff" fill-opacity="0.8"/><rect x="286.47" y="386.38" width="0.85" height="0.85" fill="#ffffff" fill-opacity="0.8"/><rect x="278.65" y="380.26" width="0.85" height="0.85" fill="#ffffff" fill-opacity="0.8"/><rect x="290.50" y="382.62" width="0.85" height="0.85" fill="#ffffff" fill-opacity="0.8"/><rect x="280.97" y="385.31" width="0.85" height="0.85" fill="#ffffff" fill-opacity="0.8"/><rect x="290.71" y="380.56" width="0.85" height="0.85" fill="#ffffff" fill-opacity="0.8"/><rect x="288.88" y="391.36" width="0.85" height="0.85" fill="#ffffff" fill-opacity="0.8"/><rect x="280.54" y="386.64" width="0.85" height="0.85" fill="#ffffff" fill-opacity="0.8"/><rect x="277.11" y="380.05" width="0.85" height="0.85" fill="#ffffff" fill-opacity="0.8"/><rect x="277.46" y="389.25" width="0.85" height="0.85" fill="#ffffff" fill-opacity="0.8"/><rect x="283.71" y="389.26" width="0.85" height="0.85" fill="#ffffff" fill-opacity="0.8"/><rect x="287.17" y="390.86" width="0.85" height="0.85" fill="#ffffff" fill-opacity="0.8"/><rect x="286.25" y="393.03" width="0.85" height="0.85" fill="#ffffff" fill-opacity="0.8"/><rect x="286.60" y="384.15" width="0.85" height="0.85" fill="#ffffff" fill-opacity="0.8"/><rect x="285.68" y="378.93" width="0.85" height="0.85" fill="#ffffff" fill-opacity="0.8"/><rect x="289.70" y="390.06" width="0.85" height="0.85" fill="#ffffff" fill-opacity="0.8"/><rect x="282.97" y="385.43" width="0.85" height="0.85" fill="#ffffff" fill-opacity="0.8"/><rect x="290.10" y="379.55" width="0.85" height="0.85" fill="#ffffff" fill-opacity="0.8"/><rect x="277.06" y="386.61" width="0.85" height="0.85" fill="#ffffff" fill-opacity="0.8"/><rect x="280.44" y="392.84" width="0.85" height="0.85" fill="#ffffff" fill-opacity="0.8"/><rect x="286.21" y="390.13" width="0.85" height="0.85" fill="#ffffff" fill-opacity="0.8"/><rect x="277.96" y="392.00" width="0.85" height="0.85" fill="#ffffff" fill-opacity="0.8"/><rect x="281.64" y="379.98" width="0.85" height="0.85" fill="#ffffff" fill-opacity="0.8"/><rect x="285.84" y="390.67" width="0.85" height="0.85" fill="#ffffff" fill-opacity="0.8"/><rect x="291.30" y="391.09" width="0.85" height="0.85" fill="#ffffff" fill-opacity="0.8"/><rect x="284.84" y="386.69" width="0.85" height="0.85" fill="#ffffff" fill-opacity="0.8"/><rect x="276.48" y="384.11" width="0.85" height="0.85" fill="#ffffff" fill-opacity="0.8"/><rect x="281.19" y="379.51" width="0.85" height="0.85" fill="#ffffff" fill-opacity="0.8"/><rect x="285.58" y="382.29" width="0.85" height="0.85" fill="#ffffff" fill-opacity="0.8"/><rect x="286.76" y="378.57" width="0.85" height="0.85" fill="#ffffff" fill-opacity="0.8"/><rect x="279.97" y="376.16" width="0.85" height="0.85" fill="#ffffff" fill-opacity="0.8"/><rect x="287.99" y="377.04" width="0.85" height="0.85" fill="#ffffff" fill-opacity="0.8"/><rect x="280.52" y="391.15" width="0.85" height="0.85" fill="#ffffff" fill-opacity="0.8"/><rect x="279.23" y="375.15" width="0.85" height="0.85" fill="#ffffff" fill-opacity="0.8"/><rect x="285.94" y="393.80" width="0.85" height="0.85" fill="#ffffff" fill-opacity="0.8"/><rect x="281.45" y="380.25" width="0.85" height="0.85" fill="#ffffff" fill-opacity="0.8"/><rect x="278.96" y="390.32" width="0.85" height="0.85" fill="#ffffff" fill-opacity="0.8"/><rect x="282.49" y="387.76" width="0.85" height="0.85" fill="#ffffff" fill-opacity="0.8"/><rect x="291.12" y="386.67" width="0.85" height="0.85" fill="#ffffff" fill-opacity="0.8"/><rect x="282.11" y="373.50" width="0.85" height="0.85" fill="#ffffff" fill-opacity="0.8"/><rect x="291.50" y="386.08" width="0.85" height="0.85" fill="#ffffff" fill-opacity="0.8"/><rect x="278.09" y="387.39" width="0.85" height="0.85" fill="#ffffff" fill-opacity="0.8"/><rect x="281.11" y="380.87" width="0.85" height="0.85" fill="#ffffff" fill-opacity="0.8"/><rect x="282.04" y="393.67" width="0.85" height="0.85" fill="#ffffff" fill-opacity="0.8"/><rect x="288.65" y="389.91" width="0.85" height="0.85" fill="#ffffff" fill-opacity="0.8"/><rect x="278.83" y="392.26" width="0.85" height="0.85" fill="#ffffff" fill-opacity="0.8"/><rect x="292.19" y="382.36" width="0.85" height="0.85" fill="#ffffff" fill-opacity="0.8"/><rect x="285.15" y="379.78" width="0.85" height="0.85" fill="#ffffff" fill-opacity="0.8"/><rect x="277.23" y="390.89" width="0.85" height="0.85" fill="#ffffff" fill-opacity="0.8"/><rect x="285.60" y="394.22" width="0.85" height="0.85" fill="#ffffff" fill-opacity="0.8"/><rect x="280.60" y="379.25" width="0.85" height="0.85" fill="#ffffff" fill-opacity="0.8"/><rect x="278.29" y="378.50" width="0.85" height="0.85" fill="#ffffff" fill-opacity="0.8"/><rect x="288.81" y="378.01" width="0.85" height="0.85" fill="#ffffff" fill-opacity="0.8"/><rect x="290.44" y="380.01" width="0.85" height="0.85" fill="#ffffff" fill-opacity="0.8"/><rect x="282.33" y="387.52" width="0.85" height="0.85" fill="#ffffff" fill-opacity="0.8"/><rect x="290.64" y="380.37" width="0.85" height="0.85" fill="#ffffff" fill-opacity="0.8"/><rect x="286.70" y="380.79" width="0.85" height="0.85" fill="#ffffff" fill-opacity="0.8"/><rect x="277.18" y="376.57" width="0.85" height="0.85" fill="#ffffff" fill-opacity="0.8"/><rect x="285.44" y="394.21" width="0.85" height="0.85" fill="#ffffff" fill-opacity="0.8"/><rect x="286.39" y="389.61" width="0.85" height="0.85" fill="#ffffff" fill-opacity="0.8"/><rect x="288.09" y="384.15" width="0.85" height="0.85" fill="#ffffff" fill-opacity="0.8"/><rect x="284.00" y="388.90" width="0.85" height="0.85" fill="#ffffff" fill-opacity="0.8"/><rect x="282.80" y="372.98" width="0.85" height="0.85" fill="#ffffff" fill-opacity="0.8"/><rect x="282.95" y="379.95" width="0.85" height="0.85" fill="#ffffff" fill-opacity="0.8"/><rect x="281.52" y="377.11" width="0.85" height="0.85" fill="#ffffff" fill-opacity="0.8"/><rect x="279.59" y="380.53" width="0.85" height="0.85" fill="#ffffff" fill-opacity="0.8"/><rect x="288.90" y="388.16" width="0.85" height="0.85" fill="#ffffff" fill-opacity="0.8"/><rect x="277.02" y="379.06" width="0.85" height="0.85" fill="#ffffff" fill-opacity="0.8"/><rect x="289.29" y="382.08" width="0.85" height="0.85" fill="#ffffff" fill-opacity="0.8"/><rect x="285.05" y="390.17" width="0.85" height="0.85" fill="#ffffff" fill-opacity="0.8"/><rect x="279.21" y="379.35" width="0.85" height="0.85" fill="#ffffff" fill-opacity="0.8"/><rect x="274.91" y="382.97" width="0.85" height="0.85" fill="#ffffff" fill-opacity="0.8"/><rect x="280.37" y="390.05" width="0.85" height="0.85" fill="#ffffff" fill-opacity="0.8"/><rect x="280.34" y="392.77" width="0.85" height="0.85" fill="#ffffff" fill-opacity="0.8"/><rect x="290.60" y="379.05" width="0.85" height="0.85" fill="#ffffff" fill-opacity="0.8"/><rect x="282.35" y="380.67" width="0.85" height="0.85" fill="#ffffff" fill-opacity="0.8"/><path d="M332.71,396.30 L332.89,397.76 L332.93,399.26 L332.92,400.82 L332.82,402.46 L332.42,404.04 L331.59,405.29 L330.43,406.13 L329.17,406.68 L327.94,407.16 L326.72,407.57 L325.46,407.75 L324.20,407.63 L322.99,407.34 L321.81,407.02 L320.65,406.64 L319.58,405.99 L318.71,405.02 L318.00,403.90 L317.31,402.83 L316.52,401.82 L315.75,400.68 L315.23,399.34 L315.03,397.84 L315.05,396.30 L315.19,394.76 L315.50,393.24 L316.07,391.83 L316.84,390.62 L317.65,389.52 L318.36,388.37 L319.06,387.11 L319.88,385.95 L320.87,385.14 L321.97,384.70 L323.09,384.48 L324.20,384.39 L325.31,384.54 L326.37,385.06 L327.33,385.84 L328.24,386.67 L329.17,387.44 L330.09,388.30 L330.85,389.42 L331.35,390.78 L331.68,392.20 L332.00,393.56 L332.38,394.90Z" fill="#e4782a"/><rect x="328.91" y="396.77" width="0.9" height="0.9" fill="#7a72c8"/><rect x="321.97" y="398.99" width="0.9" height="0.9" fill="#7a72c8"/><rect x="329.35" y="400.17" width="0.9" height="0.9" fill="#7a72c8"/><rect x="325.65" y="404.70" width="0.9" height="0.9" fill="#7a72c8"/><rect x="327.75" y="404.78" width="0.9" height="0.9" fill="#7a72c8"/><rect x="326.21" y="401.08" width="0.9" height="0.9" fill="#7a72c8"/><rect x="321.90" y="393.92" width="0.9" height="0.9" fill="#7a72c8"/><rect x="318.29" y="391.05" width="0.9" height="0.9" fill="#7a72c8"/><rect x="327.64" y="403.42" width="0.9" height="0.9" fill="#7a72c8"/><rect x="320.29" y="385.27" width="0.9" height="0.9" fill="#7a72c8"/><rect x="322.76" y="390.20" width="0.9" height="0.9" fill="#7a72c8"/><rect x="326.37" y="398.58" width="0.9" height="0.9" fill="#7a72c8"/><rect x="322.79" y="384.73" width="0.9" height="0.9" fill="#7a72c8"/><rect x="328.89" y="390.35" width="0.9" height="0.9" fill="#7a72c8"/><rect x="324.96" y="393.80" width="0.9" height="0.9" fill="#7a72c8"/><rect x="326.96" y="390.49" width="0.9" height="0.9" fill="#7a72c8"/><rect x="328.53" y="398.08" width="0.9" height="0.9" fill="#7a72c8"/><rect x="317.53" y="400.44" width="0.9" height="0.9" fill="#7a72c8"/><rect x="325.58" y="405.54" width="0.9" height="0.9" fill="#7a72c8"/><rect x="320.40" y="398.29" width="0.9" height="0.9" fill="#7a72c8"/><rect x="325.02" y="400.37" width="0.9" height="0.9" fill="#7a72c8"/><rect x="318.76" y="398.69" width="0.9" height="0.9" fill="#7a72c8"/><rect x="324.88" y="392.59" width="0.9" height="0.9" fill="#7a72c8"/><rect x="320.71" y="405.16" width="0.9" height="0.9" fill="#7a72c8"/><rect x="321.10" y="393.37" width="0.9" height="0.9" fill="#7a72c8"/><rect x="324.59" y="394.53" width="0.9" height="0.9" fill="#7a72c8"/><rect x="321.56" y="404.16" width="0.9" height="0.9" fill="#7a72c8"/><rect x="326.39" y="385.24" width="0.9" height="0.9" fill="#7a72c8"/><rect x="318.56" y="396.31" width="0.9" height="0.9" fill="#7a72c8"/><rect x="331.62" y="399.16" width="0.9" height="0.9" fill="#7a72c8"/><rect x="321.40" y="387.53" width="0.9" height="0.9" fill="#7a72c8"/><rect x="329.62" y="401.48" width="0.9" height="0.9" fill="#7a72c8"/><rect x="330.24" y="392.64" width="0.9" height="0.9" fill="#7a72c8"/><rect x="321.27" y="404.59" width="0.9" height="0.9" fill="#7a72c8"/><rect x="322.74" y="395.54" width="0.9" height="0.9" fill="#7a72c8"/><rect x="326.36" y="401.06" width="0.9" height="0.9" fill="#cc5a0c"/><rect x="329.10" y="393.81" width="0.9" height="0.9" fill="#cc5a0c"/><rect x="321.02" y="387.25" width="0.9" height="0.9" fill="#cc5a0c"/><rect x="329.43" y="396.74" width="0.9" height="0.9" fill="#cc5a0c"/><rect x="328.57" y="405.05" width="0.9" height="0.9" fill="#cc5a0c"/><rect x="325.30" y="398.22" width="0.9" height="0.9" fill="#cc5a0c"/><rect x="320.99" y="388.96" width="0.9" height="0.9" fill="#cc5a0c"/><rect x="321.00" y="392.31" width="0.9" height="0.9" fill="#cc5a0c"/><rect x="324.32" y="391.81" width="0.9" height="0.9" fill="#cc5a0c"/><rect x="317.21" y="396.30" width="0.9" height="0.9" fill="#cc5a0c"/><rect x="324.28" y="397.51" width="0.9" height="0.9" fill="#cc5a0c"/><rect x="328.89" y="397.63" width="0.9" height="0.9" fill="#cc5a0c"/><rect x="317.42" y="401.75" width="0.9" height="0.9" fill="#cc5a0c"/><rect x="326.73" y="404.11" width="0.9" height="0.9" fill="#cc5a0c"/><rect x="315.57" y="393.32" width="0.9" height="0.9" fill="#cc5a0c"/><rect x="328.15" y="395.65" width="0.9" height="0.9" fill="#cc5a0c"/><rect x="329.01" y="393.90" width="0.9" height="0.9" fill="#cc5a0c"/><rect x="318.75" y="399.32" width="0.9" height="0.9" fill="#cc5a0c"/><rect x="330.07" y="391.61" width="0.9" height="0.9" fill="#cc5a0c"/><rect x="329.55" y="397.75" width="0.9" height="0.9" fill="#cc5a0c"/><rect x="330.45" y="392.24" width="0.9" height="0.9" fill="#cc5a0c"/><rect x="320.62" y="400.39" width="0.9" height="0.9" fill="#cc5a0c"/><rect x="330.28" y="402.00" width="0.9" height="0.9" fill="#cc5a0c"/><rect x="325.17" y="403.28" width="0.9" height="0.9" fill="#cc5a0c"/><rect x="328.98" y="400.98" width="0.9" height="0.9" fill="#cc5a0c"/><rect x="316.60" y="398.70" width="0.9" height="0.9" fill="#cc5a0c"/><rect x="324.03" y="392.29" width="0.9" height="0.9" fill="#cc5a0c"/><rect x="326.77" y="405.02" width="0.9" height="0.9" fill="#cc5a0c"/><rect x="326.29" y="402.63" width="0.9" height="0.9" fill="#cc5a0c"/><rect x="324.58" y="390.90" width="0.9" height="0.9" fill="#cc5a0c"/><rect x="329.55" y="404.98" width="0.9" height="0.9" fill="#cc5a0c"/><rect x="319.38" y="400.12" width="0.9" height="0.9" fill="#cc5a0c"/><rect x="328.41" y="388.63" width="0.9" height="0.9" fill="#cc5a0c"/><rect x="323.97" y="391.75" width="0.9" height="0.9" fill="#cc5a0c"/><rect x="319.07" y="392.57" width="0.9" height="0.9" fill="#cc5a0c"/><rect x="330.35" y="399.16" width="0.9" height="0.9" fill="#cc5a0c"/><rect x="315.61" y="399.32" width="0.9" height="0.9" fill="#cc5a0c"/><rect x="315.13" y="397.89" width="0.9" height="0.9" fill="#cc5a0c"/><rect x="324.79" y="391.54" width="0.9" height="0.9" fill="#cc5a0c"/><rect x="321.42" y="396.95" width="0.9" height="0.9" fill="#cc5a0c"/><rect x="322.22" y="394.54" width="0.85" height="0.85" fill="#ffffff" fill-opacity="0.8"/><rect x="319.25" y="400.36" width="0.85" height="0.85" fill="#ffffff" fill-opacity="0.8"/><rect x="325.84" y="401.21" width="0.85" height="0.85" fill="#ffffff" fill-opacity="0.8"/><rect x="326.21" y="385.65" width="0.85" height="0.85" fill="#ffffff" fill-opacity="0.8"/><rect x="330.65" y="404.59" width="0.85" height="0.85" fill="#ffffff" fill-opacity="0.8"/><rect x="321.24" y="385.90" width="0.85" height="0.85" fill="#ffffff" fill-opacity="0.8"/><rect x="319.48" y="401.26" width="0.85" height="0.85" fill="#ffffff" fill-opacity="0.8"/><rect x="329.61" y="392.37" width="0.85" height="0.85" fill="#ffffff" fill-opacity="0.8"/><rect x="322.14" y="400.18" width="0.85" height="0.85" fill="#ffffff" fill-opacity="0.8"/><rect x="318.20" y="396.08" width="0.85" height="0.85" fill="#ffffff" fill-opacity="0.8"/><rect x="329.08" y="403.31" width="0.85" height="0.85" fill="#ffffff" fill-opacity="0.8"/><rect x="325.54" y="385.60" width="0.85" height="0.85" fill="#ffffff" fill-opacity="0.8"/><rect x="320.74" y="388.85" width="0.85" height="0.85" fill="#ffffff" fill-opacity="0.8"/><rect x="323.88" y="395.19" width="0.85" height="0.85" fill="#ffffff" fill-opacity="0.8"/><rect x="320.09" y="389.70" width="0.85" height="0.85" fill="#ffffff" fill-opacity="0.8"/><rect x="317.58" y="394.55" width="0.85" height="0.85" fill="#ffffff" fill-opacity="0.8"/><rect x="330.57" y="390.27" width="0.85" height="0.85" fill="#ffffff" fill-opacity="0.8"/><rect x="316.18" y="398.28" width="0.85" height="0.85" fill="#ffffff" fill-opacity="0.8"/><rect x="321.99" y="391.74" width="0.85" height="0.85" fill="#ffffff" fill-opacity="0.8"/><rect x="326.26" y="406.51" width="0.85" height="0.85" fill="#ffffff" fill-opacity="0.8"/><rect x="323.98" y="399.15" width="0.85" height="0.85" fill="#ffffff" fill-opacity="0.8"/><rect x="323.80" y="399.45" width="0.85" height="0.85" fill="#ffffff" fill-opacity="0.8"/><rect x="325.20" y="386.47" width="0.85" height="0.85" fill="#ffffff" fill-opacity="0.8"/><rect x="328.08" y="402.22" width="0.85" height="0.85" fill="#ffffff" fill-opacity="0.8"/><rect x="330.64" y="391.53" width="0.85" height="0.85" fill="#ffffff" fill-opacity="0.8"/><rect x="323.14" y="399.36" width="0.85" height="0.85" fill="#ffffff" fill-opacity="0.8"/><rect x="318.96" y="391.32" width="0.85" height="0.85" fill="#ffffff" fill-opacity="0.8"/><rect x="330.95" y="401.10" width="0.85" height="0.85" fill="#ffffff" fill-opacity="0.8"/><rect x="318.84" y="395.69" width="0.85" height="0.85" fill="#ffffff" fill-opacity="0.8"/><rect x="325.47" y="394.26" width="0.85" height="0.85" fill="#ffffff" fill-opacity="0.8"/><rect x="316.34" y="394.15" width="0.85" height="0.85" fill="#ffffff" fill-opacity="0.8"/><rect x="332.23" y="399.32" width="0.85" height="0.85" fill="#ffffff" fill-opacity="0.8"/><rect x="331.75" y="399.83" width="0.85" height="0.85" fill="#ffffff" fill-opacity="0.8"/><rect x="319.72" y="399.02" width="0.85" height="0.85" fill="#ffffff" fill-opacity="0.8"/><rect x="320.28" y="403.29" width="0.85" height="0.85" fill="#ffffff" fill-opacity="0.8"/><rect x="329.97" y="390.29" width="0.85" height="0.85" fill="#ffffff" fill-opacity="0.8"/><rect x="321.14" y="394.01" width="0.85" height="0.85" fill="#ffffff" fill-opacity="0.8"/><rect x="322.96" y="389.56" width="0.85" height="0.85" fill="#ffffff" fill-opacity="0.8"/><rect x="328.56" y="402.93" width="0.85" height="0.85" fill="#ffffff" fill-opacity="0.8"/><rect x="320.28" y="393.01" width="0.85" height="0.85" fill="#ffffff" fill-opacity="0.8"/><rect x="317.43" y="389.09" width="0.85" height="0.85" fill="#ffffff" fill-opacity="0.8"/><rect x="321.18" y="400.23" width="0.85" height="0.85" fill="#ffffff" fill-opacity="0.8"/><rect x="328.99" y="394.15" width="0.85" height="0.85" fill="#ffffff" fill-opacity="0.8"/><rect x="317.15" y="397.92" width="0.85" height="0.85" fill="#ffffff" fill-opacity="0.8"/><rect x="329.14" y="398.43" width="0.85" height="0.85" fill="#ffffff" fill-opacity="0.8"/><rect x="316.02" y="392.85" width="0.85" height="0.85" fill="#ffffff" fill-opacity="0.8"/><rect x="319.47" y="398.42" width="0.85" height="0.85" fill="#ffffff" fill-opacity="0.8"/><rect x="324.40" y="387.49" width="0.85" height="0.85" fill="#ffffff" fill-opacity="0.8"/><rect x="324.82" y="404.28" width="0.85" height="0.85" fill="#ffffff" fill-opacity="0.8"/><rect x="318.30" y="393.77" width="0.85" height="0.85" fill="#ffffff" fill-opacity="0.8"/><rect x="315.77" y="395.74" width="0.85" height="0.85" fill="#ffffff" fill-opacity="0.8"/><rect x="323.76" y="399.97" width="0.85" height="0.85" fill="#ffffff" fill-opacity="0.8"/><rect x="318.40" y="390.35" width="0.85" height="0.85" fill="#ffffff" fill-opacity="0.8"/><rect x="315.51" y="395.30" width="0.85" height="0.85" fill="#ffffff" fill-opacity="0.8"/><rect x="330.20" y="402.75" width="0.85" height="0.85" fill="#ffffff" fill-opacity="0.8"/><rect x="331.01" y="396.13" width="0.85" height="0.85" fill="#ffffff" fill-opacity="0.8"/><rect x="319.79" y="393.37" width="0.85" height="0.85" fill="#ffffff" fill-opacity="0.8"/><rect x="331.06" y="392.41" width="0.85" height="0.85" fill="#ffffff" fill-opacity="0.8"/><rect x="316.84" y="392.10" width="0.85" height="0.85" fill="#ffffff" fill-opacity="0.8"/><rect x="318.88" y="403.49" width="0.85" height="0.85" fill="#ffffff" fill-opacity="0.8"/><rect x="319.33" y="403.79" width="0.85" height="0.85" fill="#ffffff" fill-opacity="0.8"/><rect x="325.79" y="384.99" width="0.85" height="0.85" fill="#ffffff" fill-opacity="0.8"/><rect x="319.16" y="391.08" width="0.85" height="0.85" fill="#ffffff" fill-opacity="0.8"/><rect x="327.49" y="400.83" width="0.85" height="0.85" fill="#ffffff" fill-opacity="0.8"/><rect x="328.23" y="389.35" width="0.85" height="0.85" fill="#ffffff" fill-opacity="0.8"/><rect x="327.34" y="400.89" width="0.85" height="0.85" fill="#ffffff" fill-opacity="0.8"/><rect x="327.66" y="389.47" width="0.85" height="0.85" fill="#ffffff" fill-opacity="0.8"/><rect x="326.45" y="400.24" width="0.85" height="0.85" fill="#ffffff" fill-opacity="0.8"/><rect x="315.65" y="391.40" width="0.85" height="0.85" fill="#ffffff" fill-opacity="0.8"/><rect x="329.94" y="401.80" width="0.85" height="0.85" fill="#ffffff" fill-opacity="0.8"/><rect x="326.96" y="402.92" width="0.85" height="0.85" fill="#ffffff" fill-opacity="0.8"/><rect x="325.00" y="403.50" width="0.85" height="0.85" fill="#ffffff" fill-opacity="0.8"/><rect x="323.30" y="387.77" width="0.85" height="0.85" fill="#ffffff" fill-opacity="0.8"/><rect x="330.76" y="397.43" width="0.85" height="0.85" fill="#ffffff" fill-opacity="0.8"/><rect x="331.80" y="398.30" width="0.85" height="0.85" fill="#ffffff" fill-opacity="0.8"/><rect x="324.86" y="392.02" width="0.85" height="0.85" fill="#ffffff" fill-opacity="0.8"/><rect x="331.56" y="395.89" width="0.85" height="0.85" fill="#ffffff" fill-opacity="0.8"/><rect x="318.87" y="391.67" width="0.85" height="0.85" fill="#ffffff" fill-opacity="0.8"/><rect x="325.91" y="397.65" width="0.85" height="0.85" fill="#ffffff" fill-opacity="0.8"/><rect x="320.08" y="401.32" width="0.85" height="0.85" fill="#ffffff" fill-opacity="0.8"/><rect x="324.26" y="405.08" width="0.85" height="0.85" fill="#ffffff" fill-opacity="0.8"/><rect x="322.94" y="390.66" width="0.85" height="0.85" fill="#ffffff" fill-opacity="0.8"/><rect x="325.57" y="388.62" width="0.85" height="0.85" fill="#ffffff" fill-opacity="0.8"/><rect x="332.14" y="396.04" width="0.85" height="0.85" fill="#ffffff" fill-opacity="0.8"/><rect x="330.64" y="395.23" width="0.85" height="0.85" fill="#ffffff" fill-opacity="0.8"/><rect x="321.10" y="386.21" width="0.85" height="0.85" fill="#ffffff" fill-opacity="0.8"/><rect x="321.55" y="389.32" width="0.85" height="0.85" fill="#ffffff" fill-opacity="0.8"/><rect x="321.91" y="395.48" width="0.85" height="0.85" fill="#ffffff" fill-opacity="0.8"/><rect x="323.32" y="391.22" width="0.85" height="0.85" fill="#ffffff" fill-opacity="0.8"/><rect x="320.22" y="401.25" width="0.85" height="0.85" fill="#ffffff" fill-opacity="0.8"/><rect x="320.99" y="390.08" width="0.85" height="0.85" fill="#ffffff" fill-opacity="0.8"/><rect x="322.09" y="405.72" width="0.85" height="0.85" fill="#ffffff" fill-opacity="0.8"/><rect x="319.83" y="402.70" width="0.85" height="0.85" fill="#ffffff" fill-opacity="0.8"/><rect x="318.13" y="389.88" width="0.85" height="0.85" fill="#ffffff" fill-opacity="0.8"/><rect x="328.10" y="404.42" width="0.85" height="0.85" fill="#ffffff" fill-opacity="0.8"/><rect x="324.98" y="387.31" width="0.85" height="0.85" fill="#ffffff" fill-opacity="0.8"/><rect x="324.23" y="393.85" width="0.85" height="0.85" fill="#ffffff" fill-opacity="0.8"/><rect x="323.78" y="390.36" width="0.85" height="0.85" fill="#ffffff" fill-opacity="0.8"/><rect x="327.39" y="401.02" width="0.85" height="0.85" fill="#ffffff" fill-opacity="0.8"/><rect x="324.54" y="387.27" width="0.85" height="0.85" fill="#ffffff" fill-opacity="0.8"/><rect x="331.29" y="400.22" width="0.85" height="0.85" fill="#ffffff" fill-opacity="0.8"/><rect x="322.64" y="403.04" width="0.85" height="0.85" fill="#ffffff" fill-opacity="0.8"/><rect x="324.63" y="406.18" width="0.85" height="0.85" fill="#ffffff" fill-opacity="0.8"/><rect x="319.50" y="400.88" width="0.85" height="0.85" fill="#ffffff" fill-opacity="0.8"/><rect x="325.41" y="397.99" width="0.85" height="0.85" fill="#ffffff" fill-opacity="0.8"/><rect x="318.55" y="386.96" width="0.85" height="0.85" fill="#ffffff" fill-opacity="0.8"/><rect x="329.82" y="404.68" width="0.85" height="0.85" fill="#ffffff" fill-opacity="0.8"/><rect x="322.46" y="389.07" width="0.85" height="0.85" fill="#ffffff" fill-opacity="0.8"/><rect x="320.54" y="402.68" width="0.85" height="0.85" fill="#ffffff" fill-opacity="0.8"/><rect x="329.54" y="401.50" width="0.85" height="0.85" fill="#ffffff" fill-opacity="0.8"/><rect x="320.69" y="387.36" width="0.85" height="0.85" fill="#ffffff" fill-opacity="0.8"/><rect x="331.89" y="397.41" width="0.85" height="0.85" fill="#ffffff" fill-opacity="0.8"/><rect x="318.62" y="401.47" width="0.85" height="0.85" fill="#ffffff" fill-opacity="0.8"/><rect x="314.78" y="395.81" width="0.85" height="0.85" fill="#ffffff" fill-opacity="0.8"/><rect x="326.39" y="391.03" width="0.85" height="0.85" fill="#ffffff" fill-opacity="0.8"/><rect x="319.70" y="391.85" width="0.85" height="0.85" fill="#ffffff" fill-opacity="0.8"/><rect x="321.38" y="406.33" width="0.85" height="0.85" fill="#ffffff" fill-opacity="0.8"/><rect x="315.57" y="397.40" width="0.85" height="0.85" fill="#ffffff" fill-opacity="0.8"/><rect x="316.95" y="398.68" width="0.85" height="0.85" fill="#ffffff" fill-opacity="0.8"/><rect x="327.11" y="406.62" width="0.85" height="0.85" fill="#ffffff" fill-opacity="0.8"/><rect x="320.67" y="393.25" width="0.85" height="0.85" fill="#ffffff" fill-opacity="0.8"/><rect x="319.12" y="389.95" width="0.85" height="0.85" fill="#ffffff" fill-opacity="0.8"/><rect x="329.54" y="397.97" width="0.85" height="0.85" fill="#ffffff" fill-opacity="0.8"/><rect x="318.46" y="390.36" width="0.85" height="0.85" fill="#ffffff" fill-opacity="0.8"/><rect x="320.00" y="394.05" width="0.85" height="0.85" fill="#ffffff" fill-opacity="0.8"/><rect x="330.00" y="397.16" width="0.85" height="0.85" fill="#ffffff" fill-opacity="0.8"/><rect x="321.38" y="396.05" width="0.85" height="0.85" fill="#ffffff" fill-opacity="0.8"/><rect x="324.92" y="399.93" width="0.85" height="0.85" fill="#ffffff" fill-opacity="0.8"/><rect x="323.97" y="401.28" width="0.85" height="0.85" fill="#ffffff" fill-opacity="0.8"/><rect x="319.82" y="392.88" width="0.85" height="0.85" fill="#ffffff" fill-opacity="0.8"/><rect x="327.57" y="400.51" width="0.85" height="0.85" fill="#ffffff" fill-opacity="0.8"/><rect x="322.49" y="391.04" width="0.85" height="0.85" fill="#ffffff" fill-opacity="0.8"/><rect x="325.95" y="397.16" width="0.85" height="0.85" fill="#ffffff" fill-opacity="0.8"/><rect x="319.48" y="391.09" width="0.85" height="0.85" fill="#ffffff" fill-opacity="0.8"/><rect x="330.42" y="403.28" width="0.85" height="0.85" fill="#ffffff" fill-opacity="0.8"/><rect x="329.86" y="402.14" width="0.85" height="0.85" fill="#ffffff" fill-opacity="0.8"/><rect x="317.32" y="397.02" width="0.85" height="0.85" fill="#ffffff" fill-opacity="0.8"/><rect x="330.24" y="394.10" width="0.85" height="0.85" fill="#ffffff" fill-opacity="0.8"/><rect x="329.24" y="400.74" width="0.85" height="0.85" fill="#ffffff" fill-opacity="0.8"/><rect x="318.13" y="392.19" width="0.85" height="0.85" fill="#ffffff" fill-opacity="0.8"/><rect x="327.82" y="401.15" width="0.85" height="0.85" fill="#ffffff" fill-opacity="0.8"/><rect x="317.96" y="394.89" width="0.85" height="0.85" fill="#ffffff" fill-opacity="0.8"/><rect x="325.54" y="400.89" width="0.85" height="0.85" fill="#ffffff" fill-opacity="0.8"/><rect x="320.89" y="386.87" width="0.85" height="0.85" fill="#ffffff" fill-opacity="0.8"/><rect x="326.28" y="385.57" width="0.85" height="0.85" fill="#ffffff" fill-opacity="0.8"/><rect x="317.78" y="395.47" width="0.85" height="0.85" fill="#ffffff" fill-opacity="0.8"/><rect x="323.31" y="386.10" width="0.85" height="0.85" fill="#ffffff" fill-opacity="0.8"/><rect x="326.96" y="387.83" width="0.85" height="0.85" fill="#ffffff" fill-opacity="0.8"/><rect x="324.18" y="405.50" width="0.85" height="0.85" fill="#ffffff" fill-opacity="0.8"/><rect x="324.46" y="388.57" width="0.85" height="0.85" fill="#ffffff" fill-opacity="0.8"/><path d="M391.73,397.40 L391.95,398.90 L391.93,400.43 L391.60,401.87 L391.07,403.21 L390.46,404.50 L389.73,405.72 L388.79,406.73 L387.65,407.44 L386.46,407.99 L385.28,408.62 L384.05,409.31 L382.70,409.80 L381.29,409.80 L379.94,409.31 L378.74,408.53 L377.65,407.64 L376.71,406.59 L376.01,405.33 L375.55,403.97 L375.14,402.67 L374.62,401.47 L374.07,400.23 L373.70,398.86 L373.68,397.40 L373.88,395.94 L374.13,394.48 L374.40,392.98 L374.79,391.47 L375.41,390.07 L376.21,388.82 L377.08,387.65 L378.02,386.53 L379.10,385.66 L380.30,385.30 L381.54,385.48 L382.70,385.92 L383.78,386.33 L384.84,386.67 L385.89,387.12 L386.88,387.78 L387.82,388.58 L388.77,389.42 L389.72,390.36 L390.53,391.54 L391.05,392.96 L391.30,394.47 L391.48,395.94Z" fill="#e4782a"/><rect x="385.28" y="388.04" width="0.9" height="0.9" fill="#7a72c8"/><rect x="377.95" y="387.74" width="0.9" height="0.9" fill="#7a72c8"/><rect x="382.48" y="399.26" width="0.9" height="0.9" fill="#7a72c8"/><rect x="382.69" y="409.17" width="0.9" height="0.9" fill="#7a72c8"/><rect x="373.90" y="396.01" width="0.9" height="0.9" fill="#7a72c8"/><rect x="382.72" y="394.16" width="0.9" height="0.9" fill="#7a72c8"/><rect x="375.97" y="396.46" width="0.9" height="0.9" fill="#7a72c8"/><rect x="384.90" y="403.06" width="0.9" height="0.9" fill="#7a72c8"/><rect x="383.37" y="399.09" width="0.9" height="0.9" fill="#7a72c8"/><rect x="378.59" y="397.88" width="0.9" height="0.9" fill="#7a72c8"/><rect x="374.85" y="395.64" width="0.9" height="0.9" fill="#7a72c8"/><rect x="384.58" y="387.43" width="0.9" height="0.9" fill="#7a72c8"/><rect x="375.81" y="404.61" width="0.9" height="0.9" fill="#7a72c8"/><rect x="385.99" y="402.75" width="0.9" height="0.9" fill="#7a72c8"/><rect x="378.98" y="390.57" width="0.9" height="0.9" fill="#7a72c8"/><rect x="376.79" y="399.60" width="0.9" height="0.9" fill="#7a72c8"/><rect x="375.46" y="392.60" width="0.9" height="0.9" fill="#7a72c8"/><rect x="379.38" y="406.77" width="0.9" height="0.9" fill="#7a72c8"/><rect x="384.23" y="404.57" width="0.9" height="0.9" fill="#7a72c8"/><rect x="383.39" y="402.35" width="0.9" height="0.9" fill="#7a72c8"/><rect x="386.75" y="402.06" width="0.9" height="0.9" fill="#7a72c8"/><rect x="390.38" y="403.12" width="0.9" height="0.9" fill="#7a72c8"/><rect x="385.42" y="405.02" width="0.9" height="0.9" fill="#7a72c8"/><rect x="380.69" y="389.52" width="0.9" height="0.9" fill="#7a72c8"/><rect x="381.13" y="396.30" width="0.9" height="0.9" fill="#7a72c8"/><rect x="383.68" y="395.31" width="0.9" height="0.9" fill="#7a72c8"/><rect x="377.20" y="388.53" width="0.9" height="0.9" fill="#7a72c8"/><rect x="384.72" y="392.46" width="0.9" height="0.9" fill="#7a72c8"/><rect x="391.26" y="399.59" width="0.9" height="0.9" fill="#7a72c8"/><rect x="374.65" y="402.05" width="0.9" height="0.9" fill="#7a72c8"/><rect x="376.64" y="392.51" width="0.9" height="0.9" fill="#7a72c8"/><rect x="379.35" y="403.64" width="0.9" height="0.9" fill="#7a72c8"/><rect x="388.36" y="395.27" width="0.9" height="0.9" fill="#7a72c8"/><rect x="377.96" y="390.58" width="0.9" height="0.9" fill="#7a72c8"/><rect x="379.54" y="402.40" width="0.9" height="0.9" fill="#7a72c8"/><rect x="386.90" y="407.06" width="0.9" height="0.9" fill="#7a72c8"/><rect x="380.74" y="393.20" width="0.9" height="0.9" fill="#7a72c8"/><rect x="385.49" y="391.10" width="0.9" height="0.9" fill="#7a72c8"/><rect x="391.09" y="399.51" width="0.9" height="0.9" fill="#7a72c8"/><rect x="377.61" y="399.15" width="0.9" height="0.9" fill="#7a72c8"/><rect x="381.38" y="404.59" width="0.9" height="0.9" fill="#7a72c8"/><rect x="377.24" y="391.46" width="0.9" height="0.9" fill="#7a72c8"/><rect x="382.46" y="401.72" width="0.9" height="0.9" fill="#7a72c8"/><rect x="375.30" y="397.34" width="0.9" height="0.9" fill="#7a72c8"/><rect x="377.79" y="403.68" width="0.9" height="0.9" fill="#7a72c8"/><rect x="377.60" y="386.71" width="0.9" height="0.9" fill="#7a72c8"/><rect x="387.81" y="401.16" width="0.9" height="0.9" fill="#7a72c8"/><rect x="384.42" y="390.36" width="0.9" height="0.9" fill="#7a72c8"/><rect x="380.52" y="407.80" width="0.9" height="0.9" fill="#7a72c8"/><rect x="380.95" y="401.74" width="0.9" height="0.9" fill="#7a72c8"/><rect x="382.76" y="400.22" width="0.9" height="0.9" fill="#7a72c8"/><rect x="377.29" y="396.31" width="0.9" height="0.9" fill="#7a72c8"/><rect x="386.59" y="403.41" width="0.9" height="0.9" fill="#7a72c8"/><rect x="379.07" y="408.47" width="0.9" height="0.9" fill="#7a72c8"/><rect x="388.60" y="389.48" width="0.9" height="0.9" fill="#7a72c8"/><rect x="380.72" y="385.74" width="0.9" height="0.9" fill="#7a72c8"/><rect x="378.46" y="392.11" width="0.9" height="0.9" fill="#7a72c8"/><rect x="386.49" y="399.37" width="0.9" height="0.9" fill="#7a72c8"/><rect x="373.24" y="396.89" width="0.9" height="0.9" fill="#7a72c8"/><rect x="380.31" y="401.38" width="0.9" height="0.9" fill="#7a72c8"/><rect x="389.77" y="393.38" width="0.9" height="0.9" fill="#7a72c8"/><rect x="379.31" y="399.98" width="0.9" height="0.9" fill="#7a72c8"/><rect x="387.03" y="404.15" width="0.9" height="0.9" fill="#7a72c8"/><rect x="378.43" y="400.67" width="0.9" height="0.9" fill="#7a72c8"/><rect x="376.69" y="387.19" width="0.9" height="0.9" fill="#7a72c8"/><rect x="382.43" y="394.77" width="0.9" height="0.9" fill="#7a72c8"/><rect x="383.99" y="398.98" width="0.9" height="0.9" fill="#7a72c8"/><rect x="378.48" y="388.26" width="0.9" height="0.9" fill="#7a72c8"/><rect x="374.98" y="396.54" width="0.9" height="0.9" fill="#7a72c8"/><rect x="385.11" y="394.26" width="0.9" height="0.9" fill="#7a72c8"/><rect x="383.29" y="407.12" width="0.9" height="0.9" fill="#7a72c8"/><rect x="381.27" y="401.01" width="0.9" height="0.9" fill="#7a72c8"/><rect x="377.94" y="406.76" width="0.9" height="0.9" fill="#7a72c8"/><rect x="375.89" y="402.92" width="0.9" height="0.9" fill="#7a72c8"/><rect x="384.27" y="392.33" width="0.9" height="0.9" fill="#7a72c8"/><rect x="381.54" y="399.13" width="0.9" height="0.9" fill="#7a72c8"/><rect x="380.62" y="393.56" width="0.9" height="0.9" fill="#7a72c8"/><rect x="375.78" y="389.45" width="0.9" height="0.9" fill="#7a72c8"/><rect x="380.56" y="389.92" width="0.9" height="0.9" fill="#7a72c8"/><rect x="384.14" y="398.22" width="0.9" height="0.9" fill="#7a72c8"/><rect x="385.17" y="393.73" width="0.9" height="0.9" fill="#7a72c8"/><rect x="381.87" y="385.96" width="0.9" height="0.9" fill="#7a72c8"/><rect x="378.11" y="388.36" width="0.9" height="0.9" fill="#7a72c8"/><rect x="377.63" y="392.39" width="0.9" height="0.9" fill="#7a72c8"/><rect x="381.44" y="409.21" width="0.9" height="0.9" fill="#7a72c8"/><rect x="376.68" y="403.49" width="0.9" height="0.9" fill="#7a72c8"/><rect x="383.36" y="406.67" width="0.9" height="0.9" fill="#7a72c8"/><rect x="389.48" y="397.44" width="0.9" height="0.9" fill="#7a72c8"/><rect x="376.89" y="400.98" width="0.9" height="0.9" fill="#7a72c8"/><rect x="388.20" y="401.35" width="0.9" height="0.9" fill="#7a72c8"/><rect x="380.93" y="402.82" width="0.9" height="0.9" fill="#7a72c8"/><rect x="380.69" y="395.10" width="0.9" height="0.9" fill="#7a72c8"/><rect x="389.92" y="399.98" width="0.9" height="0.9" fill="#7a72c8"/><rect x="382.35" y="405.56" width="0.9" height="0.9" fill="#7a72c8"/><rect x="382.52" y="397.85" width="0.9" height="0.9" fill="#7a72c8"/><rect x="381.77" y="397.09" width="0.9" height="0.9" fill="#7a72c8"/><rect x="379.55" y="396.11" width="0.9" height="0.9" fill="#7a72c8"/><rect x="378.97" y="400.40" width="0.9" height="0.9" fill="#7a72c8"/><rect x="379.98" y="399.17" width="0.9" height="0.9" fill="#7a72c8"/><rect x="382.99" y="408.20" width="0.9" height="0.9" fill="#7a72c8"/><rect x="380.87" y="400.47" width="0.9" height="0.9" fill="#cc5a0c"/><rect x="374.72" y="395.59" width="0.9" height="0.9" fill="#cc5a0c"/><rect x="388.35" y="389.48" width="0.9" height="0.9" fill="#cc5a0c"/><rect x="386.96" y="391.68" width="0.9" height="0.9" fill="#cc5a0c"/><rect x="374.28" y="401.23" width="0.9" height="0.9" fill="#cc5a0c"/><rect x="379.48" y="404.83" width="0.9" height="0.9" fill="#cc5a0c"/><rect x="378.90" y="396.86" width="0.9" height="0.9" fill="#cc5a0c"/><rect x="383.75" y="397.30" width="0.9" height="0.9" fill="#cc5a0c"/><rect x="388.96" y="392.69" width="0.9" height="0.9" fill="#cc5a0c"/><rect x="386.05" y="389.26" width="0.9" height="0.9" fill="#cc5a0c"/><rect x="377.90" y="397.63" width="0.9" height="0.9" fill="#cc5a0c"/><rect x="380.90" y="386.07" width="0.9" height="0.9" fill="#cc5a0c"/><rect x="381.03" y="393.14" width="0.9" height="0.9" fill="#cc5a0c"/><rect x="381.25" y="396.55" width="0.9" height="0.9" fill="#cc5a0c"/><rect x="390.34" y="396.04" width="0.9" height="0.9" fill="#cc5a0c"/><rect x="383.57" y="389.88" width="0.9" height="0.9" fill="#cc5a0c"/><rect x="384.42" y="403.33" width="0.9" height="0.9" fill="#cc5a0c"/><rect x="383.80" y="386.60" width="0.9" height="0.9" fill="#cc5a0c"/><rect x="383.37" y="389.25" width="0.9" height="0.9" fill="#cc5a0c"/><rect x="376.46" y="405.52" width="0.9" height="0.9" fill="#cc5a0c"/><rect x="378.86" y="388.83" width="0.9" height="0.9" fill="#cc5a0c"/><rect x="376.24" y="388.63" width="0.9" height="0.9" fill="#cc5a0c"/><rect x="384.29" y="407.75" width="0.9" height="0.9" fill="#cc5a0c"/><rect x="378.27" y="387.19" width="0.9" height="0.9" fill="#cc5a0c"/><rect x="387.03" y="398.03" width="0.9" height="0.9" fill="#cc5a0c"/><rect x="378.56" y="396.49" width="0.9" height="0.9" fill="#cc5a0c"/><rect x="377.16" y="404.09" width="0.9" height="0.9" fill="#cc5a0c"/><rect x="375.12" y="397.32" width="0.9" height="0.9" fill="#cc5a0c"/><rect x="386.91" y="397.02" width="0.9" height="0.9" fill="#cc5a0c"/><rect x="379.74" y="405.50" width="0.9" height="0.9" fill="#cc5a0c"/><rect x="376.36" y="397.01" width="0.9" height="0.9" fill="#cc5a0c"/><rect x="384.38" y="397.00" width="0.9" height="0.9" fill="#cc5a0c"/><rect x="383.31" y="393.60" width="0.9" height="0.9" fill="#cc5a0c"/><rect x="387.37" y="394.95" width="0.9" height="0.9" fill="#cc5a0c"/><rect x="387.77" y="406.52" width="0.9" height="0.9" fill="#cc5a0c"/><rect x="381.16" y="392.76" width="0.9" height="0.9" fill="#cc5a0c"/><rect x="376.52" y="394.84" width="0.9" height="0.9" fill="#cc5a0c"/><rect x="380.47" y="391.22" width="0.9" height="0.9" fill="#cc5a0c"/><rect x="376.61" y="390.16" width="0.9" height="0.9" fill="#cc5a0c"/><rect x="374.22" y="395.98" width="0.9" height="0.9" fill="#cc5a0c"/><rect x="379.86" y="393.96" width="0.85" height="0.85" fill="#ffffff" fill-opacity="0.8"/><rect x="389.65" y="400.47" width="0.85" height="0.85" fill="#ffffff" fill-opacity="0.8"/><rect x="386.13" y="388.05" width="0.85" height="0.85" fill="#ffffff" fill-opacity="0.8"/><rect x="381.85" y="391.58" width="0.85" height="0.85" fill="#ffffff" fill-opacity="0.8"/><rect x="387.78" y="396.80" width="0.85" height="0.85" fill="#ffffff" fill-opacity="0.8"/><rect x="377.92" y="403.81" width="0.85" height="0.85" fill="#ffffff" fill-opacity="0.8"/><rect x="378.69" y="396.78" width="0.85" height="0.85" fill="#ffffff" fill-opacity="0.8"/><rect x="381.74" y="407.99" width="0.85" height="0.85" fill="#ffffff" fill-opacity="0.8"/><rect x="379.82" y="389.93" width="0.85" height="0.85" fill="#ffffff" fill-opacity="0.8"/><rect x="380.71" y="395.16" width="0.85" height="0.85" fill="#ffffff" fill-opacity="0.8"/><rect x="376.69" y="390.19" width="0.85" height="0.85" fill="#ffffff" fill-opacity="0.8"/><rect x="380.95" y="399.64" width="0.85" height="0.85" fill="#ffffff" fill-opacity="0.8"/><rect x="389.68" y="398.47" width="0.85" height="0.85" fill="#ffffff" fill-opacity="0.8"/><rect x="386.06" y="398.58" width="0.85" height="0.85" fill="#ffffff" fill-opacity="0.8"/><rect x="383.96" y="388.30" width="0.85" height="0.85" fill="#ffffff" fill-opacity="0.8"/><rect x="374.12" y="397.95" width="0.85" height="0.85" fill="#ffffff" fill-opacity="0.8"/><rect x="387.76" y="389.88" width="0.85" height="0.85" fill="#ffffff" fill-opacity="0.8"/><rect x="380.98" y="385.34" width="0.85" height="0.85" fill="#ffffff" fill-opacity="0.8"/><rect x="391.21" y="398.85" width="0.85" height="0.85" fill="#ffffff" fill-opacity="0.8"/><rect x="387.81" y="389.61" width="0.85" height="0.85" fill="#ffffff" fill-opacity="0.8"/><rect x="379.72" y="403.85" width="0.85" height="0.85" fill="#ffffff" fill-opacity="0.8"/><rect x="391.15" y="396.82" width="0.85" height="0.85" fill="#ffffff" fill-opacity="0.8"/><rect x="385.35" y="407.31" width="0.85" height="0.85" fill="#ffffff" fill-opacity="0.8"/><rect x="378.74" y="387.09" width="0.85" height="0.85" fill="#ffffff" fill-opacity="0.8"/><rect x="386.91" y="398.81" width="0.85" height="0.85" fill="#ffffff" fill-opacity="0.8"/><rect x="381.60" y="403.56" width="0.85" height="0.85" fill="#ffffff" fill-opacity="0.8"/><rect x="378.95" y="387.51" width="0.85" height="0.85" fill="#ffffff" fill-opacity="0.8"/><rect x="386.36" y="394.16" width="0.85" height="0.85" fill="#ffffff" fill-opacity="0.8"/><rect x="374.20" y="395.88" width="0.85" height="0.85" fill="#ffffff" fill-opacity="0.8"/><rect x="384.25" y="407.81" width="0.85" height="0.85" fill="#ffffff" fill-opacity="0.8"/><rect x="382.44" y="404.29" width="0.85" height="0.85" fill="#ffffff" fill-opacity="0.8"/><rect x="380.61" y="393.49" width="0.85" height="0.85" fill="#ffffff" fill-opacity="0.8"/><rect x="385.13" y="403.98" width="0.85" height="0.85" fill="#ffffff" fill-opacity="0.8"/><rect x="384.21" y="403.57" width="0.85" height="0.85" fill="#ffffff" fill-opacity="0.8"/><rect x="380.73" y="398.57" width="0.85" height="0.85" fill="#ffffff" fill-opacity="0.8"/><rect x="383.38" y="398.70" width="0.85" height="0.85" fill="#ffffff" fill-opacity="0.8"/><rect x="379.03" y="393.33" width="0.85" height="0.85" fill="#ffffff" fill-opacity="0.8"/><rect x="385.40" y="390.95" width="0.85" height="0.85" fill="#ffffff" fill-opacity="0.8"/><rect x="388.87" y="404.91" width="0.85" height="0.85" fill="#ffffff" fill-opacity="0.8"/><rect x="388.22" y="399.05" width="0.85" height="0.85" fill="#ffffff" fill-opacity="0.8"/><rect x="382.87" y="402.64" width="0.85" height="0.85" fill="#ffffff" fill-opacity="0.8"/><rect x="385.25" y="397.97" width="0.85" height="0.85" fill="#ffffff" fill-opacity="0.8"/><rect x="387.81" y="404.12" width="0.85" height="0.85" fill="#ffffff" fill-opacity="0.8"/><rect x="384.79" y="389.81" width="0.85" height="0.85" fill="#ffffff" fill-opacity="0.8"/><rect x="375.59" y="391.78" width="0.85" height="0.85" fill="#ffffff" fill-opacity="0.8"/><rect x="389.02" y="393.49" width="0.85" height="0.85" fill="#ffffff" fill-opacity="0.8"/><rect x="380.32" y="400.05" width="0.85" height="0.85" fill="#ffffff" fill-opacity="0.8"/><rect x="375.05" y="397.31" width="0.85" height="0.85" fill="#ffffff" fill-opacity="0.8"/><rect x="384.57" y="399.52" width="0.85" height="0.85" fill="#ffffff" fill-opacity="0.8"/><rect x="374.33" y="397.13" width="0.85" height="0.85" fill="#ffffff" fill-opacity="0.8"/><rect x="390.43" y="392.20" width="0.85" height="0.85" fill="#ffffff" fill-opacity="0.8"/><rect x="382.11" y="394.05" width="0.85" height="0.85" fill="#ffffff" fill-opacity="0.8"/><rect x="385.01" y="404.17" width="0.85" height="0.85" fill="#ffffff" fill-opacity="0.8"/><rect x="375.66" y="394.95" width="0.85" height="0.85" fill="#ffffff" fill-opacity="0.8"/><rect x="387.46" y="397.20" width="0.85" height="0.85" fill="#ffffff" fill-opacity="0.8"/><rect x="379.74" y="389.62" width="0.85" height="0.85" fill="#ffffff" fill-opacity="0.8"/><rect x="375.73" y="392.39" width="0.85" height="0.85" fill="#ffffff" fill-opacity="0.8"/><rect x="383.45" y="390.01" width="0.85" height="0.85" fill="#ffffff" fill-opacity="0.8"/><rect x="378.00" y="401.41" width="0.85" height="0.85" fill="#ffffff" fill-opacity="0.8"/><rect x="378.79" y="403.11" width="0.85" height="0.85" fill="#ffffff" fill-opacity="0.8"/><rect x="388.88" y="403.03" width="0.85" height="0.85" fill="#ffffff" fill-opacity="0.8"/><rect x="375.77" y="401.28" width="0.85" height="0.85" fill="#ffffff" fill-opacity="0.8"/><rect x="383.85" y="386.08" width="0.85" height="0.85" fill="#ffffff" fill-opacity="0.8"/><rect x="387.62" y="397.26" width="0.85" height="0.85" fill="#ffffff" fill-opacity="0.8"/><rect x="379.66" y="397.98" width="0.85" height="0.85" fill="#ffffff" fill-opacity="0.8"/><rect x="376.83" y="403.03" width="0.85" height="0.85" fill="#ffffff" fill-opacity="0.8"/><rect x="387.51" y="389.39" width="0.85" height="0.85" fill="#ffffff" fill-opacity="0.8"/><rect x="380.52" y="390.88" width="0.85" height="0.85" fill="#ffffff" fill-opacity="0.8"/><rect x="382.76" y="396.91" width="0.85" height="0.85" fill="#ffffff" fill-opacity="0.8"/><rect x="379.03" y="392.35" width="0.85" height="0.85" fill="#ffffff" fill-opacity="0.8"/><rect x="374.42" y="398.06" width="0.85" height="0.85" fill="#ffffff" fill-opacity="0.8"/><rect x="380.63" y="399.10" width="0.85" height="0.85" fill="#ffffff" fill-opacity="0.8"/><rect x="382.80" y="403.47" width="0.85" height="0.85" fill="#ffffff" fill-opacity="0.8"/><rect x="389.23" y="393.19" width="0.85" height="0.85" fill="#ffffff" fill-opacity="0.8"/><rect x="381.82" y="395.47" width="0.85" height="0.85" fill="#ffffff" fill-opacity="0.8"/><rect x="384.99" y="397.58" width="0.85" height="0.85" fill="#ffffff" fill-opacity="0.8"/><rect x="378.95" y="398.69" width="0.85" height="0.85" fill="#ffffff" fill-opacity="0.8"/><rect x="378.67" y="404.74" width="0.85" height="0.85" fill="#ffffff" fill-opacity="0.8"/><rect x="386.68" y="406.75" width="0.85" height="0.85" fill="#ffffff" fill-opacity="0.8"/><rect x="375.55" y="402.15" width="0.85" height="0.85" fill="#ffffff" fill-opacity="0.8"/><rect x="379.62" y="385.76" width="0.85" height="0.85" fill="#ffffff" fill-opacity="0.8"/><rect x="384.40" y="395.65" width="0.85" height="0.85" fill="#ffffff" fill-opacity="0.8"/><rect x="381.11" y="388.49" width="0.85" height="0.85" fill="#ffffff" fill-opacity="0.8"/><rect x="379.88" y="403.72" width="0.85" height="0.85" fill="#ffffff" fill-opacity="0.8"/><rect x="377.51" y="389.29" width="0.85" height="0.85" fill="#ffffff" fill-opacity="0.8"/><rect x="381.76" y="387.74" width="0.85" height="0.85" fill="#ffffff" fill-opacity="0.8"/><rect x="384.63" y="408.06" width="0.85" height="0.85" fill="#ffffff" fill-opacity="0.8"/><rect x="376.70" y="405.19" width="0.85" height="0.85" fill="#ffffff" fill-opacity="0.8"/><rect x="389.99" y="396.90" width="0.85" height="0.85" fill="#ffffff" fill-opacity="0.8"/><rect x="383.33" y="399.12" width="0.85" height="0.85" fill="#ffffff" fill-opacity="0.8"/><rect x="387.90" y="402.47" width="0.85" height="0.85" fill="#ffffff" fill-opacity="0.8"/><rect x="376.31" y="393.61" width="0.85" height="0.85" fill="#ffffff" fill-opacity="0.8"/><rect x="379.12" y="387.70" width="0.85" height="0.85" fill="#ffffff" fill-opacity="0.8"/><rect x="379.91" y="387.91" width="0.85" height="0.85" fill="#ffffff" fill-opacity="0.8"/><rect x="378.45" y="388.02" width="0.85" height="0.85" fill="#ffffff" fill-opacity="0.8"/><rect x="379.49" y="402.60" width="0.85" height="0.85" fill="#ffffff" fill-opacity="0.8"/><rect x="380.04" y="396.19" width="0.85" height="0.85" fill="#ffffff" fill-opacity="0.8"/><rect x="376.77" y="394.30" width="0.85" height="0.85" fill="#ffffff" fill-opacity="0.8"/><rect x="389.25" y="398.37" width="0.85" height="0.85" fill="#ffffff" fill-opacity="0.8"/><rect x="382.24" y="395.62" width="0.85" height="0.85" fill="#ffffff" fill-opacity="0.8"/><rect x="376.94" y="390.28" width="0.85" height="0.85" fill="#ffffff" fill-opacity="0.8"/><rect x="382.77" y="390.54" width="0.85" height="0.85" fill="#ffffff" fill-opacity="0.8"/><rect x="385.27" y="387.03" width="0.85" height="0.85" fill="#ffffff" fill-opacity="0.8"/><rect x="378.98" y="401.56" width="0.85" height="0.85" fill="#ffffff" fill-opacity="0.8"/><rect x="385.97" y="395.31" width="0.85" height="0.85" fill="#ffffff" fill-opacity="0.8"/><rect x="388.73" y="390.67" width="0.85" height="0.85" fill="#ffffff" fill-opacity="0.8"/><rect x="383.26" y="400.94" width="0.85" height="0.85" fill="#ffffff" fill-opacity="0.8"/><rect x="384.74" y="389.33" width="0.85" height="0.85" fill="#ffffff" fill-opacity="0.8"/><rect x="386.90" y="390.41" width="0.85" height="0.85" fill="#ffffff" fill-opacity="0.8"/><rect x="381.86" y="403.10" width="0.85" height="0.85" fill="#ffffff" fill-opacity="0.8"/><rect x="382.24" y="406.20" width="0.85" height="0.85" fill="#ffffff" fill-opacity="0.8"/><rect x="387.72" y="402.18" width="0.85" height="0.85" fill="#ffffff" fill-opacity="0.8"/><rect x="375.59" y="403.40" width="0.85" height="0.85" fill="#ffffff" fill-opacity="0.8"/><rect x="382.40" y="398.25" width="0.85" height="0.85" fill="#ffffff" fill-opacity="0.8"/><rect x="379.70" y="402.90" width="0.85" height="0.85" fill="#ffffff" fill-opacity="0.8"/><rect x="384.49" y="401.38" width="0.85" height="0.85" fill="#ffffff" fill-opacity="0.8"/><rect x="381.47" y="388.65" width="0.85" height="0.85" fill="#ffffff" fill-opacity="0.8"/><rect x="380.78" y="385.34" width="0.85" height="0.85" fill="#ffffff" fill-opacity="0.8"/><rect x="381.40" y="385.24" width="0.85" height="0.85" fill="#ffffff" fill-opacity="0.8"/><rect x="377.09" y="398.71" width="0.85" height="0.85" fill="#ffffff" fill-opacity="0.8"/><rect x="382.16" y="401.64" width="0.85" height="0.85" fill="#ffffff" fill-opacity="0.8"/><rect x="379.93" y="391.83" width="0.85" height="0.85" fill="#ffffff" fill-opacity="0.8"/><rect x="386.58" y="396.32" width="0.85" height="0.85" fill="#ffffff" fill-opacity="0.8"/><rect x="389.21" y="397.68" width="0.85" height="0.85" fill="#ffffff" fill-opacity="0.8"/><rect x="386.90" y="389.41" width="0.85" height="0.85" fill="#ffffff" fill-opacity="0.8"/><rect x="377.66" y="404.32" width="0.85" height="0.85" fill="#ffffff" fill-opacity="0.8"/><rect x="378.89" y="408.44" width="0.85" height="0.85" fill="#ffffff" fill-opacity="0.8"/><rect x="377.89" y="397.85" width="0.85" height="0.85" fill="#ffffff" fill-opacity="0.8"/><rect x="386.86" y="395.89" width="0.85" height="0.85" fill="#ffffff" fill-opacity="0.8"/><rect x="386.28" y="404.75" width="0.85" height="0.85" fill="#ffffff" fill-opacity="0.8"/><rect x="383.07" y="389.86" width="0.85" height="0.85" fill="#ffffff" fill-opacity="0.8"/><rect x="377.13" y="401.94" width="0.85" height="0.85" fill="#ffffff" fill-opacity="0.8"/><rect x="378.28" y="401.14" width="0.85" height="0.85" fill="#ffffff" fill-opacity="0.8"/><rect x="381.69" y="396.76" width="0.85" height="0.85" fill="#ffffff" fill-opacity="0.8"/><rect x="386.83" y="388.29" width="0.85" height="0.85" fill="#ffffff" fill-opacity="0.8"/><rect x="388.59" y="398.19" width="0.85" height="0.85" fill="#ffffff" fill-opacity="0.8"/><rect x="381.41" y="401.46" width="0.85" height="0.85" fill="#ffffff" fill-opacity="0.8"/><rect x="374.25" y="393.95" width="0.85" height="0.85" fill="#ffffff" fill-opacity="0.8"/><rect x="382.36" y="389.60" width="0.85" height="0.85" fill="#ffffff" fill-opacity="0.8"/><rect x="376.52" y="388.12" width="0.85" height="0.85" fill="#ffffff" fill-opacity="0.8"/><rect x="376.50" y="393.28" width="0.85" height="0.85" fill="#ffffff" fill-opacity="0.8"/><rect x="381.71" y="392.08" width="0.85" height="0.85" fill="#ffffff" fill-opacity="0.8"/><rect x="380.42" y="397.14" width="0.85" height="0.85" fill="#ffffff" fill-opacity="0.8"/><rect x="388.57" y="397.97" width="0.85" height="0.85" fill="#ffffff" fill-opacity="0.8"/><rect x="387.35" y="403.45" width="0.85" height="0.85" fill="#ffffff" fill-opacity="0.8"/><rect x="381.10" y="391.56" width="0.85" height="0.85" fill="#ffffff" fill-opacity="0.8"/><rect x="382.29" y="408.06" width="0.85" height="0.85" fill="#ffffff" fill-opacity="0.8"/><rect x="381.44" y="401.10" width="0.85" height="0.85" fill="#ffffff" fill-opacity="0.8"/><rect x="379.20" y="393.50" width="0.85" height="0.85" fill="#ffffff" fill-opacity="0.8"/><rect x="380.75" y="386.67" width="0.85" height="0.85" fill="#ffffff" fill-opacity="0.8"/><path d="M449.27,397.40 L449.64,398.87 L449.72,400.38 L449.43,401.82 L448.91,403.13 L448.32,404.39 L447.65,405.62 L446.82,406.70 L445.79,407.53 L444.66,408.16 L443.51,408.74 L442.29,409.25 L441.00,409.47 L439.71,409.20 L438.54,408.55 L437.46,407.82 L436.39,407.17 L435.31,406.51 L434.33,405.64 L433.54,404.52 L432.91,403.26 L432.37,401.92 L432.01,400.47 L431.98,398.93 L432.32,397.40 L432.85,395.99 L433.31,394.67 L433.66,393.33 L434.02,391.96 L434.56,390.67 L435.26,389.52 L436.03,388.45 L436.85,387.38 L437.77,386.45 L438.80,385.85 L439.90,385.61 L441.00,385.54 L442.11,385.44 L443.27,385.44 L444.41,385.80 L445.42,386.67 L446.26,387.89 L446.96,389.21 L447.57,390.52 L448.07,391.89 L448.39,393.30 L448.60,394.70 L448.87,396.04Z" fill="#e4782a"/><rect x="440.31" y="396.83" width="0.9" height="0.9" fill="#7a72c8"/><rect x="446.20" y="393.10" width="0.9" height="0.9" fill="#7a72c8"/><rect x="440.40" y="397.02" width="0.9" height="0.9" fill="#7a72c8"/><rect x="442.64" y="393.13" width="0.9" height="0.9" fill="#7a72c8"/><rect x="440.40" y="397.63" width="0.9" height="0.9" fill="#7a72c8"/><rect x="437.07" y="394.10" width="0.9" height="0.9" fill="#7a72c8"/><rect x="437.14" y="396.99" width="0.9" height="0.9" fill="#7a72c8"/><rect x="433.70" y="399.72" width="0.9" height="0.9" fill="#7a72c8"/><rect x="441.36" y="386.34" width="0.9" height="0.9" fill="#7a72c8"/><rect x="445.20" y="395.07" width="0.9" height="0.9" fill="#7a72c8"/><rect x="440.59" y="401.24" width="0.9" height="0.9" fill="#7a72c8"/><rect x="437.59" y="407.46" width="0.9" height="0.9" fill="#7a72c8"/><rect x="445.06" y="404.32" width="0.9" height="0.9" fill="#7a72c8"/><rect x="439.76" y="392.34" width="0.9" height="0.9" fill="#7a72c8"/><rect x="448.91" y="401.28" width="0.9" height="0.9" fill="#7a72c8"/><rect x="438.18" y="395.02" width="0.9" height="0.9" fill="#7a72c8"/><rect x="438.38" y="404.99" width="0.9" height="0.9" fill="#7a72c8"/><rect x="441.42" y="399.72" width="0.9" height="0.9" fill="#7a72c8"/><rect x="442.46" y="407.33" width="0.9" height="0.9" fill="#7a72c8"/><rect x="446.44" y="401.58" width="0.9" height="0.9" fill="#7a72c8"/><rect x="443.67" y="389.59" width="0.9" height="0.9" fill="#7a72c8"/><rect x="440.23" y="399.26" width="0.9" height="0.9" fill="#7a72c8"/><rect x="446.95" y="401.06" width="0.9" height="0.9" fill="#7a72c8"/><rect x="434.93" y="404.91" width="0.9" height="0.9" fill="#7a72c8"/><rect x="447.01" y="400.44" width="0.9" height="0.9" fill="#7a72c8"/><rect x="433.33" y="403.09" width="0.9" height="0.9" fill="#7a72c8"/><rect x="445.41" y="405.41" width="0.9" height="0.9" fill="#7a72c8"/><rect x="436.34" y="400.10" width="0.9" height="0.9" fill="#7a72c8"/><rect x="442.47" y="404.49" width="0.9" height="0.9" fill="#7a72c8"/><rect x="442.58" y="404.45" width="0.9" height="0.9" fill="#7a72c8"/><rect x="434.75" y="394.82" width="0.9" height="0.9" fill="#7a72c8"/><rect x="437.35" y="404.87" width="0.9" height="0.9" fill="#7a72c8"/><rect x="437.62" y="395.20" width="0.9" height="0.9" fill="#7a72c8"/><rect x="445.46" y="399.10" width="0.9" height="0.9" fill="#7a72c8"/><rect x="447.19" y="404.65" width="0.9" height="0.9" fill="#7a72c8"/><rect x="434.19" y="390.90" width="0.9" height="0.9" fill="#7a72c8"/><rect x="447.56" y="395.09" width="0.9" height="0.9" fill="#7a72c8"/><rect x="434.22" y="396.41" width="0.9" height="0.9" fill="#7a72c8"/><rect x="444.08" y="390.96" width="0.9" height="0.9" fill="#7a72c8"/><rect x="447.57" y="393.33" width="0.9" height="0.9" fill="#7a72c8"/><rect x="438.29" y="387.01" width="0.9" height="0.9" fill="#7a72c8"/><rect x="449.07" y="400.55" width="0.9" height="0.9" fill="#7a72c8"/><rect x="443.94" y="394.85" width="0.9" height="0.9" fill="#7a72c8"/><rect x="436.42" y="405.94" width="0.9" height="0.9" fill="#7a72c8"/><rect x="432.30" y="397.07" width="0.9" height="0.9" fill="#7a72c8"/><rect x="440.35" y="390.23" width="0.9" height="0.9" fill="#7a72c8"/><rect x="447.58" y="398.65" width="0.9" height="0.9" fill="#7a72c8"/><rect x="445.86" y="393.27" width="0.9" height="0.9" fill="#7a72c8"/><rect x="431.86" y="397.20" width="0.9" height="0.9" fill="#7a72c8"/><rect x="437.06" y="400.56" width="0.9" height="0.9" fill="#7a72c8"/><rect x="441.48" y="404.70" width="0.9" height="0.9" fill="#7a72c8"/><rect x="446.93" y="390.39" width="0.9" height="0.9" fill="#7a72c8"/><rect x="439.47" y="406.41" width="0.9" height="0.9" fill="#7a72c8"/><rect x="446.12" y="399.84" width="0.9" height="0.9" fill="#7a72c8"/><rect x="441.23" y="392.79" width="0.9" height="0.9" fill="#7a72c8"/><rect x="438.71" y="391.62" width="0.9" height="0.9" fill="#7a72c8"/><rect x="445.70" y="387.32" width="0.9" height="0.9" fill="#7a72c8"/><rect x="443.53" y="387.93" width="0.9" height="0.9" fill="#7a72c8"/><rect x="434.55" y="402.78" width="0.9" height="0.9" fill="#7a72c8"/><rect x="438.63" y="400.87" width="0.9" height="0.9" fill="#7a72c8"/><rect x="440.32" y="402.71" width="0.9" height="0.9" fill="#7a72c8"/><rect x="434.36" y="405.13" width="0.9" height="0.9" fill="#7a72c8"/><rect x="436.78" y="397.18" width="0.9" height="0.9" fill="#7a72c8"/><rect x="439.40" y="394.43" width="0.9" height="0.9" fill="#7a72c8"/><rect x="443.43" y="393.39" width="0.9" height="0.9" fill="#7a72c8"/><rect x="440.58" y="406.93" width="0.9" height="0.9" fill="#7a72c8"/><rect x="431.74" y="400.09" width="0.9" height="0.9" fill="#7a72c8"/><rect x="439.05" y="396.55" width="0.9" height="0.9" fill="#7a72c8"/><rect x="435.34" y="404.79" width="0.9" height="0.9" fill="#7a72c8"/><rect x="439.60" y="394.40" width="0.9" height="0.9" fill="#7a72c8"/><rect x="435.09" y="404.71" width="0.9" height="0.9" fill="#7a72c8"/><rect x="443.29" y="385.48" width="0.9" height="0.9" fill="#7a72c8"/><rect x="438.71" y="403.00" width="0.9" height="0.9" fill="#7a72c8"/><rect x="436.65" y="386.94" width="0.9" height="0.9" fill="#7a72c8"/><rect x="434.94" y="405.06" width="0.9" height="0.9" fill="#7a72c8"/><rect x="443.30" y="405.86" width="0.9" height="0.9" fill="#7a72c8"/><rect x="433.48" y="404.01" width="0.9" height="0.9" fill="#7a72c8"/><rect x="442.95" y="393.23" width="0.9" height="0.9" fill="#7a72c8"/><rect x="445.36" y="395.68" width="0.9" height="0.9" fill="#7a72c8"/><rect x="433.57" y="397.64" width="0.9" height="0.9" fill="#7a72c8"/><rect x="439.82" y="403.52" width="0.9" height="0.9" fill="#7a72c8"/><rect x="440.61" y="397.04" width="0.9" height="0.9" fill="#7a72c8"/><rect x="444.68" y="393.64" width="0.9" height="0.9" fill="#7a72c8"/><rect x="436.73" y="398.80" width="0.9" height="0.9" fill="#7a72c8"/><rect x="443.99" y="389.51" width="0.9" height="0.9" fill="#7a72c8"/><rect x="447.78" y="394.35" width="0.9" height="0.9" fill="#7a72c8"/><rect x="448.20" y="397.06" width="0.9" height="0.9" fill="#7a72c8"/><rect x="445.24" y="396.33" width="0.9" height="0.9" fill="#7a72c8"/><rect x="434.72" y="400.16" width="0.9" height="0.9" fill="#7a72c8"/><rect x="435.78" y="401.79" width="0.9" height="0.9" fill="#7a72c8"/><rect x="444.72" y="389.25" width="0.9" height="0.9" fill="#7a72c8"/><rect x="438.96" y="391.89" width="0.9" height="0.9" fill="#7a72c8"/><rect x="446.24" y="396.59" width="0.9" height="0.9" fill="#7a72c8"/><rect x="443.13" y="400.35" width="0.9" height="0.9" fill="#7a72c8"/><rect x="447.20" y="405.10" width="0.9" height="0.9" fill="#7a72c8"/><rect x="437.93" y="403.32" width="0.9" height="0.9" fill="#7a72c8"/><rect x="440.67" y="388.20" width="0.9" height="0.9" fill="#7a72c8"/><rect x="439.89" y="403.51" width="0.9" height="0.9" fill="#7a72c8"/><rect x="447.59" y="395.28" width="0.9" height="0.9" fill="#7a72c8"/><rect x="441.64" y="388.68" width="0.9" height="0.9" fill="#7a72c8"/><rect x="434.68" y="400.83" width="0.9" height="0.9" fill="#7a72c8"/><rect x="448.30" y="396.42" width="0.9" height="0.9" fill="#7a72c8"/><rect x="448.21" y="402.83" width="0.9" height="0.9" fill="#7a72c8"/><rect x="441.21" y="390.40" width="0.9" height="0.9" fill="#7a72c8"/><rect x="442.38" y="391.74" width="0.9" height="0.9" fill="#7a72c8"/><rect x="433.19" y="400.53" width="0.9" height="0.9" fill="#7a72c8"/><rect x="438.31" y="403.31" width="0.9" height="0.9" fill="#7a72c8"/><rect x="447.40" y="402.37" width="0.9" height="0.9" fill="#7a72c8"/><rect x="432.05" y="397.61" width="0.9" height="0.9" fill="#7a72c8"/><rect x="437.61" y="399.91" width="0.9" height="0.9" fill="#7a72c8"/><rect x="436.71" y="396.93" width="0.9" height="0.9" fill="#7a72c8"/><rect x="445.37" y="405.35" width="0.9" height="0.9" fill="#7a72c8"/><rect x="441.14" y="390.24" width="0.9" height="0.9" fill="#7a72c8"/><rect x="445.42" y="404.97" width="0.9" height="0.9" fill="#7a72c8"/><rect x="441.34" y="393.15" width="0.9" height="0.9" fill="#7a72c8"/><rect x="436.48" y="395.94" width="0.9" height="0.9" fill="#7a72c8"/><rect x="441.38" y="388.47" width="0.9" height="0.9" fill="#7a72c8"/><rect x="444.47" y="396.89" width="0.9" height="0.9" fill="#7a72c8"/><rect x="441.24" y="407.92" width="0.9" height="0.9" fill="#7a72c8"/><rect x="440.23" y="389.13" width="0.9" height="0.9" fill="#7a72c8"/><rect x="446.88" y="390.16" width="0.9" height="0.9" fill="#7a72c8"/><rect x="438.22" y="403.74" width="0.9" height="0.9" fill="#7a72c8"/><rect x="445.98" y="398.65" width="0.9" height="0.9" fill="#7a72c8"/><rect x="435.33" y="400.63" width="0.9" height="0.9" fill="#7a72c8"/><rect x="434.26" y="403.41" width="0.9" height="0.9" fill="#7a72c8"/><rect x="439.67" y="405.86" width="0.9" height="0.9" fill="#7a72c8"/><rect x="446.53" y="394.20" width="0.9" height="0.9" fill="#7a72c8"/><rect x="446.07" y="391.97" width="0.9" height="0.9" fill="#7a72c8"/><rect x="443.58" y="405.23" width="0.9" height="0.9" fill="#7a72c8"/><rect x="435.20" y="402.77" width="0.9" height="0.9" fill="#7a72c8"/><rect x="443.34" y="398.58" width="0.9" height="0.9" fill="#7a72c8"/><rect x="441.33" y="394.17" width="0.9" height="0.9" fill="#7a72c8"/><rect x="446.05" y="405.16" width="0.9" height="0.9" fill="#7a72c8"/><rect x="434.71" y="394.04" width="0.9" height="0.9" fill="#7a72c8"/><rect x="441.07" y="395.34" width="0.9" height="0.9" fill="#7a72c8"/><rect x="443.22" y="389.43" width="0.9" height="0.9" fill="#7a72c8"/><rect x="445.37" y="404.29" width="0.9" height="0.9" fill="#7a72c8"/><rect x="437.98" y="404.33" width="0.9" height="0.9" fill="#7a72c8"/><rect x="436.00" y="389.53" width="0.9" height="0.9" fill="#7a72c8"/><rect x="444.42" y="393.40" width="0.9" height="0.9" fill="#7a72c8"/><rect x="442.04" y="400.99" width="0.9" height="0.9" fill="#7a72c8"/><rect x="437.21" y="389.83" width="0.9" height="0.9" fill="#7a72c8"/><rect x="436.53" y="391.18" width="0.9" height="0.9" fill="#7a72c8"/><rect x="445.47" y="393.76" width="0.9" height="0.9" fill="#7a72c8"/><rect x="432.42" y="399.83" width="0.9" height="0.9" fill="#7a72c8"/><rect x="436.81" y="394.09" width="0.9" height="0.9" fill="#7a72c8"/><rect x="435.16" y="395.48" width="0.9" height="0.9" fill="#7a72c8"/><rect x="436.19" y="394.20" width="0.9" height="0.9" fill="#7a72c8"/><rect x="433.85" y="403.38" width="0.9" height="0.9" fill="#7a72c8"/><rect x="443.04" y="401.83" width="0.9" height="0.9" fill="#7a72c8"/><rect x="444.56" y="388.12" width="0.9" height="0.9" fill="#7a72c8"/><rect x="442.18" y="391.16" width="0.9" height="0.9" fill="#7a72c8"/><rect x="438.79" y="388.63" width="0.9" height="0.9" fill="#7a72c8"/><rect x="441.25" y="400.57" width="0.9" height="0.9" fill="#7a72c8"/><rect x="445.81" y="399.35" width="0.9" height="0.9" fill="#7a72c8"/><rect x="445.18" y="396.22" width="0.9" height="0.9" fill="#7a72c8"/><rect x="435.61" y="398.42" width="0.9" height="0.9" fill="#7a72c8"/><rect x="442.53" y="396.73" width="0.9" height="0.9" fill="#7a72c8"/><rect x="438.15" y="395.47" width="0.9" height="0.9" fill="#7a72c8"/><rect x="441.17" y="399.86" width="0.9" height="0.9" fill="#7a72c8"/><rect x="441.90" y="407.82" width="0.9" height="0.9" fill="#7a72c8"/><rect x="435.02" y="389.49" width="0.9" height="0.9" fill="#7a72c8"/><rect x="439.65" y="405.99" width="0.9" height="0.9" fill="#7a72c8"/><rect x="439.10" y="405.62" width="0.9" height="0.9" fill="#7a72c8"/><rect x="434.46" y="398.20" width="0.9" height="0.9" fill="#7a72c8"/><rect x="439.33" y="393.37" width="0.9" height="0.9" fill="#7a72c8"/><rect x="441.25" y="401.64" width="0.9" height="0.9" fill="#7a72c8"/><rect x="433.18" y="396.16" width="0.9" height="0.9" fill="#7a72c8"/><rect x="436.32" y="390.37" width="0.9" height="0.9" fill="#7a72c8"/><rect x="444.46" y="393.92" width="0.9" height="0.9" fill="#7a72c8"/><rect x="446.33" y="391.69" width="0.9" height="0.9" fill="#7a72c8"/><rect x="441.99" y="398.92" width="0.9" height="0.9" fill="#7a72c8"/><rect x="438.68" y="405.55" width="0.9" height="0.9" fill="#7a72c8"/><rect x="447.41" y="391.15" width="0.9" height="0.9" fill="#7a72c8"/><rect x="447.17" y="391.80" width="0.9" height="0.9" fill="#7a72c8"/><rect x="442.86" y="404.06" width="0.9" height="0.9" fill="#7a72c8"/><rect x="443.30" y="405.33" width="0.9" height="0.9" fill="#7a72c8"/><rect x="438.76" y="402.87" width="0.9" height="0.9" fill="#7a72c8"/><rect x="445.35" y="397.86" width="0.9" height="0.9" fill="#7a72c8"/><rect x="441.45" y="399.53" width="0.9" height="0.9" fill="#7a72c8"/><rect x="434.64" y="395.29" width="0.9" height="0.9" fill="#7a72c8"/><rect x="444.18" y="404.96" width="0.9" height="0.9" fill="#7a72c8"/><rect x="443.94" y="390.96" width="0.9" height="0.9" fill="#7a72c8"/><rect x="435.34" y="403.48" width="0.9" height="0.9" fill="#7a72c8"/><rect x="440.99" y="400.18" width="0.9" height="0.9" fill="#7a72c8"/><rect x="434.98" y="391.58" width="0.9" height="0.9" fill="#7a72c8"/><rect x="437.37" y="391.99" width="0.9" height="0.9" fill="#7a72c8"/><rect x="439.98" y="398.78" width="0.9" height="0.9" fill="#7a72c8"/><rect x="437.01" y="386.35" width="0.9" height="0.9" fill="#7a72c8"/><rect x="440.22" y="402.67" width="0.9" height="0.9" fill="#7a72c8"/><rect x="437.60" y="397.13" width="0.9" height="0.9" fill="#cc5a0c"/><rect x="432.78" y="400.64" width="0.9" height="0.9" fill="#cc5a0c"/><rect x="441.30" y="405.62" width="0.9" height="0.9" fill="#cc5a0c"/><rect x="436.23" y="393.33" width="0.9" height="0.9" fill="#cc5a0c"/><rect x="436.09" y="397.85" width="0.9" height="0.9" fill="#cc5a0c"/><rect x="438.92" y="404.11" width="0.9" height="0.9" fill="#cc5a0c"/><rect x="437.00" y="389.32" width="0.9" height="0.9" fill="#cc5a0c"/><rect x="432.59" y="398.73" width="0.9" height="0.9" fill="#cc5a0c"/><rect x="436.56" y="394.91" width="0.9" height="0.9" fill="#cc5a0c"/><rect x="446.26" y="390.92" width="0.9" height="0.9" fill="#cc5a0c"/><rect x="437.18" y="396.68" width="0.9" height="0.9" fill="#cc5a0c"/><rect x="437.44" y="403.22" width="0.9" height="0.9" fill="#cc5a0c"/><rect x="442.91" y="408.20" width="0.9" height="0.9" fill="#cc5a0c"/><rect x="443.93" y="388.94" width="0.9" height="0.9" fill="#cc5a0c"/><rect x="443.72" y="407.82" width="0.9" height="0.9" fill="#cc5a0c"/><rect x="437.94" y="402.45" width="0.9" height="0.9" fill="#cc5a0c"/><rect x="447.54" y="400.97" width="0.9" height="0.9" fill="#cc5a0c"/><rect x="444.51" y="404.32" width="0.9" height="0.9" fill="#cc5a0c"/><rect x="434.32" y="399.71" width="0.9" height="0.9" fill="#cc5a0c"/><rect x="442.10" y="387.17" width="0.9" height="0.9" fill="#cc5a0c"/><rect x="443.03" y="389.12" width="0.9" height="0.9" fill="#cc5a0c"/><rect x="437.00" y="387.85" width="0.9" height="0.9" fill="#cc5a0c"/><rect x="442.54" y="391.39" width="0.9" height="0.9" fill="#cc5a0c"/><rect x="444.96" y="389.23" width="0.9" height="0.9" fill="#cc5a0c"/><rect x="445.58" y="403.62" width="0.9" height="0.9" fill="#cc5a0c"/><rect x="434.55" y="398.90" width="0.9" height="0.9" fill="#cc5a0c"/><rect x="442.58" y="392.33" width="0.9" height="0.9" fill="#cc5a0c"/><rect x="434.09" y="394.96" width="0.9" height="0.9" fill="#cc5a0c"/><rect x="437.25" y="400.29" width="0.9" height="0.9" fill="#cc5a0c"/><rect x="445.46" y="393.76" width="0.9" height="0.9" fill="#cc5a0c"/><rect x="438.60" y="394.35" width="0.9" height="0.9" fill="#cc5a0c"/><rect x="435.41" y="406.18" width="0.9" height="0.9" fill="#cc5a0c"/><rect x="439.67" y="386.40" width="0.9" height="0.9" fill="#cc5a0c"/><rect x="439.42" y="385.97" width="0.9" height="0.9" fill="#cc5a0c"/><rect x="445.99" y="393.42" width="0.9" height="0.9" fill="#cc5a0c"/><rect x="438.17" y="392.69" width="0.9" height="0.9" fill="#cc5a0c"/><rect x="435.83" y="399.84" width="0.9" height="0.9" fill="#cc5a0c"/><rect x="432.11" y="397.38" width="0.9" height="0.9" fill="#cc5a0c"/><rect x="435.78" y="388.42" width="0.9" height="0.9" fill="#cc5a0c"/><rect x="437.88" y="395.20" width="0.9" height="0.9" fill="#cc5a0c"/><rect x="444.21" y="407.41" width="0.85" height="0.85" fill="#ffffff" fill-opacity="0.8"/><rect x="439.75" y="401.33" width="0.85" height="0.85" fill="#ffffff" fill-opacity="0.8"/><rect x="434.48" y="390.64" width="0.85" height="0.85" fill="#ffffff" fill-opacity="0.8"/><rect x="443.82" y="394.08" width="0.85" height="0.85" fill="#ffffff" fill-opacity="0.8"/><rect x="447.11" y="398.82" width="0.85" height="0.85" fill="#ffffff" fill-opacity="0.8"/><rect x="441.51" y="399.87" width="0.85" height="0.85" fill="#ffffff" fill-opacity="0.8"/><rect x="439.46" y="388.00" width="0.85" height="0.85" fill="#ffffff" fill-opacity="0.8"/><rect x="435.70" y="401.13" width="0.85" height="0.85" fill="#ffffff" fill-opacity="0.8"/><rect x="433.36" y="396.62" width="0.85" height="0.85" fill="#ffffff" fill-opacity="0.8"/><rect x="441.57" y="395.49" width="0.85" height="0.85" fill="#ffffff" fill-opacity="0.8"/><rect x="441.29" y="389.15" width="0.85" height="0.85" fill="#ffffff" fill-opacity="0.8"/><rect x="444.02" y="399.65" width="0.85" height="0.85" fill="#ffffff" fill-opacity="0.8"/><rect x="441.43" y="403.89" width="0.85" height="0.85" fill="#ffffff" fill-opacity="0.8"/><rect x="440.43" y="396.94" width="0.85" height="0.85" fill="#ffffff" fill-opacity="0.8"/><rect x="446.94" y="403.38" width="0.85" height="0.85" fill="#ffffff" fill-opacity="0.8"/><rect x="437.09" y="392.02" width="0.85" height="0.85" fill="#ffffff" fill-opacity="0.8"/><rect x="448.33" y="399.34" width="0.85" height="0.85" fill="#ffffff" fill-opacity="0.8"/><rect x="434.66" y="394.35" width="0.85" height="0.85" fill="#ffffff" fill-opacity="0.8"/><rect x="443.36" y="388.21" width="0.85" height="0.85" fill="#ffffff" fill-opacity="0.8"/><rect x="433.32" y="394.33" width="0.85" height="0.85" fill="#ffffff" fill-opacity="0.8"/><rect x="438.74" y="392.24" width="0.85" height="0.85" fill="#ffffff" fill-opacity="0.8"/><rect x="432.75" y="396.47" width="0.85" height="0.85" fill="#ffffff" fill-opacity="0.8"/><rect x="436.72" y="393.94" width="0.85" height="0.85" fill="#ffffff" fill-opacity="0.8"/><rect x="444.17" y="399.66" width="0.85" height="0.85" fill="#ffffff" fill-opacity="0.8"/><rect x="444.71" y="391.57" width="0.85" height="0.85" fill="#ffffff" fill-opacity="0.8"/><rect x="433.74" y="403.49" width="0.85" height="0.85" fill="#ffffff" fill-opacity="0.8"/><rect x="439.86" y="392.63" width="0.85" height="0.85" fill="#ffffff" fill-opacity="0.8"/><rect x="447.68" y="395.50" width="0.85" height="0.85" fill="#ffffff" fill-opacity="0.8"/><rect x="432.92" y="397.06" width="0.85" height="0.85" fill="#ffffff" fill-opacity="0.8"/><rect x="440.27" y="400.71" width="0.85" height="0.85" fill="#ffffff" fill-opacity="0.8"/><rect x="438.27" y="391.31" width="0.85" height="0.85" fill="#ffffff" fill-opacity="0.8"/><rect x="434.14" y="391.10" width="0.85" height="0.85" fill="#ffffff" fill-opacity="0.8"/><rect x="438.35" y="392.28" width="0.85" height="0.85" fill="#ffffff" fill-opacity="0.8"/><rect x="437.10" y="388.93" width="0.85" height="0.85" fill="#ffffff" fill-opacity="0.8"/><rect x="434.48" y="400.35" width="0.85" height="0.85" fill="#ffffff" fill-opacity="0.8"/><rect x="437.49" y="406.20" width="0.85" height="0.85" fill="#ffffff" fill-opacity="0.8"/><rect x="445.29" y="392.51" width="0.85" height="0.85" fill="#ffffff" fill-opacity="0.8"/><rect x="433.33" y="395.80" width="0.85" height="0.85" fill="#ffffff" fill-opacity="0.8"/><rect x="440.64" y="387.07" width="0.85" height="0.85" fill="#ffffff" fill-opacity="0.8"/><rect x="445.41" y="390.06" width="0.85" height="0.85" fill="#ffffff" fill-opacity="0.8"/><rect x="448.04" y="400.16" width="0.85" height="0.85" fill="#ffffff" fill-opacity="0.8"/><rect x="444.84" y="405.65" width="0.85" height="0.85" fill="#ffffff" fill-opacity="0.8"/><rect x="446.04" y="398.94" width="0.85" height="0.85" fill="#ffffff" fill-opacity="0.8"/><rect x="443.24" y="391.79" width="0.85" height="0.85" fill="#ffffff" fill-opacity="0.8"/><rect x="435.37" y="391.51" width="0.85" height="0.85" fill="#ffffff" fill-opacity="0.8"/><rect x="440.83" y="397.37" width="0.85" height="0.85" fill="#ffffff" fill-opacity="0.8"/><rect x="442.58" y="387.60" width="0.85" height="0.85" fill="#ffffff" fill-opacity="0.8"/><rect x="448.38" y="399.10" width="0.85" height="0.85" fill="#ffffff" fill-opacity="0.8"/><rect x="443.74" y="388.19" width="0.85" height="0.85" fill="#ffffff" fill-opacity="0.8"/><rect x="445.62" y="398.26" width="0.85" height="0.85" fill="#ffffff" fill-opacity="0.8"/><rect x="444.54" y="394.66" width="0.85" height="0.85" fill="#ffffff" fill-opacity="0.8"/><rect x="446.08" y="402.73" width="0.85" height="0.85" fill="#ffffff" fill-opacity="0.8"/><rect x="433.63" y="401.11" width="0.85" height="0.85" fill="#ffffff" fill-opacity="0.8"/><rect x="438.21" y="397.52" width="0.85" height="0.85" fill="#ffffff" fill-opacity="0.8"/><rect x="439.78" y="403.43" width="0.85" height="0.85" fill="#ffffff" fill-opacity="0.8"/><rect x="439.06" y="388.00" width="0.85" height="0.85" fill="#ffffff" fill-opacity="0.8"/><rect x="441.78" y="389.19" width="0.85" height="0.85" fill="#ffffff" fill-opacity="0.8"/><rect x="437.11" y="394.60" width="0.85" height="0.85" fill="#ffffff" fill-opacity="0.8"/><rect x="446.35" y="399.81" width="0.85" height="0.85" fill="#ffffff" fill-opacity="0.8"/><rect x="442.90" y="394.02" width="0.85" height="0.85" fill="#ffffff" fill-opacity="0.8"/><rect x="441.87" y="387.50" width="0.85" height="0.85" fill="#ffffff" fill-opacity="0.8"/><rect x="436.57" y="396.69" width="0.85" height="0.85" fill="#ffffff" fill-opacity="0.8"/><rect x="448.04" y="399.61" width="0.85" height="0.85" fill="#ffffff" fill-opacity="0.8"/><rect x="435.24" y="389.81" width="0.85" height="0.85" fill="#ffffff" fill-opacity="0.8"/><rect x="438.04" y="399.83" width="0.85" height="0.85" fill="#ffffff" fill-opacity="0.8"/><rect x="440.54" y="408.50" width="0.85" height="0.85" fill="#ffffff" fill-opacity="0.8"/><rect x="447.39" y="392.97" width="0.85" height="0.85" fill="#ffffff" fill-opacity="0.8"/><rect x="442.58" y="403.98" width="0.85" height="0.85" fill="#ffffff" fill-opacity="0.8"/><rect x="441.59" y="389.52" width="0.85" height="0.85" fill="#ffffff" fill-opacity="0.8"/><rect x="435.00" y="392.01" width="0.85" height="0.85" fill="#ffffff" fill-opacity="0.8"/><rect x="435.45" y="391.46" width="0.85" height="0.85" fill="#ffffff" fill-opacity="0.8"/><rect x="441.39" y="402.41" width="0.85" height="0.85" fill="#ffffff" fill-opacity="0.8"/><rect x="441.50" y="393.00" width="0.85" height="0.85" fill="#ffffff" fill-opacity="0.8"/><rect x="444.19" y="394.50" width="0.85" height="0.85" fill="#ffffff" fill-opacity="0.8"/><rect x="442.05" y="386.94" width="0.85" height="0.85" fill="#ffffff" fill-opacity="0.8"/><rect x="435.73" y="394.31" width="0.85" height="0.85" fill="#ffffff" fill-opacity="0.8"/><rect x="439.74" y="389.59" width="0.85" height="0.85" fill="#ffffff" fill-opacity="0.8"/><rect x="436.28" y="394.56" width="0.85" height="0.85" fill="#ffffff" fill-opacity="0.8"/><rect x="439.62" y="397.72" width="0.85" height="0.85" fill="#ffffff" fill-opacity="0.8"/><rect x="441.29" y="387.44" width="0.85" height="0.85" fill="#ffffff" fill-opacity="0.8"/><rect x="434.78" y="397.78" width="0.85" height="0.85" fill="#ffffff" fill-opacity="0.8"/><rect x="443.26" y="389.99" width="0.85" height="0.85" fill="#ffffff" fill-opacity="0.8"/><rect x="432.12" y="396.75" width="0.85" height="0.85" fill="#ffffff" fill-opacity="0.8"/><rect x="440.18" y="407.48" width="0.85" height="0.85" fill="#ffffff" fill-opacity="0.8"/><rect x="435.50" y="389.78" width="0.85" height="0.85" fill="#ffffff" fill-opacity="0.8"/><rect x="438.11" y="403.59" width="0.85" height="0.85" fill="#ffffff" fill-opacity="0.8"/><rect x="447.12" y="401.58" width="0.85" height="0.85" fill="#ffffff" fill-opacity="0.8"/><rect x="436.62" y="403.48" width="0.85" height="0.85" fill="#ffffff" fill-opacity="0.8"/><rect x="447.67" y="397.87" width="0.85" height="0.85" fill="#ffffff" fill-opacity="0.8"/><rect x="438.60" y="397.20" width="0.85" height="0.85" fill="#ffffff" fill-opacity="0.8"/><rect x="435.75" y="392.09" width="0.85" height="0.85" fill="#ffffff" fill-opacity="0.8"/><rect x="446.75" y="392.69" width="0.85" height="0.85" fill="#ffffff" fill-opacity="0.8"/><rect x="440.90" y="390.43" width="0.85" height="0.85" fill="#ffffff" fill-opacity="0.8"/><rect x="435.61" y="398.38" width="0.85" height="0.85" fill="#ffffff" fill-opacity="0.8"/><rect x="446.05" y="400.74" width="0.85" height="0.85" fill="#ffffff" fill-opacity="0.8"/><rect x="441.53" y="386.18" width="0.85" height="0.85" fill="#ffffff" fill-opacity="0.8"/><rect x="434.52" y="394.34" width="0.85" height="0.85" fill="#ffffff" fill-opacity="0.8"/><rect x="447.66" y="402.54" width="0.85" height="0.85" fill="#ffffff" fill-opacity="0.8"/><rect x="434.05" y="402.44" width="0.85" height="0.85" fill="#ffffff" fill-opacity="0.8"/><rect x="443.30" y="389.18" width="0.85" height="0.85" fill="#ffffff" fill-opacity="0.8"/><rect x="439.94" y="398.15" width="0.85" height="0.85" fill="#ffffff" fill-opacity="0.8"/><rect x="433.93" y="403.74" width="0.85" height="0.85" fill="#ffffff" fill-opacity="0.8"/><rect x="441.67" y="403.08" width="0.85" height="0.85" fill="#ffffff" fill-opacity="0.8"/><rect x="445.03" y="401.54" width="0.85" height="0.85" fill="#ffffff" fill-opacity="0.8"/><rect x="442.77" y="389.95" width="0.85" height="0.85" fill="#ffffff" fill-opacity="0.8"/><rect x="436.00" y="405.11" width="0.85" height="0.85" fill="#ffffff" fill-opacity="0.8"/><rect x="442.35" y="406.20" width="0.85" height="0.85" fill="#ffffff" fill-opacity="0.8"/><rect x="437.95" y="388.93" width="0.85" height="0.85" fill="#ffffff" fill-opacity="0.8"/><rect x="440.60" y="406.88" width="0.85" height="0.85" fill="#ffffff" fill-opacity="0.8"/><rect x="442.10" y="385.60" width="0.85" height="0.85" fill="#ffffff" fill-opacity="0.8"/><rect x="440.63" y="406.47" width="0.85" height="0.85" fill="#ffffff" fill-opacity="0.8"/><rect x="446.74" y="391.83" width="0.85" height="0.85" fill="#ffffff" fill-opacity="0.8"/><rect x="438.81" y="403.62" width="0.85" height="0.85" fill="#ffffff" fill-opacity="0.8"/><rect x="441.10" y="403.11" width="0.85" height="0.85" fill="#ffffff" fill-opacity="0.8"/><rect x="434.77" y="394.66" width="0.85" height="0.85" fill="#ffffff" fill-opacity="0.8"/><rect x="445.09" y="396.67" width="0.85" height="0.85" fill="#ffffff" fill-opacity="0.8"/><rect x="443.21" y="388.41" width="0.85" height="0.85" fill="#ffffff" fill-opacity="0.8"/><rect x="434.37" y="398.17" width="0.85" height="0.85" fill="#ffffff" fill-opacity="0.8"/><rect x="435.45" y="391.37" width="0.85" height="0.85" fill="#ffffff" fill-opacity="0.8"/><rect x="441.97" y="390.98" width="0.85" height="0.85" fill="#ffffff" fill-opacity="0.8"/><rect x="440.88" y="396.97" width="0.85" height="0.85" fill="#ffffff" fill-opacity="0.8"/><rect x="437.11" y="402.19" width="0.85" height="0.85" fill="#ffffff" fill-opacity="0.8"/><rect x="446.38" y="400.66" width="0.85" height="0.85" fill="#ffffff" fill-opacity="0.8"/><rect x="438.85" y="406.76" width="0.85" height="0.85" fill="#ffffff" fill-opacity="0.8"/><rect x="447.78" y="401.06" width="0.85" height="0.85" fill="#ffffff" fill-opacity="0.8"/><rect x="447.18" y="401.36" width="0.85" height="0.85" fill="#ffffff" fill-opacity="0.8"/><rect x="447.56" y="394.26" width="0.85" height="0.85" fill="#ffffff" fill-opacity="0.8"/><rect x="439.51" y="405.76" width="0.85" height="0.85" fill="#ffffff" fill-opacity="0.8"/><rect x="437.05" y="402.94" width="0.85" height="0.85" fill="#ffffff" fill-opacity="0.8"/><rect x="437.00" y="386.56" width="0.85" height="0.85" fill="#ffffff" fill-opacity="0.8"/><rect x="439.26" y="386.69" width="0.85" height="0.85" fill="#ffffff" fill-opacity="0.8"/><rect x="434.40" y="396.56" width="0.85" height="0.85" fill="#ffffff" fill-opacity="0.8"/><rect x="439.40" y="402.47" width="0.85" height="0.85" fill="#ffffff" fill-opacity="0.8"/><rect x="445.18" y="387.48" width="0.85" height="0.85" fill="#ffffff" fill-opacity="0.8"/><rect x="437.25" y="397.82" width="0.85" height="0.85" fill="#ffffff" fill-opacity="0.8"/><rect x="441.63" y="398.58" width="0.85" height="0.85" fill="#ffffff" fill-opacity="0.8"/><rect x="443.79" y="387.27" width="0.85" height="0.85" fill="#ffffff" fill-opacity="0.8"/><rect x="441.04" y="406.67" width="0.85" height="0.85" fill="#ffffff" fill-opacity="0.8"/><rect x="441.13" y="386.35" width="0.85" height="0.85" fill="#ffffff" fill-opacity="0.8"/><rect x="438.33" y="386.16" width="0.85" height="0.85" fill="#ffffff" fill-opacity="0.8"/><rect x="449.19" y="400.29" width="0.85" height="0.85" fill="#ffffff" fill-opacity="0.8"/><rect x="444.15" y="388.11" width="0.85" height="0.85" fill="#ffffff" fill-opacity="0.8"/><rect x="441.89" y="388.80" width="0.85" height="0.85" fill="#ffffff" fill-opacity="0.8"/><rect x="441.61" y="389.87" width="0.85" height="0.85" fill="#ffffff" fill-opacity="0.8"/><rect x="445.55" y="406.00" width="0.85" height="0.85" fill="#ffffff" fill-opacity="0.8"/><rect x="447.20" y="405.00" width="0.85" height="0.85" fill="#ffffff" fill-opacity="0.8"/><rect x="444.07" y="393.74" width="0.85" height="0.85" fill="#ffffff" fill-opacity="0.8"/><rect x="439.82" y="394.65" width="0.85" height="0.85" fill="#ffffff" fill-opacity="0.8"/><rect x="436.82" y="387.72" width="0.85" height="0.85" fill="#ffffff" fill-opacity="0.8"/><rect x="438.53" y="392.45" width="0.85" height="0.85" fill="#ffffff" fill-opacity="0.8"/><rect x="112.14" y="367.67" width="1" height="1" fill="#7a72c8" fill-opacity="0.85"/><rect x="109.36" y="370.91" width="1" height="1" fill="#7a72c8" fill-opacity="0.85"/><rect x="111.95" y="369.03" width="1" height="1" fill="#7a72c8" fill-opacity="0.85"/><rect x="112.76" y="369.70" width="1" height="1" fill="#7a72c8" fill-opacity="0.85"/><rect x="112.59" y="368.78" width="1" height="1" fill="#7a72c8" fill-opacity="0.85"/><rect x="113.13" y="369.17" width="1" height="1" fill="#7a72c8" fill-opacity="0.85"/><rect x="111.70" y="369.04" width="1" height="1" fill="#7a72c8" fill-opacity="0.85"/><rect x="112.30" y="366.84" width="1" height="1" fill="#7a72c8" fill-opacity="0.85"/><rect x="110.69" y="369.90" width="1" height="1" fill="#7a72c8" fill-opacity="0.85"/><rect x="111.45" y="371.33" width="1" height="1" fill="#7a72c8" fill-opacity="0.85"/><rect x="113.12" y="366.81" width="1" height="1" fill="#7a72c8" fill-opacity="0.85"/><rect x="113.68" y="369.09" width="1" height="1" fill="#7a72c8" fill-opacity="0.85"/><rect x="110.71" y="367.85" width="1" height="1" fill="#7a72c8" fill-opacity="0.85"/><rect x="113.81" y="366.62" width="1" height="1" fill="#7a72c8" fill-opacity="0.85"/><rect x="109.44" y="371.99" width="1" height="1" fill="#7a72c8" fill-opacity="0.85"/><rect x="113.73" y="367.48" width="1" height="1" fill="#7a72c8" fill-opacity="0.85"/><rect x="111.24" y="367.60" width="1" height="1" fill="#7a72c8" fill-opacity="0.85"/><rect x="110.29" y="368.27" width="1" height="1" fill="#7a72c8" fill-opacity="0.85"/><rect x="111.35" y="368.80" width="1" height="1" fill="#7a72c8" fill-opacity="0.85"/><rect x="109.61" y="372.57" width="1" height="1" fill="#7a72c8" fill-opacity="0.85"/><rect x="112.12" y="370.70" width="1" height="1" fill="#7a72c8" fill-opacity="0.85"/><rect x="110.83" y="371.37" width="1" height="1" fill="#7a72c8" fill-opacity="0.85"/><rect x="112.30" y="370.25" width="1" height="1" fill="#7a72c8" fill-opacity="0.85"/><rect x="113.22" y="370.52" width="1" height="1" fill="#7a72c8" fill-opacity="0.85"/><rect x="111.80" y="370.03" width="1" height="1" fill="#7a72c8" fill-opacity="0.85"/><rect x="109.00" y="371.34" width="1" height="1" fill="#7a72c8" fill-opacity="0.85"/><rect x="111.64" y="368.73" width="1" height="1" fill="#7a72c8" fill-opacity="0.85"/><rect x="111.89" y="368.06" width="1" height="1" fill="#7a72c8" fill-opacity="0.85"/><rect x="109.22" y="370.10" width="1" height="1" fill="#7a72c8" fill-opacity="0.85"/><rect x="111.63" y="369.49" width="1" height="1" fill="#7a72c8" fill-opacity="0.85"/><rect x="162.65" y="379.20" width="1" height="1" fill="#7a72c8" fill-opacity="0.85"/><rect x="163.09" y="377.82" width="1" height="1" fill="#7a72c8" fill-opacity="0.85"/><rect x="161.03" y="377.67" width="1" height="1" fill="#7a72c8" fill-opacity="0.85"/><rect x="163.20" y="378.19" width="1" height="1" fill="#7a72c8" fill-opacity="0.85"/><rect x="159.98" y="378.94" width="1" height="1" fill="#7a72c8" fill-opacity="0.85"/><rect x="161.08" y="378.18" width="1" height="1" fill="#7a72c8" fill-opacity="0.85"/><rect x="163.84" y="377.34" width="1" height="1" fill="#7a72c8" fill-opacity="0.85"/><rect x="163.34" y="375.36" width="1" height="1" fill="#7a72c8" fill-opacity="0.85"/><rect x="161.00" y="377.52" width="1" height="1" fill="#7a72c8" fill-opacity="0.85"/><rect x="163.17" y="379.62" width="1" height="1" fill="#7a72c8" fill-opacity="0.85"/><rect x="161.27" y="379.98" width="1" height="1" fill="#7a72c8" fill-opacity="0.85"/><rect x="160.48" y="379.00" width="1" height="1" fill="#7a72c8" fill-opacity="0.85"/><rect x="161.86" y="377.19" width="1" height="1" fill="#7a72c8" fill-opacity="0.85"/><rect x="160.77" y="379.47" width="1" height="1" fill="#7a72c8" fill-opacity="0.85"/><rect x="161.84" y="377.90" width="1" height="1" fill="#7a72c8" fill-opacity="0.85"/><rect x="163.06" y="377.98" width="1" height="1" fill="#7a72c8" fill-opacity="0.85"/><rect x="159.27" y="378.23" width="1" height="1" fill="#7a72c8" fill-opacity="0.85"/><rect x="164.56" y="375.64" width="1" height="1" fill="#7a72c8" fill-opacity="0.85"/><rect x="164.40" y="378.46" width="1" height="1" fill="#7a72c8" fill-opacity="0.85"/><rect x="161.40" y="378.62" width="1" height="1" fill="#7a72c8" fill-opacity="0.85"/><rect x="162.36" y="378.00" width="1" height="1" fill="#7a72c8" fill-opacity="0.85"/><rect x="165.24" y="377.05" width="1" height="1" fill="#7a72c8" fill-opacity="0.85"/><rect x="163.25" y="376.64" width="1" height="1" fill="#7a72c8" fill-opacity="0.85"/><rect x="163.85" y="378.26" width="1" height="1" fill="#7a72c8" fill-opacity="0.85"/><rect x="161.80" y="378.08" width="1" height="1" fill="#7a72c8" fill-opacity="0.85"/><rect x="159.60" y="379.57" width="1" height="1" fill="#7a72c8" fill-opacity="0.85"/><rect x="162.12" y="377.97" width="1" height="1" fill="#7a72c8" fill-opacity="0.85"/><rect x="164.90" y="377.88" width="1" height="1" fill="#7a72c8" fill-opacity="0.85"/><rect x="161.95" y="377.67" width="1" height="1" fill="#7a72c8" fill-opacity="0.85"/><rect x="161.82" y="378.73" width="1" height="1" fill="#7a72c8" fill-opacity="0.85"/><rect x="218.44" y="382.20" width="1" height="1" fill="#7a72c8" fill-opacity="0.85"/><rect x="215.29" y="382.79" width="1" height="1" fill="#7a72c8" fill-opacity="0.85"/><rect x="213.76" y="384.52" width="1" height="1" fill="#7a72c8" fill-opacity="0.85"/><rect x="215.86" y="381.82" width="1" height="1" fill="#7a72c8" fill-opacity="0.85"/><rect x="216.69" y="381.23" width="1" height="1" fill="#7a72c8" fill-opacity="0.85"/><rect x="215.85" y="383.56" width="1" height="1" fill="#7a72c8" fill-opacity="0.85"/><rect x="213.87" y="384.83" width="1" height="1" fill="#7a72c8" fill-opacity="0.85"/><rect x="215.74" y="380.84" width="1" height="1" fill="#7a72c8" fill-opacity="0.85"/><rect x="216.77" y="380.20" width="1" height="1" fill="#7a72c8" fill-opacity="0.85"/><rect x="217.29" y="381.07" width="1" height="1" fill="#7a72c8" fill-opacity="0.85"/><rect x="215.62" y="380.92" width="1" height="1" fill="#7a72c8" fill-opacity="0.85"/><rect x="218.85" y="380.84" width="1" height="1" fill="#7a72c8" fill-opacity="0.85"/><rect x="217.56" y="383.63" width="1" height="1" fill="#7a72c8" fill-opacity="0.85"/><rect x="214.19" y="381.92" width="1" height="1" fill="#7a72c8" fill-opacity="0.85"/><rect x="217.60" y="382.16" width="1" height="1" fill="#7a72c8" fill-opacity="0.85"/><rect x="214.17" y="382.28" width="1" height="1" fill="#7a72c8" fill-opacity="0.85"/><rect x="214.23" y="384.99" width="1" height="1" fill="#7a72c8" fill-opacity="0.85"/><rect x="216.50" y="384.36" width="1" height="1" fill="#7a72c8" fill-opacity="0.85"/><rect x="217.47" y="381.22" width="1" height="1" fill="#7a72c8" fill-opacity="0.85"/><rect x="216.15" y="380.30" width="1" height="1" fill="#7a72c8" fill-opacity="0.85"/><rect x="217.23" y="381.58" width="1" height="1" fill="#7a72c8" fill-opacity="0.85"/><rect x="213.86" y="384.60" width="1" height="1" fill="#7a72c8" fill-opacity="0.85"/><rect x="217.06" y="380.88" width="1" height="1" fill="#7a72c8" fill-opacity="0.85"/><rect x="218.83" y="380.74" width="1" height="1" fill="#7a72c8" fill-opacity="0.85"/><rect x="215.27" y="384.01" width="1" height="1" fill="#7a72c8" fill-opacity="0.85"/><rect x="218.00" y="382.27" width="1" height="1" fill="#7a72c8" fill-opacity="0.85"/><rect x="217.72" y="380.22" width="1" height="1" fill="#7a72c8" fill-opacity="0.85"/><rect x="213.45" y="382.95" width="1" height="1" fill="#7a72c8" fill-opacity="0.85"/><rect x="218.55" y="380.44" width="1" height="1" fill="#7a72c8" fill-opacity="0.85"/><rect x="215.00" y="382.32" width="1" height="1" fill="#7a72c8" fill-opacity="0.85"/><text x="499.80" y="362.20" font-size="8.3" text-anchor="start" fill="#222" stroke="#222" stroke-width="0.2" >Cell type</text><circle cx="503.30" cy="375.40" r="2.50" fill="#d95f02" stroke="none" stroke-width="0" /><text x="511.50" y="378.40" font-size="8.3" text-anchor="start" fill="#222" stroke="#222" stroke-width="0.2" >Tumor</text><circle cx="503.30" cy="391.20" r="2.50" fill="#7570b3" stroke="none" stroke-width="0" /><text x="510.70" y="394.20" font-size="8.3" text-anchor="start" fill="#222" stroke="#222" stroke-width="0.2" >Immune</text><circle cx="503.30" cy="406.60" r="2.50" fill="#d9d9d9" stroke="none" stroke-width="0" /><text x="510.70" y="409.60" font-size="8.3" text-anchor="start" fill="#222" stroke="#222" stroke-width="0.2" >Others</text><defs><clipPath id="cg0"><rect x="79.1" y="414.8" width="174.8" height="64.1"/></clipPath><clipPath id="cb0"><rect x="253.9" y="414.8" width="57.99999999999997" height="64.1"/></clipPath><clipPath id="cy0"><rect x="311.9" y="414.8" width="174.10000000000002" height="64.1"/></clipPath><clipPath id="cg1"><rect x="79.1" y="482.0" width="174.8" height="64.1"/></clipPath><clipPath id="cb1"><rect x="253.9" y="482.0" width="57.99999999999997" height="64.1"/></clipPath><clipPath id="cy1"><rect x="311.9" y="482.0" width="174.10000000000002" height="64.1"/></clipPath><clipPath id="cg2"><rect x="79.1" y="549.4" width="174.8" height="64.1"/></clipPath><clipPath id="cb2"><rect x="253.9" y="549.4" width="57.99999999999997" height="64.1"/></clipPath><clipPath id="cy2"><rect x="311.9" y="549.4" width="174.10000000000002" height="64.1"/></clipPath><clipPath id="cg3"><rect x="79.1" y="616.9" width="174.8" height="64.1"/></clipPath><clipPath id="cb3"><rect x="253.9" y="616.9" width="57.99999999999997" height="64.1"/></clipPath><clipPath id="cy3"><rect x="311.9" y="616.9" width="174.10000000000002" height="64.1"/></clipPath><clipPath id="cg4"><rect x="79.1" y="684.3" width="174.8" height="64.1"/></clipPath><clipPath id="cb4"><rect x="253.9" y="684.3" width="57.99999999999997" height="64.1"/></clipPath><clipPath id="cy4"><rect x="311.9" y="684.3" width="174.10000000000002" height="64.1"/></clipPath><clipPath id="cg5"><rect x="79.1" y="751.8" width="174.8" height="64.1"/></clipPath><clipPath id="cb5"><rect x="253.9" y="751.8" width="57.99999999999997" height="64.1"/></clipPath><clipPath id="cy5"><rect x="311.9" y="751.8" width="174.10000000000002" height="64.1"/></clipPath><clipPath id="cg6"><rect x="79.1" y="819.3" width="174.8" height="64.1"/></clipPath><clipPath id="cb6"><rect x="253.9" y="819.3" width="57.99999999999997" height="64.1"/></clipPath><clipPath id="cy6"><rect x="311.9" y="819.3" width="174.10000000000002" height="64.1"/></clipPath></defs><rect x="79.1" y="414.8" width="174.8" height="64.1" fill="#a3d69c"/><rect x="253.9" y="414.8" width="57.99999999999997" height="64.1" fill="#a0d5ea"/><rect x="311.9" y="414.8" width="174.10000000000002" height="64.1" fill="#eed69c"/><line x1="79.1" y1="421.64" x2="253.9" y2="421.64" stroke="#b3dfad" stroke-width="0.9"/><line x1="79.1" y1="429.03" x2="253.9" y2="429.03" stroke="#b3dfad" stroke-width="0.9"/><line x1="79.1" y1="436.43" x2="253.9" y2="436.43" stroke="#b3dfad" stroke-width="0.9"/><line x1="79.1" y1="443.82" x2="253.9" y2="443.82" stroke="#b3dfad" stroke-width="0.9"/><line x1="79.1" y1="451.22" x2="253.9" y2="451.22" stroke="#b3dfad" stroke-width="0.9"/><line x1="79.1" y1="458.61" x2="253.9" y2="458.61" stroke="#b3dfad" stroke-width="0.9"/><line x1="79.1" y1="466.01" x2="253.9" y2="466.01" stroke="#b3dfad" stroke-width="0.9"/><line x1="79.1" y1="473.40" x2="253.9" y2="473.40" stroke="#b3dfad" stroke-width="0.9"/><line x1="253.9" y1="421.64" x2="311.9" y2="421.64" stroke="#b3def0" stroke-width="0.9"/><line x1="253.9" y1="429.03" x2="311.9" y2="429.03" stroke="#b3def0" stroke-width="0.9"/><line x1="253.9" y1="436.43" x2="311.9" y2="436.43" stroke="#b3def0" stroke-width="0.9"/><line x1="253.9" y1="443.82" x2="311.9" y2="443.82" stroke="#b3def0" stroke-width="0.9"/><line x1="253.9" y1="451.22" x2="311.9" y2="451.22" stroke="#b3def0" stroke-width="0.9"/><line x1="253.9" y1="458.61" x2="311.9" y2="458.61" stroke="#b3def0" stroke-width="0.9"/><line x1="253.9" y1="466.01" x2="311.9" y2="466.01" stroke="#b3def0" stroke-width="0.9"/><line x1="253.9" y1="473.40" x2="311.9" y2="473.40" stroke="#b3def0" stroke-width="0.9"/><line x1="311.9" y1="421.64" x2="486.0" y2="421.64" stroke="#f4e0b2" stroke-width="0.9"/><line x1="311.9" y1="429.03" x2="486.0" y2="429.03" stroke="#f4e0b2" stroke-width="0.9"/><line x1="311.9" y1="436.43" x2="486.0" y2="436.43" stroke="#f4e0b2" stroke-width="0.9"/><line x1="311.9" y1="443.82" x2="486.0" y2="443.82" stroke="#f4e0b2" stroke-width="0.9"/><line x1="311.9" y1="451.22" x2="486.0" y2="451.22" stroke="#f4e0b2" stroke-width="0.9"/><line x1="311.9" y1="458.61" x2="486.0" y2="458.61" stroke="#f4e0b2" stroke-width="0.9"/><line x1="311.9" y1="466.01" x2="486.0" y2="466.01" stroke="#f4e0b2" stroke-width="0.9"/><line x1="311.9" y1="473.40" x2="486.0" y2="473.40" stroke="#f4e0b2" stroke-width="0.9"/><line x1="112.59" y1="414.8" x2="112.59" y2="478.9" stroke="#b3dfad" stroke-width="1.6"/><line x1="169.26" y1="414.8" x2="169.26" y2="478.9" stroke="#b3dfad" stroke-width="1.6"/><line x1="225.93" y1="414.8" x2="225.93" y2="478.9" stroke="#b3dfad" stroke-width="1.6"/><line x1="282.60" y1="414.8" x2="282.60" y2="478.9" stroke="#b3def0" stroke-width="1.6"/><line x1="339.27" y1="414.8" x2="339.27" y2="478.9" stroke="#f4e0b2" stroke-width="1.6"/><line x1="395.94" y1="414.8" x2="395.94" y2="478.9" stroke="#f4e0b2" stroke-width="1.6"/><line x1="452.61" y1="414.8" x2="452.61" y2="478.9" stroke="#f4e0b2" stroke-width="1.6"/><line x1="75.1" y1="421.64" x2="79.1" y2="421.64" stroke="#222" stroke-width="1.25"/><text transform="translate(72,425.04) scale(0.8,1)" font-size="8.4" text-anchor="end" fill="#333" stroke="#333" stroke-width="0.12">1250</text><line x1="75.1" y1="436.43" x2="79.1" y2="436.43" stroke="#222" stroke-width="1.25"/><text transform="translate(72,439.83) scale(0.8,1)" font-size="8.4" text-anchor="end" fill="#333" stroke="#333" stroke-width="0.12">1000</text><line x1="75.1" y1="451.21999999999997" x2="79.1" y2="451.21999999999997" stroke="#222" stroke-width="1.25"/><text transform="translate(72,454.62) scale(0.8,1)" font-size="8.4" text-anchor="end" fill="#333" stroke="#333" stroke-width="0.12">750</text><line x1="75.1" y1="466.01" x2="79.1" y2="466.01" stroke="#222" stroke-width="1.25"/><text transform="translate(72,469.41) scale(0.8,1)" font-size="8.4" text-anchor="end" fill="#333" stroke="#333" stroke-width="0.12">500</text><polyline clip-path="url(#cg0)" points="112.59,417.20 169.26,441.10 225.93,457.30 282.60,468.00 339.27,475.20 395.94,474.60 452.61,474.60" fill="none" stroke="#bd4c18" stroke-width="1.4" stroke-dasharray="13.6,6"/><polyline clip-path="url(#cb0)" points="112.59,417.20 169.26,441.10 225.93,457.30 282.60,468.00 339.27,475.20 395.94,474.60 452.61,474.60" fill="none" stroke="#bc4866" stroke-width="1.4" stroke-dasharray="13.6,6"/><polyline clip-path="url(#cy0)" points="112.59,417.20 169.26,441.10 225.93,457.30 282.60,468.00 339.27,475.20 395.94,474.60 452.61,474.60" fill="none" stroke="#ff4812" stroke-width="1.4" stroke-dasharray="13.6,6"/><circle cx="112.59" cy="417.20" r="2.80" fill="#0b380d" stroke="none" stroke-width="0" /><circle cx="169.26" cy="441.10" r="2.80" fill="#0b380d" stroke="none" stroke-width="0" /><circle cx="225.93" cy="457.30" r="2.80" fill="#0b380d" stroke="none" stroke-width="0" /><circle cx="282.60" cy="468.00" r="2.80" fill="#0c384c" stroke="none" stroke-width="0" /><circle cx="339.27" cy="475.20" r="2.80" fill="#4a380e" stroke="none" stroke-width="0" /><circle cx="395.94" cy="474.60" r="2.80" fill="#4a380e" stroke="none" stroke-width="0" /><circle cx="452.61" cy="474.60" r="2.80" fill="#4a380e" stroke="none" stroke-width="0" /><text x="552.60" y="441.80" font-size="9.65" text-anchor="middle" fill="#1a1a1a" stroke="#1a1a1a" stroke-width="0.2" >Average pairwise</text><text x="554.40" y="453.70" font-size="9.65" text-anchor="middle" fill="#1a1a1a" stroke="#1a1a1a" stroke-width="0.2" >distance (APD)</text><rect x="79.1" y="482.0" width="174.8" height="64.1" fill="#a3d69c"/><rect x="253.9" y="482.0" width="57.99999999999997" height="64.1" fill="#a0d5ea"/><rect x="311.9" y="482.0" width="174.10000000000002" height="64.1" fill="#eed69c"/><line x1="79.1" y1="489.32" x2="253.9" y2="489.32" stroke="#b3dfad" stroke-width="0.9"/><line x1="79.1" y1="496.97" x2="253.9" y2="496.97" stroke="#b3dfad" stroke-width="0.9"/><line x1="79.1" y1="504.61" x2="253.9" y2="504.61" stroke="#b3dfad" stroke-width="0.9"/><line x1="79.1" y1="512.26" x2="253.9" y2="512.26" stroke="#b3dfad" stroke-width="0.9"/><line x1="79.1" y1="519.90" x2="253.9" y2="519.90" stroke="#b3dfad" stroke-width="0.9"/><line x1="79.1" y1="527.55" x2="253.9" y2="527.55" stroke="#b3dfad" stroke-width="0.9"/><line x1="79.1" y1="535.19" x2="253.9" y2="535.19" stroke="#b3dfad" stroke-width="0.9"/><line x1="79.1" y1="542.84" x2="253.9" y2="542.84" stroke="#b3dfad" stroke-width="0.9"/><line x1="253.9" y1="489.32" x2="311.9" y2="489.32" stroke="#b3def0" stroke-width="0.9"/><line x1="253.9" y1="496.97" x2="311.9" y2="496.97" stroke="#b3def0" stroke-width="0.9"/><line x1="253.9" y1="504.61" x2="311.9" y2="504.61" stroke="#b3def0" stroke-width="0.9"/><line x1="253.9" y1="512.26" x2="311.9" y2="512.26" stroke="#b3def0" stroke-width="0.9"/><line x1="253.9" y1="519.90" x2="311.9" y2="519.90" stroke="#b3def0" stroke-width="0.9"/><line x1="253.9" y1="527.55" x2="311.9" y2="527.55" stroke="#b3def0" stroke-width="0.9"/><line x1="253.9" y1="535.19" x2="311.9" y2="535.19" stroke="#b3def0" stroke-width="0.9"/><line x1="253.9" y1="542.84" x2="311.9" y2="542.84" stroke="#b3def0" stroke-width="0.9"/><line x1="311.9" y1="489.32" x2="486.0" y2="489.32" stroke="#f4e0b2" stroke-width="0.9"/><line x1="311.9" y1="496.97" x2="486.0" y2="496.97" stroke="#f4e0b2" stroke-width="0.9"/><line x1="311.9" y1="504.61" x2="486.0" y2="504.61" stroke="#f4e0b2" stroke-width="0.9"/><line x1="311.9" y1="512.26" x2="486.0" y2="512.26" stroke="#f4e0b2" stroke-width="0.9"/><line x1="311.9" y1="519.90" x2="486.0" y2="519.90" stroke="#f4e0b2" stroke-width="0.9"/><line x1="311.9" y1="527.55" x2="486.0" y2="527.55" stroke="#f4e0b2" stroke-width="0.9"/><line x1="311.9" y1="535.19" x2="486.0" y2="535.19" stroke="#f4e0b2" stroke-width="0.9"/><line x1="311.9" y1="542.84" x2="486.0" y2="542.84" stroke="#f4e0b2" stroke-width="0.9"/><line x1="112.59" y1="482.0" x2="112.59" y2="546.1" stroke="#b3dfad" stroke-width="1.6"/><line x1="169.26" y1="482.0" x2="169.26" y2="546.1" stroke="#b3dfad" stroke-width="1.6"/><line x1="225.93" y1="482.0" x2="225.93" y2="546.1" stroke="#b3dfad" stroke-width="1.6"/><line x1="282.60" y1="482.0" x2="282.60" y2="546.1" stroke="#b3def0" stroke-width="1.6"/><line x1="339.27" y1="482.0" x2="339.27" y2="546.1" stroke="#f4e0b2" stroke-width="1.6"/><line x1="395.94" y1="482.0" x2="395.94" y2="546.1" stroke="#f4e0b2" stroke-width="1.6"/><line x1="452.61" y1="482.0" x2="452.61" y2="546.1" stroke="#f4e0b2" stroke-width="1.6"/><line x1="75.1" y1="481.67999999999995" x2="79.1" y2="481.67999999999995" stroke="#222" stroke-width="1.25"/><text transform="translate(72,485.08) scale(0.8,1)" font-size="8.4" text-anchor="end" fill="#333" stroke="#333" stroke-width="0.12">1000</text><line x1="75.1" y1="496.96999999999997" x2="79.1" y2="496.96999999999997" stroke="#222" stroke-width="1.25"/><text transform="translate(72,500.37) scale(0.8,1)" font-size="8.4" text-anchor="end" fill="#333" stroke="#333" stroke-width="0.12">750</text><line x1="75.1" y1="512.26" x2="79.1" y2="512.26" stroke="#222" stroke-width="1.25"/><text transform="translate(72,515.66) scale(0.8,1)" font-size="8.4" text-anchor="end" fill="#333" stroke="#333" stroke-width="0.12">500</text><line x1="75.1" y1="527.55" x2="79.1" y2="527.55" stroke="#222" stroke-width="1.25"/><text transform="translate(72,530.95) scale(0.8,1)" font-size="8.4" text-anchor="end" fill="#333" stroke="#333" stroke-width="0.12">250</text><line x1="75.1" y1="542.84" x2="79.1" y2="542.84" stroke="#222" stroke-width="1.25"/><text transform="translate(72,546.24) scale(0.8,1)" font-size="8.4" text-anchor="end" fill="#333" stroke="#333" stroke-width="0.12">0</text><polyline clip-path="url(#cg1)" points="112.59,483.60 169.26,508.70 225.93,526.70 282.60,539.30 339.27,541.70 395.94,541.70 452.61,541.70" fill="none" stroke="#bd4c18" stroke-width="1.4" stroke-dasharray="13.6,6"/><polyline clip-path="url(#cb1)" points="112.59,483.60 169.26,508.70 225.93,526.70 282.60,539.30 339.27,541.70 395.94,541.70 452.61,541.70" fill="none" stroke="#bc4866" stroke-width="1.4" stroke-dasharray="13.6,6"/><polyline clip-path="url(#cy1)" points="112.59,483.60 169.26,508.70 225.93,526.70 282.60,539.30 339.27,541.70 395.94,541.70 452.61,541.70" fill="none" stroke="#ff4812" stroke-width="1.4" stroke-dasharray="13.6,6"/><circle cx="112.59" cy="483.60" r="2.80" fill="#0b380d" stroke="none" stroke-width="0" /><circle cx="169.26" cy="508.70" r="2.80" fill="#0b380d" stroke="none" stroke-width="0" /><circle cx="225.93" cy="526.70" r="2.80" fill="#0b380d" stroke="none" stroke-width="0" /><circle cx="282.60" cy="539.30" r="2.80" fill="#0c384c" stroke="none" stroke-width="0" /><circle cx="339.27" cy="541.70" r="2.80" fill="#4a380e" stroke="none" stroke-width="0" /><circle cx="395.94" cy="541.70" r="2.80" fill="#4a380e" stroke="none" stroke-width="0" /><circle cx="452.61" cy="541.70" r="2.80" fill="#4a380e" stroke="none" stroke-width="0" /><text x="550.90" y="507.10" font-size="9.65" text-anchor="middle" fill="#1a1a1a" stroke="#1a1a1a" stroke-width="0.2" >Average minimum</text><text x="552.70" y="519.00" font-size="9.65" text-anchor="middle" fill="#1a1a1a" stroke="#1a1a1a" stroke-width="0.2" >distance (AMD)</text><rect x="79.1" y="549.4" width="174.8" height="64.1" fill="#a3d69c"/><rect x="253.9" y="549.4" width="57.99999999999997" height="64.1" fill="#a0d5ea"/><rect x="311.9" y="549.4" width="174.10000000000002" height="64.1" fill="#eed69c"/><line x1="79.1" y1="554.78" x2="253.9" y2="554.78" stroke="#b3dfad" stroke-width="0.9"/><line x1="79.1" y1="561.68" x2="253.9" y2="561.68" stroke="#b3dfad" stroke-width="0.9"/><line x1="79.1" y1="568.58" x2="253.9" y2="568.58" stroke="#b3dfad" stroke-width="0.9"/><line x1="79.1" y1="575.48" x2="253.9" y2="575.48" stroke="#b3dfad" stroke-width="0.9"/><line x1="79.1" y1="582.38" x2="253.9" y2="582.38" stroke="#b3dfad" stroke-width="0.9"/><line x1="79.1" y1="589.28" x2="253.9" y2="589.28" stroke="#b3dfad" stroke-width="0.9"/><line x1="79.1" y1="596.18" x2="253.9" y2="596.18" stroke="#b3dfad" stroke-width="0.9"/><line x1="79.1" y1="603.08" x2="253.9" y2="603.08" stroke="#b3dfad" stroke-width="0.9"/><line x1="79.1" y1="609.98" x2="253.9" y2="609.98" stroke="#b3dfad" stroke-width="0.9"/><line x1="253.9" y1="554.78" x2="311.9" y2="554.78" stroke="#b3def0" stroke-width="0.9"/><line x1="253.9" y1="561.68" x2="311.9" y2="561.68" stroke="#b3def0" stroke-width="0.9"/><line x1="253.9" y1="568.58" x2="311.9" y2="568.58" stroke="#b3def0" stroke-width="0.9"/><line x1="253.9" y1="575.48" x2="311.9" y2="575.48" stroke="#b3def0" stroke-width="0.9"/><line x1="253.9" y1="582.38" x2="311.9" y2="582.38" stroke="#b3def0" stroke-width="0.9"/><line x1="253.9" y1="589.28" x2="311.9" y2="589.28" stroke="#b3def0" stroke-width="0.9"/><line x1="253.9" y1="596.18" x2="311.9" y2="596.18" stroke="#b3def0" stroke-width="0.9"/><line x1="253.9" y1="603.08" x2="311.9" y2="603.08" stroke="#b3def0" stroke-width="0.9"/><line x1="253.9" y1="609.98" x2="311.9" y2="609.98" stroke="#b3def0" stroke-width="0.9"/><line x1="311.9" y1="554.78" x2="486.0" y2="554.78" stroke="#f4e0b2" stroke-width="0.9"/><line x1="311.9" y1="561.68" x2="486.0" y2="561.68" stroke="#f4e0b2" stroke-width="0.9"/><line x1="311.9" y1="568.58" x2="486.0" y2="568.58" stroke="#f4e0b2" stroke-width="0.9"/><line x1="311.9" y1="575.48" x2="486.0" y2="575.48" stroke="#f4e0b2" stroke-width="0.9"/><line x1="311.9" y1="582.38" x2="486.0" y2="582.38" stroke="#f4e0b2" stroke-width="0.9"/><line x1="311.9" y1="589.28" x2="486.0" y2="589.28" stroke="#f4e0b2" stroke-width="0.9"/><line x1="311.9" y1="596.18" x2="486.0" y2="596.18" stroke="#f4e0b2" stroke-width="0.9"/><line x1="311.9" y1="603.08" x2="486.0" y2="603.08" stroke="#f4e0b2" stroke-width="0.9"/><line x1="311.9" y1="609.98" x2="486.0" y2="609.98" stroke="#f4e0b2" stroke-width="0.9"/><line x1="112.59" y1="549.4" x2="112.59" y2="613.5" stroke="#b3dfad" stroke-width="1.6"/><line x1="169.26" y1="549.4" x2="169.26" y2="613.5" stroke="#b3dfad" stroke-width="1.6"/><line x1="225.93" y1="549.4" x2="225.93" y2="613.5" stroke="#b3dfad" stroke-width="1.6"/><line x1="282.60" y1="549.4" x2="282.60" y2="613.5" stroke="#b3def0" stroke-width="1.6"/><line x1="339.27" y1="549.4" x2="339.27" y2="613.5" stroke="#f4e0b2" stroke-width="1.6"/><line x1="395.94" y1="549.4" x2="395.94" y2="613.5" stroke="#f4e0b2" stroke-width="1.6"/><line x1="452.61" y1="549.4" x2="452.61" y2="613.5" stroke="#f4e0b2" stroke-width="1.6"/><line x1="75.1" y1="554.78" x2="79.1" y2="554.78" stroke="#222" stroke-width="1.25"/><text transform="translate(72,558.18) scale(0.8,1)" font-size="8.4" text-anchor="end" fill="#333" stroke="#333" stroke-width="0.12">1.0</text><line x1="75.1" y1="568.5799999999999" x2="79.1" y2="568.5799999999999" stroke="#222" stroke-width="1.25"/><text transform="translate(72,571.98) scale(0.8,1)" font-size="8.4" text-anchor="end" fill="#333" stroke="#333" stroke-width="0.12">0.75</text><line x1="75.1" y1="582.38" x2="79.1" y2="582.38" stroke="#222" stroke-width="1.25"/><text transform="translate(72,585.78) scale(0.8,1)" font-size="8.4" text-anchor="end" fill="#333" stroke="#333" stroke-width="0.12">0.5</text><line x1="75.1" y1="596.1800000000001" x2="79.1" y2="596.1800000000001" stroke="#222" stroke-width="1.25"/><text transform="translate(72,599.58) scale(0.8,1)" font-size="8.4" text-anchor="end" fill="#333" stroke="#333" stroke-width="0.12">0.25</text><line x1="75.1" y1="609.98" x2="79.1" y2="609.98" stroke="#222" stroke-width="1.25"/><text transform="translate(72,613.38) scale(0.8,1)" font-size="8.4" text-anchor="end" fill="#333" stroke="#333" stroke-width="0.12">0.0</text><polyline clip-path="url(#cg2)" points="112.59,610.50 169.26,608.70 225.93,590.70 282.60,571.60 339.27,551.80 395.94,554.80 452.61,554.80" fill="none" stroke="#bd4c18" stroke-width="1.4" stroke-dasharray="13.6,6"/><polyline clip-path="url(#cb2)" points="112.59,610.50 169.26,608.70 225.93,590.70 282.60,571.60 339.27,551.80 395.94,554.80 452.61,554.80" fill="none" stroke="#bc4866" stroke-width="1.4" stroke-dasharray="13.6,6"/><polyline clip-path="url(#cy2)" points="112.59,610.50 169.26,608.70 225.93,590.70 282.60,571.60 339.27,551.80 395.94,554.80 452.61,554.80" fill="none" stroke="#ff4812" stroke-width="1.4" stroke-dasharray="13.6,6"/><circle cx="112.59" cy="610.50" r="2.80" fill="#0b380d" stroke="none" stroke-width="0" /><circle cx="169.26" cy="608.70" r="2.80" fill="#0b380d" stroke="none" stroke-width="0" /><circle cx="225.93" cy="590.70" r="2.80" fill="#0b380d" stroke="none" stroke-width="0" /><circle cx="282.60" cy="571.60" r="2.80" fill="#0c384c" stroke="none" stroke-width="0" /><circle cx="339.27" cy="551.80" r="2.80" fill="#4a380e" stroke="none" stroke-width="0" /><circle cx="395.94" cy="554.80" r="2.80" fill="#4a380e" stroke="none" stroke-width="0" /><circle cx="452.61" cy="554.80" r="2.80" fill="#4a380e" stroke="none" stroke-width="0" /><text x="549.50" y="572.40" font-size="9.65" text-anchor="middle" fill="#1a1a1a" stroke="#1a1a1a" stroke-width="0.2" >Normalized mixing</text><text x="550.60" y="584.20" font-size="9.65" text-anchor="middle" fill="#1a1a1a" stroke="#1a1a1a" stroke-width="0.2" >score (NMS)</text><rect x="79.1" y="616.9" width="174.8" height="64.1" fill="#a3d69c"/><rect x="253.9" y="616.9" width="57.99999999999997" height="64.1" fill="#a0d5ea"/><rect x="311.9" y="616.9" width="174.10000000000002" height="64.1" fill="#eed69c"/><line x1="79.1" y1="618.22" x2="253.9" y2="618.22" stroke="#b3dfad" stroke-width="0.9"/><line x1="79.1" y1="626.45" x2="253.9" y2="626.45" stroke="#b3dfad" stroke-width="0.9"/><line x1="79.1" y1="634.69" x2="253.9" y2="634.69" stroke="#b3dfad" stroke-width="0.9"/><line x1="79.1" y1="642.92" x2="253.9" y2="642.92" stroke="#b3dfad" stroke-width="0.9"/><line x1="79.1" y1="651.16" x2="253.9" y2="651.16" stroke="#b3dfad" stroke-width="0.9"/><line x1="79.1" y1="659.39" x2="253.9" y2="659.39" stroke="#b3dfad" stroke-width="0.9"/><line x1="79.1" y1="667.63" x2="253.9" y2="667.63" stroke="#b3dfad" stroke-width="0.9"/><line x1="79.1" y1="675.87" x2="253.9" y2="675.87" stroke="#b3dfad" stroke-width="0.9"/><line x1="253.9" y1="618.22" x2="311.9" y2="618.22" stroke="#b3def0" stroke-width="0.9"/><line x1="253.9" y1="626.45" x2="311.9" y2="626.45" stroke="#b3def0" stroke-width="0.9"/><line x1="253.9" y1="634.69" x2="311.9" y2="634.69" stroke="#b3def0" stroke-width="0.9"/><line x1="253.9" y1="642.92" x2="311.9" y2="642.92" stroke="#b3def0" stroke-width="0.9"/><line x1="253.9" y1="651.16" x2="311.9" y2="651.16" stroke="#b3def0" stroke-width="0.9"/><line x1="253.9" y1="659.39" x2="311.9" y2="659.39" stroke="#b3def0" stroke-width="0.9"/><line x1="253.9" y1="667.63" x2="311.9" y2="667.63" stroke="#b3def0" stroke-width="0.9"/><line x1="253.9" y1="675.87" x2="311.9" y2="675.87" stroke="#b3def0" stroke-width="0.9"/><line x1="311.9" y1="618.22" x2="486.0" y2="618.22" stroke="#f4e0b2" stroke-width="0.9"/><line x1="311.9" y1="626.45" x2="486.0" y2="626.45" stroke="#f4e0b2" stroke-width="0.9"/><line x1="311.9" y1="634.69" x2="486.0" y2="634.69" stroke="#f4e0b2" stroke-width="0.9"/><line x1="311.9" y1="642.92" x2="486.0" y2="642.92" stroke="#f4e0b2" stroke-width="0.9"/><line x1="311.9" y1="651.16" x2="486.0" y2="651.16" stroke="#f4e0b2" stroke-width="0.9"/><line x1="311.9" y1="659.39" x2="486.0" y2="659.39" stroke="#f4e0b2" stroke-width="0.9"/><line x1="311.9" y1="667.63" x2="486.0" y2="667.63" stroke="#f4e0b2" stroke-width="0.9"/><line x1="311.9" y1="675.87" x2="486.0" y2="675.87" stroke="#f4e0b2" stroke-width="0.9"/><line x1="112.59" y1="616.9" x2="112.59" y2="681.0" stroke="#b3dfad" stroke-width="1.6"/><line x1="169.26" y1="616.9" x2="169.26" y2="681.0" stroke="#b3dfad" stroke-width="1.6"/><line x1="225.93" y1="616.9" x2="225.93" y2="681.0" stroke="#b3dfad" stroke-width="1.6"/><line x1="282.60" y1="616.9" x2="282.60" y2="681.0" stroke="#b3def0" stroke-width="1.6"/><line x1="339.27" y1="616.9" x2="339.27" y2="681.0" stroke="#f4e0b2" stroke-width="1.6"/><line x1="395.94" y1="616.9" x2="395.94" y2="681.0" stroke="#f4e0b2" stroke-width="1.6"/><line x1="452.61" y1="616.9" x2="452.61" y2="681.0" stroke="#f4e0b2" stroke-width="1.6"/><line x1="75.1" y1="618.2199999999999" x2="79.1" y2="618.2199999999999" stroke="#222" stroke-width="1.25"/><text transform="translate(72,621.62) scale(0.8,1)" font-size="8.4" text-anchor="end" fill="#333" stroke="#333" stroke-width="0.12">0.4</text><line x1="75.1" y1="634.6899999999999" x2="79.1" y2="634.6899999999999" stroke="#222" stroke-width="1.25"/><text transform="translate(72,638.09) scale(0.8,1)" font-size="8.4" text-anchor="end" fill="#333" stroke="#333" stroke-width="0.12">0.2</text><line x1="75.1" y1="651.16" x2="79.1" y2="651.16" stroke="#222" stroke-width="1.25"/><text transform="translate(72,654.56) scale(0.8,1)" font-size="8.4" text-anchor="end" fill="#333" stroke="#333" stroke-width="0.12">0.0</text><line x1="75.1" y1="667.63" x2="79.1" y2="667.63" stroke="#222" stroke-width="1.25"/><text transform="translate(72,671.03) scale(0.8,1)" font-size="8.4" text-anchor="end" fill="#333" stroke="#333" stroke-width="0.12">-0.2</text><polyline clip-path="url(#cg3)" points="112.59,678.20 169.26,675.80 225.93,641.10 282.60,632.10 339.27,619.60 395.94,620.80 452.61,620.80" fill="none" stroke="#bd4c18" stroke-width="1.4" stroke-dasharray="13.6,6"/><polyline clip-path="url(#cb3)" points="112.59,678.20 169.26,675.80 225.93,641.10 282.60,632.10 339.27,619.60 395.94,620.80 452.61,620.80" fill="none" stroke="#bc4866" stroke-width="1.4" stroke-dasharray="13.6,6"/><polyline clip-path="url(#cy3)" points="112.59,678.20 169.26,675.80 225.93,641.10 282.60,632.10 339.27,619.60 395.94,620.80 452.61,620.80" fill="none" stroke="#ff4812" stroke-width="1.4" stroke-dasharray="13.6,6"/><circle cx="112.59" cy="678.20" r="2.80" fill="#0b380d" stroke="none" stroke-width="0" /><circle cx="169.26" cy="675.80" r="2.80" fill="#0b380d" stroke="none" stroke-width="0" /><circle cx="225.93" cy="641.10" r="2.80" fill="#0b380d" stroke="none" stroke-width="0" /><circle cx="282.60" cy="632.10" r="2.80" fill="#0c384c" stroke="none" stroke-width="0" /><circle cx="339.27" cy="619.60" r="2.80" fill="#4a380e" stroke="none" stroke-width="0" /><circle cx="395.94" cy="620.80" r="2.80" fill="#4a380e" stroke="none" stroke-width="0" /><circle cx="452.61" cy="620.80" r="2.80" fill="#4a380e" stroke="none" stroke-width="0" /><text x="550.80" y="651.20" font-size="9.65" text-anchor="middle" fill="#1a1a1a" stroke="#1a1a1a" stroke-width="0.2" >Cross-K AUC</text><rect x="79.1" y="684.3" width="174.8" height="64.1" fill="#a3d69c"/><rect x="253.9" y="684.3" width="57.99999999999997" height="64.1" fill="#a0d5ea"/><rect x="311.9" y="684.3" width="174.10000000000002" height="64.1" fill="#eed69c"/><line x1="79.1" y1="689.90" x2="253.9" y2="689.90" stroke="#b3dfad" stroke-width="0.9"/><line x1="79.1" y1="699.12" x2="253.9" y2="699.12" stroke="#b3dfad" stroke-width="0.9"/><line x1="79.1" y1="708.35" x2="253.9" y2="708.35" stroke="#b3dfad" stroke-width="0.9"/><line x1="79.1" y1="717.58" x2="253.9" y2="717.58" stroke="#b3dfad" stroke-width="0.9"/><line x1="79.1" y1="726.80" x2="253.9" y2="726.80" stroke="#b3dfad" stroke-width="0.9"/><line x1="79.1" y1="736.03" x2="253.9" y2="736.03" stroke="#b3dfad" stroke-width="0.9"/><line x1="79.1" y1="745.25" x2="253.9" y2="745.25" stroke="#b3dfad" stroke-width="0.9"/><line x1="253.9" y1="689.90" x2="311.9" y2="689.90" stroke="#b3def0" stroke-width="0.9"/><line x1="253.9" y1="699.12" x2="311.9" y2="699.12" stroke="#b3def0" stroke-width="0.9"/><line x1="253.9" y1="708.35" x2="311.9" y2="708.35" stroke="#b3def0" stroke-width="0.9"/><line x1="253.9" y1="717.58" x2="311.9" y2="717.58" stroke="#b3def0" stroke-width="0.9"/><line x1="253.9" y1="726.80" x2="311.9" y2="726.80" stroke="#b3def0" stroke-width="0.9"/><line x1="253.9" y1="736.03" x2="311.9" y2="736.03" stroke="#b3def0" stroke-width="0.9"/><line x1="253.9" y1="745.25" x2="311.9" y2="745.25" stroke="#b3def0" stroke-width="0.9"/><line x1="311.9" y1="689.90" x2="486.0" y2="689.90" stroke="#f4e0b2" stroke-width="0.9"/><line x1="311.9" y1="699.12" x2="486.0" y2="699.12" stroke="#f4e0b2" stroke-width="0.9"/><line x1="311.9" y1="708.35" x2="486.0" y2="708.35" stroke="#f4e0b2" stroke-width="0.9"/><line x1="311.9" y1="717.58" x2="486.0" y2="717.58" stroke="#f4e0b2" stroke-width="0.9"/><line x1="311.9" y1="726.80" x2="486.0" y2="726.80" stroke="#f4e0b2" stroke-width="0.9"/><line x1="311.9" y1="736.03" x2="486.0" y2="736.03" stroke="#f4e0b2" stroke-width="0.9"/><line x1="311.9" y1="745.25" x2="486.0" y2="745.25" stroke="#f4e0b2" stroke-width="0.9"/><line x1="112.59" y1="684.3" x2="112.59" y2="748.4" stroke="#b3dfad" stroke-width="1.6"/><line x1="169.26" y1="684.3" x2="169.26" y2="748.4" stroke="#b3dfad" stroke-width="1.6"/><line x1="225.93" y1="684.3" x2="225.93" y2="748.4" stroke="#b3dfad" stroke-width="1.6"/><line x1="282.60" y1="684.3" x2="282.60" y2="748.4" stroke="#b3def0" stroke-width="1.6"/><line x1="339.27" y1="684.3" x2="339.27" y2="748.4" stroke="#f4e0b2" stroke-width="1.6"/><line x1="395.94" y1="684.3" x2="395.94" y2="748.4" stroke="#f4e0b2" stroke-width="1.6"/><line x1="452.61" y1="684.3" x2="452.61" y2="748.4" stroke="#f4e0b2" stroke-width="1.6"/><line x1="75.1" y1="689.9" x2="79.1" y2="689.9" stroke="#222" stroke-width="1.25"/><text transform="translate(72,693.30) scale(0.8,1)" font-size="8.4" text-anchor="end" fill="#333" stroke="#333" stroke-width="0.12">30</text><line x1="75.1" y1="708.35" x2="79.1" y2="708.35" stroke="#222" stroke-width="1.25"/><text transform="translate(72,711.75) scale(0.8,1)" font-size="8.4" text-anchor="end" fill="#333" stroke="#333" stroke-width="0.12">20</text><line x1="75.1" y1="726.8000000000001" x2="79.1" y2="726.8000000000001" stroke="#222" stroke-width="1.25"/><text transform="translate(72,730.20) scale(0.8,1)" font-size="8.4" text-anchor="end" fill="#333" stroke="#333" stroke-width="0.12">10</text><line x1="75.1" y1="745.2500000000001" x2="79.1" y2="745.2500000000001" stroke="#222" stroke-width="1.25"/><text transform="translate(72,748.65) scale(0.8,1)" font-size="8.4" text-anchor="end" fill="#333" stroke="#333" stroke-width="0.12">0</text><polyline clip-path="url(#cg4)" points="112.59,745.20 169.26,745.20 225.93,741.70 282.60,714.10 339.27,734.50 395.94,710.50 452.61,687.20" fill="none" stroke="#bd4c18" stroke-width="1.4" stroke-dasharray="13.6,6"/><polyline clip-path="url(#cb4)" points="112.59,745.20 169.26,745.20 225.93,741.70 282.60,714.10 339.27,734.50 395.94,710.50 452.61,687.20" fill="none" stroke="#bc4866" stroke-width="1.4" stroke-dasharray="13.6,6"/><polyline clip-path="url(#cy4)" points="112.59,745.20 169.26,745.20 225.93,741.70 282.60,714.10 339.27,734.50 395.94,710.50 452.61,687.20" fill="none" stroke="#ff4812" stroke-width="1.4" stroke-dasharray="13.6,6"/><circle cx="112.59" cy="745.20" r="2.80" fill="#0b380d" stroke="none" stroke-width="0" /><circle cx="169.26" cy="745.20" r="2.80" fill="#0b380d" stroke="none" stroke-width="0" /><circle cx="225.93" cy="741.70" r="2.80" fill="#0b380d" stroke="none" stroke-width="0" /><circle cx="282.60" cy="714.10" r="2.80" fill="#0c384c" stroke="none" stroke-width="0" /><circle cx="339.27" cy="734.50" r="2.80" fill="#4a380e" stroke="none" stroke-width="0" /><circle cx="395.94" cy="710.50" r="2.80" fill="#4a380e" stroke="none" stroke-width="0" /><circle cx="452.61" cy="687.20" r="2.80" fill="#4a380e" stroke="none" stroke-width="0" /><text x="550.60" y="714.20" font-size="9.65" text-anchor="middle" fill="#1a1a1a" stroke="#1a1a1a" stroke-width="0.2" >Cells in neighborhood</text><text x="551.00" y="725.60" font-size="9.65" text-anchor="middle" fill="#1a1a1a" stroke="#1a1a1a" stroke-width="0.2" >(CIN)</text><rect x="79.1" y="751.8" width="174.8" height="64.1" fill="#a3d69c"/><rect x="253.9" y="751.8" width="57.99999999999997" height="64.1" fill="#a0d5ea"/><rect x="311.9" y="751.8" width="174.10000000000002" height="64.1" fill="#eed69c"/><line x1="79.1" y1="756.53" x2="253.9" y2="756.53" stroke="#b3dfad" stroke-width="0.9"/><line x1="79.1" y1="766.07" x2="253.9" y2="766.07" stroke="#b3dfad" stroke-width="0.9"/><line x1="79.1" y1="775.61" x2="253.9" y2="775.61" stroke="#b3dfad" stroke-width="0.9"/><line x1="79.1" y1="785.15" x2="253.9" y2="785.15" stroke="#b3dfad" stroke-width="0.9"/><line x1="79.1" y1="794.69" x2="253.9" y2="794.69" stroke="#b3dfad" stroke-width="0.9"/><line x1="79.1" y1="804.23" x2="253.9" y2="804.23" stroke="#b3dfad" stroke-width="0.9"/><line x1="79.1" y1="813.77" x2="253.9" y2="813.77" stroke="#b3dfad" stroke-width="0.9"/><line x1="253.9" y1="756.53" x2="311.9" y2="756.53" stroke="#b3def0" stroke-width="0.9"/><line x1="253.9" y1="766.07" x2="311.9" y2="766.07" stroke="#b3def0" stroke-width="0.9"/><line x1="253.9" y1="775.61" x2="311.9" y2="775.61" stroke="#b3def0" stroke-width="0.9"/><line x1="253.9" y1="785.15" x2="311.9" y2="785.15" stroke="#b3def0" stroke-width="0.9"/><line x1="253.9" y1="794.69" x2="311.9" y2="794.69" stroke="#b3def0" stroke-width="0.9"/><line x1="253.9" y1="804.23" x2="311.9" y2="804.23" stroke="#b3def0" stroke-width="0.9"/><line x1="253.9" y1="813.77" x2="311.9" y2="813.77" stroke="#b3def0" stroke-width="0.9"/><line x1="311.9" y1="756.53" x2="486.0" y2="756.53" stroke="#f4e0b2" stroke-width="0.9"/><line x1="311.9" y1="766.07" x2="486.0" y2="766.07" stroke="#f4e0b2" stroke-width="0.9"/><line x1="311.9" y1="775.61" x2="486.0" y2="775.61" stroke="#f4e0b2" stroke-width="0.9"/><line x1="311.9" y1="785.15" x2="486.0" y2="785.15" stroke="#f4e0b2" stroke-width="0.9"/><line x1="311.9" y1="794.69" x2="486.0" y2="794.69" stroke="#f4e0b2" stroke-width="0.9"/><line x1="311.9" y1="804.23" x2="486.0" y2="804.23" stroke="#f4e0b2" stroke-width="0.9"/><line x1="311.9" y1="813.77" x2="486.0" y2="813.77" stroke="#f4e0b2" stroke-width="0.9"/><line x1="112.59" y1="751.8" x2="112.59" y2="815.9" stroke="#b3dfad" stroke-width="1.6"/><line x1="169.26" y1="751.8" x2="169.26" y2="815.9" stroke="#b3dfad" stroke-width="1.6"/><line x1="225.93" y1="751.8" x2="225.93" y2="815.9" stroke="#b3dfad" stroke-width="1.6"/><line x1="282.60" y1="751.8" x2="282.60" y2="815.9" stroke="#b3def0" stroke-width="1.6"/><line x1="339.27" y1="751.8" x2="339.27" y2="815.9" stroke="#f4e0b2" stroke-width="1.6"/><line x1="395.94" y1="751.8" x2="395.94" y2="815.9" stroke="#f4e0b2" stroke-width="1.6"/><line x1="452.61" y1="751.8" x2="452.61" y2="815.9" stroke="#f4e0b2" stroke-width="1.6"/><line x1="75.1" y1="756.53" x2="79.1" y2="756.53" stroke="#222" stroke-width="1.25"/><text transform="translate(72,759.93) scale(0.8,1)" font-size="8.4" text-anchor="end" fill="#333" stroke="#333" stroke-width="0.12">3.0</text><line x1="75.1" y1="775.61" x2="79.1" y2="775.61" stroke="#222" stroke-width="1.25"/><text transform="translate(72,779.01) scale(0.8,1)" font-size="8.4" text-anchor="end" fill="#333" stroke="#333" stroke-width="0.12">2.0</text><line x1="75.1" y1="794.6899999999999" x2="79.1" y2="794.6899999999999" stroke="#222" stroke-width="1.25"/><text transform="translate(72,798.09) scale(0.8,1)" font-size="8.4" text-anchor="end" fill="#333" stroke="#333" stroke-width="0.12">1.0</text><line x1="75.1" y1="813.77" x2="79.1" y2="813.77" stroke="#222" stroke-width="1.25"/><text transform="translate(72,817.17) scale(0.8,1)" font-size="8.4" text-anchor="end" fill="#333" stroke="#333" stroke-width="0.12">0.0</text><polyline clip-path="url(#cg5)" points="112.59,813.80 169.26,813.80 225.93,812.30 282.60,797.90 339.27,808.70 395.94,791.90 452.61,755.40" fill="none" stroke="#bd4c18" stroke-width="1.4" stroke-dasharray="13.6,6"/><polyline clip-path="url(#cb5)" points="112.59,813.80 169.26,813.80 225.93,812.30 282.60,797.90 339.27,808.70 395.94,791.90 452.61,755.40" fill="none" stroke="#bc4866" stroke-width="1.4" stroke-dasharray="13.6,6"/><polyline clip-path="url(#cy5)" points="112.59,813.80 169.26,813.80 225.93,812.30 282.60,797.90 339.27,808.70 395.94,791.90 452.61,755.40" fill="none" stroke="#ff4812" stroke-width="1.4" stroke-dasharray="13.6,6"/><circle cx="112.59" cy="813.80" r="2.80" fill="#0b380d" stroke="none" stroke-width="0" /><circle cx="169.26" cy="813.80" r="2.80" fill="#0b380d" stroke="none" stroke-width="0" /><circle cx="225.93" cy="812.30" r="2.80" fill="#0b380d" stroke="none" stroke-width="0" /><circle cx="282.60" cy="797.90" r="2.80" fill="#0c384c" stroke="none" stroke-width="0" /><circle cx="339.27" cy="808.70" r="2.80" fill="#4a380e" stroke="none" stroke-width="0" /><circle cx="395.94" cy="791.90" r="2.80" fill="#4a380e" stroke="none" stroke-width="0" /><circle cx="452.61" cy="755.40" r="2.80" fill="#4a380e" stroke="none" stroke-width="0" /><text x="550.50" y="788.10" font-size="9.65" text-anchor="middle" fill="#1a1a1a" stroke="#1a1a1a" stroke-width="0.2" >Mixing score (MS)</text><rect x="79.1" y="819.3" width="174.8" height="64.1" fill="#a3d69c"/><rect x="253.9" y="819.3" width="57.99999999999997" height="64.1" fill="#a0d5ea"/><rect x="311.9" y="819.3" width="174.10000000000002" height="64.1" fill="#eed69c"/><line x1="79.1" y1="824.61" x2="253.9" y2="824.61" stroke="#b3dfad" stroke-width="0.9"/><line x1="79.1" y1="832.61" x2="253.9" y2="832.61" stroke="#b3dfad" stroke-width="0.9"/><line x1="79.1" y1="840.62" x2="253.9" y2="840.62" stroke="#b3dfad" stroke-width="0.9"/><line x1="79.1" y1="848.62" x2="253.9" y2="848.62" stroke="#b3dfad" stroke-width="0.9"/><line x1="79.1" y1="856.62" x2="253.9" y2="856.62" stroke="#b3dfad" stroke-width="0.9"/><line x1="79.1" y1="864.63" x2="253.9" y2="864.63" stroke="#b3dfad" stroke-width="0.9"/><line x1="79.1" y1="872.63" x2="253.9" y2="872.63" stroke="#b3dfad" stroke-width="0.9"/><line x1="79.1" y1="880.64" x2="253.9" y2="880.64" stroke="#b3dfad" stroke-width="0.9"/><line x1="253.9" y1="824.61" x2="311.9" y2="824.61" stroke="#b3def0" stroke-width="0.9"/><line x1="253.9" y1="832.61" x2="311.9" y2="832.61" stroke="#b3def0" stroke-width="0.9"/><line x1="253.9" y1="840.62" x2="311.9" y2="840.62" stroke="#b3def0" stroke-width="0.9"/><line x1="253.9" y1="848.62" x2="311.9" y2="848.62" stroke="#b3def0" stroke-width="0.9"/><line x1="253.9" y1="856.62" x2="311.9" y2="856.62" stroke="#b3def0" stroke-width="0.9"/><line x1="253.9" y1="864.63" x2="311.9" y2="864.63" stroke="#b3def0" stroke-width="0.9"/><line x1="253.9" y1="872.63" x2="311.9" y2="872.63" stroke="#b3def0" stroke-width="0.9"/><line x1="253.9" y1="880.64" x2="311.9" y2="880.64" stroke="#b3def0" stroke-width="0.9"/><line x1="311.9" y1="824.61" x2="486.0" y2="824.61" stroke="#f4e0b2" stroke-width="0.9"/><line x1="311.9" y1="832.61" x2="486.0" y2="832.61" stroke="#f4e0b2" stroke-width="0.9"/><line x1="311.9" y1="840.62" x2="486.0" y2="840.62" stroke="#f4e0b2" stroke-width="0.9"/><line x1="311.9" y1="848.62" x2="486.0" y2="848.62" stroke="#f4e0b2" stroke-width="0.9"/><line x1="311.9" y1="856.62" x2="486.0" y2="856.62" stroke="#f4e0b2" stroke-width="0.9"/><line x1="311.9" y1="864.63" x2="486.0" y2="864.63" stroke="#f4e0b2" stroke-width="0.9"/><line x1="311.9" y1="872.63" x2="486.0" y2="872.63" stroke="#f4e0b2" stroke-width="0.9"/><line x1="311.9" y1="880.64" x2="486.0" y2="880.64" stroke="#f4e0b2" stroke-width="0.9"/><line x1="112.59" y1="819.3" x2="112.59" y2="883.4" stroke="#b3dfad" stroke-width="1.6"/><line x1="169.26" y1="819.3" x2="169.26" y2="883.4" stroke="#b3dfad" stroke-width="1.6"/><line x1="225.93" y1="819.3" x2="225.93" y2="883.4" stroke="#b3dfad" stroke-width="1.6"/><line x1="282.60" y1="819.3" x2="282.60" y2="883.4" stroke="#b3def0" stroke-width="1.6"/><line x1="339.27" y1="819.3" x2="339.27" y2="883.4" stroke="#f4e0b2" stroke-width="1.6"/><line x1="395.94" y1="819.3" x2="395.94" y2="883.4" stroke="#f4e0b2" stroke-width="1.6"/><line x1="452.61" y1="819.3" x2="452.61" y2="883.4" stroke="#f4e0b2" stroke-width="1.6"/><line x1="75.1" y1="832.61" x2="79.1" y2="832.61" stroke="#222" stroke-width="1.25"/><text transform="translate(72,836.01) scale(0.8,1)" font-size="8.4" text-anchor="end" fill="#333" stroke="#333" stroke-width="0.12">0.75</text><line x1="75.1" y1="848.62" x2="79.1" y2="848.62" stroke="#222" stroke-width="1.25"/><text transform="translate(72,852.02) scale(0.8,1)" font-size="8.4" text-anchor="end" fill="#333" stroke="#333" stroke-width="0.12">0.50</text><line x1="75.1" y1="864.63" x2="79.1" y2="864.63" stroke="#222" stroke-width="1.25"/><text transform="translate(72,868.03) scale(0.8,1)" font-size="8.4" text-anchor="end" fill="#333" stroke="#333" stroke-width="0.12">0.25</text><line x1="75.1" y1="880.64" x2="79.1" y2="880.64" stroke="#222" stroke-width="1.25"/><text transform="translate(72,884.04) scale(0.8,1)" font-size="8.4" text-anchor="end" fill="#333" stroke="#333" stroke-width="0.12">0.00</text><polyline clip-path="url(#cg6)" points="112.59,880.80 169.26,880.80 225.93,853.00 282.60,822.40 339.27,880.80 395.94,880.80 452.61,880.80" fill="none" stroke="#bd4c18" stroke-width="1.4" stroke-dasharray="13.6,6"/><polyline clip-path="url(#cb6)" points="112.59,880.80 169.26,880.80 225.93,853.00 282.60,822.40 339.27,880.80 395.94,880.80 452.61,880.80" fill="none" stroke="#bc4866" stroke-width="1.4" stroke-dasharray="13.6,6"/><polyline clip-path="url(#cy6)" points="112.59,880.80 169.26,880.80 225.93,853.00 282.60,822.40 339.27,880.80 395.94,880.80 452.61,880.80" fill="none" stroke="#ff4812" stroke-width="1.4" stroke-dasharray="13.6,6"/><circle cx="112.59" cy="880.80" r="2.80" fill="#0b380d" stroke="none" stroke-width="0" /><circle cx="169.26" cy="880.80" r="2.80" fill="#0b380d" stroke="none" stroke-width="0" /><circle cx="225.93" cy="853.00" r="2.80" fill="#0b380d" stroke="none" stroke-width="0" /><circle cx="282.60" cy="822.40" r="2.80" fill="#0c384c" stroke="none" stroke-width="0" /><circle cx="339.27" cy="880.80" r="2.80" fill="#4a380e" stroke="none" stroke-width="0" /><circle cx="395.94" cy="880.80" r="2.80" fill="#4a380e" stroke="none" stroke-width="0" /><circle cx="452.61" cy="880.80" r="2.80" fill="#4a380e" stroke="none" stroke-width="0" /><text x="550.70" y="849.40" font-size="9.65" text-anchor="middle" fill="#1a1a1a" stroke="#1a1a1a" stroke-width="0.2" >Cross-K intersection</text><text x="551.00" y="861.40" font-size="9.65" text-anchor="middle" fill="#1a1a1a" stroke="#1a1a1a" stroke-width="0.2" >(CKI)</text><line x1="111.10" y1="410.2" x2="111.10" y2="413.5" stroke="#333" stroke-width="1.3"/><line x1="169.30" y1="410.2" x2="169.30" y2="413.5" stroke="#333" stroke-width="1.3"/><line x1="226.60" y1="410.2" x2="226.60" y2="413.5" stroke="#333" stroke-width="1.3"/><line x1="282.90" y1="410.2" x2="282.90" y2="413.5" stroke="#333" stroke-width="1.3"/><line x1="338.70" y1="410.2" x2="338.70" y2="413.5" stroke="#333" stroke-width="1.3"/><line x1="395.60" y1="410.2" x2="395.60" y2="413.5" stroke="#333" stroke-width="1.3"/><line x1="453.40" y1="410.2" x2="453.40" y2="413.5" stroke="#333" stroke-width="1.3"/><text x="35.00" y="648.70" font-size="10.6" text-anchor="middle" fill="#1a1a1a" stroke="#1a1a1a" stroke-width="0.2" transform="rotate(-90 35.0 648.7)" dy="3.7">Score</text></svg></body></html>
